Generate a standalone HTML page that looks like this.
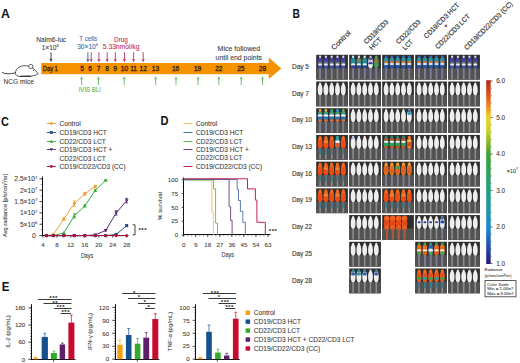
<!DOCTYPE html>
<html><head><meta charset="utf-8"><style>
html,body{margin:0;padding:0;background:#fff;}
body{width:520px;height:363px;overflow:hidden;}
svg{display:block;font-family:"Liberation Sans", sans-serif;}
</style></head><body>
<svg width="520" height="363" viewBox="0 0 520 363">
<text x="1.00" y="17.80" font-size="12.2" fill="#111" text-anchor="start" font-weight="bold" textLength="8.9" lengthAdjust="spacingAndGlyphs" >A</text>
<path d="M2,72.4 C5,74.4 10,74.0 15.4,72.9" fill="none" stroke="#222" stroke-width="0.85" />
<path d="M15.4,73.4 C15.4,68.6 20,65.6 25,65.7 C28.5,65.8 31,67 33.2,68.6 C35.2,70.2 36.8,71.8 38.2,73.7 C36.2,75.2 33.5,75.9 30.5,76.1 L19.5,76.4 C17.2,76.2 15.5,75.2 15.4,73.4 Z" fill="#fff" stroke="#222" stroke-width="0.75" />
<circle cx="30.8" cy="66.5" r="2.1" fill="#fff" stroke="#222" stroke-width="0.7"/>
<circle cx="31.1" cy="66.7" r="0.9" fill="#f4e4e8"/>
<circle cx="33.5" cy="70.3" r="0.55" fill="#222"/>
<line x1="20.00" y1="76.30" x2="31.00" y2="76.30" stroke="#222" stroke-width="1.0" />
<text x="3.60" y="84.40" font-size="6.6" fill="#3b3b3b" stroke="#3b3b3b" stroke-width="0.08" text-anchor="start" font-weight="normal" textLength="30.2" lengthAdjust="spacingAndGlyphs" >NCG mice</text>
<rect x="41.30" y="63.00" width="227.70" height="11.20" fill="#f59200" />
<path d="M268.8,57.6 L281.3,68.6 L268.8,79 Z" fill="#f59200" stroke="none" stroke-width="0.8" />
<text x="42.80" y="71.20" font-size="6.6" fill="#3a2408" stroke="#3a2408" stroke-width="0.3" text-anchor="start" font-weight="normal" textLength="15" lengthAdjust="spacingAndGlyphs" >Day 1</text>
<text x="82.10" y="71.20" font-size="6.6" fill="#3a2408" stroke="#3a2408" stroke-width="0.3" text-anchor="middle" font-weight="normal" >5</text>
<text x="90.20" y="71.20" font-size="6.6" fill="#3a2408" stroke="#3a2408" stroke-width="0.3" text-anchor="middle" font-weight="normal" >6</text>
<text x="98.50" y="71.20" font-size="6.6" fill="#3a2408" stroke="#3a2408" stroke-width="0.3" text-anchor="middle" font-weight="normal" >7</text>
<text x="107.20" y="71.20" font-size="6.6" fill="#3a2408" stroke="#3a2408" stroke-width="0.3" text-anchor="middle" font-weight="normal" >8</text>
<text x="115.20" y="71.20" font-size="6.6" fill="#3a2408" stroke="#3a2408" stroke-width="0.3" text-anchor="middle" font-weight="normal" >9</text>
<text x="124.40" y="71.20" font-size="6.6" fill="#3a2408" stroke="#3a2408" stroke-width="0.3" text-anchor="middle" font-weight="normal" >10</text>
<text x="133.60" y="71.20" font-size="6.6" fill="#3a2408" stroke="#3a2408" stroke-width="0.3" text-anchor="middle" font-weight="normal" >11</text>
<text x="143.20" y="71.20" font-size="6.6" fill="#3a2408" stroke="#3a2408" stroke-width="0.3" text-anchor="middle" font-weight="normal" >12</text>
<text x="155.40" y="71.20" font-size="6.6" fill="#3a2408" stroke="#3a2408" stroke-width="0.3" text-anchor="middle" font-weight="normal" >13</text>
<text x="175.60" y="71.20" font-size="6.6" fill="#3a2408" stroke="#3a2408" stroke-width="0.3" text-anchor="middle" font-weight="normal" >16</text>
<text x="197.60" y="71.20" font-size="6.6" fill="#3a2408" stroke="#3a2408" stroke-width="0.3" text-anchor="middle" font-weight="normal" >19</text>
<text x="218.80" y="71.20" font-size="6.6" fill="#3a2408" stroke="#3a2408" stroke-width="0.3" text-anchor="middle" font-weight="normal" >22</text>
<text x="240.80" y="71.20" font-size="6.6" fill="#3a2408" stroke="#3a2408" stroke-width="0.3" text-anchor="middle" font-weight="normal" >25</text>
<text x="262.50" y="71.20" font-size="6.6" fill="#3a2408" stroke="#3a2408" stroke-width="0.3" text-anchor="middle" font-weight="normal" >28</text>
<text x="51.20" y="42.00" font-size="6.6" fill="#3b3b3b" stroke="#3b3b3b" stroke-width="0.08" text-anchor="middle" font-weight="normal" textLength="30" lengthAdjust="spacingAndGlyphs" >Nalm6-luc</text>
<text x="50.20" y="49.60" font-size="6.6" fill="#3b3b3b" stroke="#3b3b3b" stroke-width="0.08" text-anchor="middle" font-weight="normal" >1×10<tspan font-size="4" dy="-2.6">6</tspan></text>
<line x1="51.00" y1="52.40" x2="51.00" y2="59.50" stroke="#222" stroke-width="0.85" />
<path d="M49.30,58.60 L51.00,62.00 L52.70,58.60 L51.00,59.60 Z" fill="#222" stroke="none" stroke-width="0.8" />
<text x="88.20" y="41.40" font-size="6.6" fill="#3a6aa8" stroke="#3a6aa8" stroke-width="0.08" text-anchor="middle" font-weight="normal" textLength="17.8" lengthAdjust="spacingAndGlyphs" >T cells</text>
<text x="87.60" y="48.60" font-size="6.6" fill="#3a6aa8" stroke="#3a6aa8" stroke-width="0.08" text-anchor="middle" font-weight="normal" >30×10<tspan font-size="4" dy="-2.6">6</tspan></text>
<text x="121.00" y="41.90" font-size="6.6" fill="#c02a5a" stroke="#c02a5a" stroke-width="0.08" text-anchor="middle" font-weight="normal" textLength="13.8" lengthAdjust="spacingAndGlyphs" >Drug</text>
<text x="121.10" y="49.00" font-size="6.6" fill="#c02a5a" stroke="#c02a5a" stroke-width="0.08" text-anchor="middle" font-weight="normal" textLength="36.6" lengthAdjust="spacingAndGlyphs" >5.33nmol/kg</text>
<line x1="87.90" y1="52.20" x2="87.90" y2="59.70" stroke="#2c4f8a" stroke-width="0.85" />
<path d="M86.20,58.80 L87.90,62.20 L89.60,58.80 L87.90,59.80 Z" fill="#2c4f8a" stroke="none" stroke-width="0.8" />
<line x1="91.20" y1="52.20" x2="91.20" y2="59.70" stroke="#b8245a" stroke-width="0.85" />
<path d="M89.50,58.80 L91.20,62.20 L92.90,58.80 L91.20,59.80 Z" fill="#b8245a" stroke="none" stroke-width="0.8" />
<line x1="98.90" y1="52.20" x2="98.90" y2="59.70" stroke="#b8245a" stroke-width="0.85" />
<path d="M97.20,58.80 L98.90,62.20 L100.60,58.80 L98.90,59.80 Z" fill="#b8245a" stroke="none" stroke-width="0.8" />
<line x1="107.20" y1="52.20" x2="107.20" y2="59.70" stroke="#b8245a" stroke-width="0.85" />
<path d="M105.50,58.80 L107.20,62.20 L108.90,58.80 L107.20,59.80 Z" fill="#b8245a" stroke="none" stroke-width="0.8" />
<line x1="115.30" y1="52.20" x2="115.30" y2="59.70" stroke="#b8245a" stroke-width="0.85" />
<path d="M113.60,58.80 L115.30,62.20 L117.00,58.80 L115.30,59.80 Z" fill="#b8245a" stroke="none" stroke-width="0.8" />
<line x1="124.50" y1="52.20" x2="124.50" y2="59.70" stroke="#b8245a" stroke-width="0.85" />
<path d="M122.80,58.80 L124.50,62.20 L126.20,58.80 L124.50,59.80 Z" fill="#b8245a" stroke="none" stroke-width="0.8" />
<line x1="133.60" y1="52.20" x2="133.60" y2="59.70" stroke="#b8245a" stroke-width="0.85" />
<path d="M131.90,58.80 L133.60,62.20 L135.30,58.80 L133.60,59.80 Z" fill="#b8245a" stroke="none" stroke-width="0.8" />
<line x1="143.20" y1="52.20" x2="143.20" y2="59.70" stroke="#b8245a" stroke-width="0.85" />
<path d="M141.50,58.80 L143.20,62.20 L144.90,58.80 L143.20,59.80 Z" fill="#b8245a" stroke="none" stroke-width="0.8" />
<line x1="81.60" y1="85.00" x2="81.60" y2="78.90" stroke="#4caf50" stroke-width="0.8" />
<path d="M80.10,79.60 L81.60,76.60 L83.10,79.60 L81.60,78.70 Z" fill="#4caf50" stroke="none" stroke-width="0.8" />
<line x1="98.50" y1="85.00" x2="98.50" y2="78.90" stroke="#4caf50" stroke-width="0.8" />
<path d="M97.00,79.60 L98.50,76.60 L100.00,79.60 L98.50,78.70 Z" fill="#4caf50" stroke="none" stroke-width="0.8" />
<line x1="124.20" y1="85.00" x2="124.20" y2="78.90" stroke="#4caf50" stroke-width="0.8" />
<path d="M122.70,79.60 L124.20,76.60 L125.70,79.60 L124.20,78.70 Z" fill="#4caf50" stroke="none" stroke-width="0.8" />
<line x1="155.70" y1="85.00" x2="155.70" y2="78.90" stroke="#4caf50" stroke-width="0.8" />
<path d="M154.20,79.60 L155.70,76.60 L157.20,79.60 L155.70,78.70 Z" fill="#4caf50" stroke="none" stroke-width="0.8" />
<line x1="176.00" y1="85.00" x2="176.00" y2="78.90" stroke="#4caf50" stroke-width="0.8" />
<path d="M174.50,79.60 L176.00,76.60 L177.50,79.60 L176.00,78.70 Z" fill="#4caf50" stroke="none" stroke-width="0.8" />
<line x1="198.00" y1="85.00" x2="198.00" y2="78.90" stroke="#4caf50" stroke-width="0.8" />
<path d="M196.50,79.60 L198.00,76.60 L199.50,79.60 L198.00,78.70 Z" fill="#4caf50" stroke="none" stroke-width="0.8" />
<line x1="218.80" y1="85.00" x2="218.80" y2="78.90" stroke="#4caf50" stroke-width="0.8" />
<path d="M217.30,79.60 L218.80,76.60 L220.30,79.60 L218.80,78.70 Z" fill="#4caf50" stroke="none" stroke-width="0.8" />
<line x1="241.20" y1="85.00" x2="241.20" y2="78.90" stroke="#4caf50" stroke-width="0.8" />
<path d="M239.70,79.60 L241.20,76.60 L242.70,79.60 L241.20,78.70 Z" fill="#4caf50" stroke="none" stroke-width="0.8" />
<line x1="262.50" y1="85.00" x2="262.50" y2="78.90" stroke="#4caf50" stroke-width="0.8" />
<path d="M261.00,79.60 L262.50,76.60 L264.00,79.60 L262.50,78.70 Z" fill="#4caf50" stroke="none" stroke-width="0.8" />
<text x="78.70" y="91.60" font-size="6.6" fill="#4caf50" stroke="#4caf50" stroke-width="0.08" text-anchor="start" font-weight="normal" textLength="22.1" lengthAdjust="spacingAndGlyphs" >IVIS BLI</text>
<text x="238.80" y="51.00" font-size="7" fill="#3b3b3b" stroke="#3b3b3b" stroke-width="0.08" text-anchor="middle" font-weight="normal" textLength="42.5" lengthAdjust="spacingAndGlyphs" >Mice followed</text>
<text x="238.80" y="59.60" font-size="7" fill="#3b3b3b" stroke="#3b3b3b" stroke-width="0.08" text-anchor="middle" font-weight="normal" textLength="46.5" lengthAdjust="spacingAndGlyphs" >until end points</text>
<text x="292.60" y="17.90" font-size="12.2" fill="#111" text-anchor="start" font-weight="bold" textLength="7.4" lengthAdjust="spacingAndGlyphs" >B</text>
<text x="292.00" y="68.90" font-size="7.0" fill="#3b3b3b" stroke="#3b3b3b" stroke-width="0.15" text-anchor="start" font-weight="normal" textLength="17.0" lengthAdjust="spacingAndGlyphs" >Day 5</text>
<text x="292.00" y="95.61" font-size="7.0" fill="#3b3b3b" stroke="#3b3b3b" stroke-width="0.15" text-anchor="start" font-weight="normal" textLength="17.0" lengthAdjust="spacingAndGlyphs" >Day 7</text>
<text x="292.00" y="122.32" font-size="7.0" fill="#3b3b3b" stroke="#3b3b3b" stroke-width="0.15" text-anchor="start" font-weight="normal" textLength="20.0" lengthAdjust="spacingAndGlyphs" >Day 10</text>
<text x="292.00" y="149.03" font-size="7.0" fill="#3b3b3b" stroke="#3b3b3b" stroke-width="0.15" text-anchor="start" font-weight="normal" textLength="20.0" lengthAdjust="spacingAndGlyphs" >Day 13</text>
<text x="292.00" y="175.74" font-size="7.0" fill="#3b3b3b" stroke="#3b3b3b" stroke-width="0.15" text-anchor="start" font-weight="normal" textLength="20.0" lengthAdjust="spacingAndGlyphs" >Day 16</text>
<text x="292.00" y="202.45" font-size="7.0" fill="#3b3b3b" stroke="#3b3b3b" stroke-width="0.15" text-anchor="start" font-weight="normal" textLength="20.0" lengthAdjust="spacingAndGlyphs" >Day 19</text>
<text x="292.00" y="229.16" font-size="7.0" fill="#3b3b3b" stroke="#3b3b3b" stroke-width="0.15" text-anchor="start" font-weight="normal" textLength="20.0" lengthAdjust="spacingAndGlyphs" >Day 22</text>
<text x="292.00" y="255.87" font-size="7.0" fill="#3b3b3b" stroke="#3b3b3b" stroke-width="0.15" text-anchor="start" font-weight="normal" textLength="20.0" lengthAdjust="spacingAndGlyphs" >Day 25</text>
<text x="292.00" y="282.58" font-size="7.0" fill="#3b3b3b" stroke="#3b3b3b" stroke-width="0.15" text-anchor="start" font-weight="normal" textLength="20.0" lengthAdjust="spacingAndGlyphs" >Day 28</text>
<text x="0" y="0" font-size="7.1" fill="#3b3b3b" stroke="#3b3b3b" stroke-width="0.2" text-anchor="start" textLength="24.5" lengthAdjust="spacingAndGlyphs" transform="translate(334.00,50.50) rotate(-45)">Control</text>
<text x="0" y="0" font-size="7.1" fill="#3b3b3b" stroke="#3b3b3b" stroke-width="0.2" text-anchor="start" textLength="31.5" lengthAdjust="spacingAndGlyphs" transform="translate(366.60,44.60) rotate(-45)">CD19/CD3</text>
<text x="0" y="0" font-size="7.1" fill="#3b3b3b" stroke="#3b3b3b" stroke-width="0.2" text-anchor="start" textLength="14.5" lengthAdjust="spacingAndGlyphs" transform="translate(372.00,50.40) rotate(-45)">HCT</text>
<text x="0" y="0" font-size="7.1" fill="#3b3b3b" stroke="#3b3b3b" stroke-width="0.2" text-anchor="start" textLength="31.5" lengthAdjust="spacingAndGlyphs" transform="translate(398.80,44.60) rotate(-45)">CD22/CD3</text>
<text x="0" y="0" font-size="7.1" fill="#3b3b3b" stroke="#3b3b3b" stroke-width="0.2" text-anchor="start" textLength="11.5" lengthAdjust="spacingAndGlyphs" transform="translate(405.30,50.40) rotate(-45)">LCT</text>
<text x="0" y="0" font-size="7.1" fill="#3b3b3b" stroke="#3b3b3b" stroke-width="0.2" text-anchor="start" textLength="47" lengthAdjust="spacingAndGlyphs" transform="translate(426.60,38.90) rotate(-45)">CD19/CD3 HCT</text>
<text x="0" y="0" font-size="6" fill="#3b3b3b" stroke="#3b3b3b" stroke-width="0.2" text-anchor="start" transform="translate(446.00,28.50) rotate(-45)">+</text>
<text x="0" y="0" font-size="7.1" fill="#3b3b3b" stroke="#3b3b3b" stroke-width="0.2" text-anchor="start" textLength="46" lengthAdjust="spacingAndGlyphs" transform="translate(438.00,49.40) rotate(-45)">CD22/CD3 LCT</text>
<text x="0" y="0" font-size="7.1" fill="#3b3b3b" stroke="#3b3b3b" stroke-width="0.2" text-anchor="start" textLength="65" lengthAdjust="spacingAndGlyphs" transform="translate(467.00,50.40) rotate(-45)">CD19/CD22/CD3 (CC)</text>
<rect x="316.20" y="54.80" width="31.70" height="24.80" fill="#2e2e2e" />
<rect x="316.20" y="68.20" width="31.70" height="11.40" fill="#525252" />
<line x1="320.10" y1="67.70" x2="320.10" y2="79.20" stroke="#8c8c8c" stroke-width="1.6" />
<path d="M320.10,55.70 C321.00,55.70 321.30,56.80 321.40,58.00 C321.90,58.60 322.50,59.80 322.50,63.00 C322.60,66.40 321.90,68.60 320.10,68.60 C318.30,68.60 317.60,66.40 317.70,63.00 C317.70,59.80 318.30,58.60 318.80,58.00 C318.90,56.80 319.20,55.70 320.10,55.70 Z" fill="#4a4a9a" stroke="none" stroke-width="0.8" />
<ellipse cx="320.10" cy="56.80" rx="1.10" ry="1.30" fill="#d8d8ec"/>
<ellipse cx="320.10" cy="59.70" rx="2.10" ry="1.80" fill="#40409a"/>
<ellipse cx="320.10" cy="63.10" rx="2.10" ry="0.50" fill="#90b040"/>
<ellipse cx="320.10" cy="64.60" rx="2.00" ry="1.20" fill="#e8e8f0"/>
<ellipse cx="320.10" cy="67.20" rx="1.70" ry="1.40" fill="#4050a0"/>
<line x1="320.10" y1="68.40" x2="320.10" y2="77.60" stroke="#7a7a9c" stroke-width="1.3" />
<line x1="325.90" y1="67.70" x2="325.90" y2="79.20" stroke="#8c8c8c" stroke-width="1.6" />
<path d="M325.90,55.70 C326.80,55.70 327.10,56.80 327.20,58.00 C327.70,58.60 328.30,59.80 328.30,63.00 C328.40,66.40 327.70,68.60 325.90,68.60 C324.10,68.60 323.40,66.40 323.50,63.00 C323.50,59.80 324.10,58.60 324.60,58.00 C324.70,56.80 325.00,55.70 325.90,55.70 Z" fill="#4a4a9a" stroke="none" stroke-width="0.8" />
<ellipse cx="325.90" cy="56.80" rx="1.10" ry="1.30" fill="#d8d8ec"/>
<ellipse cx="325.90" cy="59.70" rx="2.10" ry="1.80" fill="#40409a"/>
<ellipse cx="325.90" cy="63.10" rx="2.10" ry="0.50" fill="#90b040"/>
<ellipse cx="325.90" cy="64.60" rx="2.00" ry="1.20" fill="#e8e8f0"/>
<ellipse cx="325.90" cy="67.20" rx="1.70" ry="1.40" fill="#4050a0"/>
<line x1="325.90" y1="68.40" x2="325.90" y2="77.60" stroke="#7a7a9c" stroke-width="1.3" />
<line x1="331.70" y1="67.70" x2="331.70" y2="79.20" stroke="#8c8c8c" stroke-width="1.6" />
<path d="M331.70,55.70 C332.60,55.70 332.90,56.80 333.00,58.00 C333.50,58.60 334.10,59.80 334.10,63.00 C334.20,66.40 333.50,68.60 331.70,68.60 C329.90,68.60 329.20,66.40 329.30,63.00 C329.30,59.80 329.90,58.60 330.40,58.00 C330.50,56.80 330.80,55.70 331.70,55.70 Z" fill="#4a4a9a" stroke="none" stroke-width="0.8" />
<ellipse cx="331.70" cy="56.80" rx="1.10" ry="1.30" fill="#d8d8ec"/>
<ellipse cx="331.70" cy="59.70" rx="2.10" ry="1.80" fill="#40409a"/>
<ellipse cx="331.70" cy="63.10" rx="2.10" ry="0.50" fill="#90b040"/>
<ellipse cx="331.70" cy="64.60" rx="2.00" ry="1.20" fill="#e8e8f0"/>
<ellipse cx="331.70" cy="67.20" rx="1.70" ry="1.40" fill="#4050a0"/>
<line x1="331.70" y1="68.40" x2="331.70" y2="77.60" stroke="#7a7a9c" stroke-width="1.3" />
<line x1="337.50" y1="67.70" x2="337.50" y2="79.20" stroke="#8c8c8c" stroke-width="1.6" />
<path d="M337.50,55.70 C338.40,55.70 338.70,56.80 338.80,58.00 C339.30,58.60 339.90,59.80 339.90,63.00 C340.00,66.40 339.30,68.60 337.50,68.60 C335.70,68.60 335.00,66.40 335.10,63.00 C335.10,59.80 335.70,58.60 336.20,58.00 C336.30,56.80 336.60,55.70 337.50,55.70 Z" fill="#4a4a9a" stroke="none" stroke-width="0.8" />
<ellipse cx="337.50" cy="56.80" rx="1.10" ry="1.30" fill="#d8d8ec"/>
<ellipse cx="337.50" cy="59.70" rx="2.10" ry="1.80" fill="#40409a"/>
<ellipse cx="337.50" cy="63.10" rx="2.10" ry="0.50" fill="#90b040"/>
<ellipse cx="337.50" cy="64.60" rx="2.00" ry="1.20" fill="#e8e8f0"/>
<ellipse cx="337.50" cy="67.20" rx="1.70" ry="1.40" fill="#4050a0"/>
<line x1="337.50" y1="68.40" x2="337.50" y2="77.60" stroke="#7a7a9c" stroke-width="1.3" />
<line x1="343.30" y1="67.70" x2="343.30" y2="79.20" stroke="#8c8c8c" stroke-width="1.6" />
<path d="M343.30,55.70 C344.20,55.70 344.50,56.80 344.60,58.00 C345.10,58.60 345.70,59.80 345.70,63.00 C345.80,66.40 345.10,68.60 343.30,68.60 C341.50,68.60 340.80,66.40 340.90,63.00 C340.90,59.80 341.50,58.60 342.00,58.00 C342.10,56.80 342.40,55.70 343.30,55.70 Z" fill="#4a4a9a" stroke="none" stroke-width="0.8" />
<ellipse cx="343.30" cy="56.80" rx="1.10" ry="1.30" fill="#d8d8ec"/>
<ellipse cx="343.30" cy="59.70" rx="2.10" ry="1.80" fill="#40409a"/>
<ellipse cx="343.30" cy="63.10" rx="2.10" ry="0.50" fill="#90b040"/>
<ellipse cx="343.30" cy="64.60" rx="2.00" ry="1.20" fill="#e8e8f0"/>
<ellipse cx="343.30" cy="67.20" rx="1.70" ry="1.40" fill="#4050a0"/>
<line x1="343.30" y1="68.40" x2="343.30" y2="77.60" stroke="#7a7a9c" stroke-width="1.3" />
<rect x="349.20" y="54.80" width="31.70" height="24.80" fill="#2e2e2e" />
<rect x="349.20" y="68.20" width="31.70" height="11.40" fill="#525252" />
<line x1="353.10" y1="67.70" x2="353.10" y2="79.20" stroke="#8c8c8c" stroke-width="1.6" />
<path d="M353.10,55.70 C354.00,55.70 354.30,56.80 354.40,58.00 C354.90,58.60 355.50,59.80 355.50,63.00 C355.60,66.40 354.90,68.60 353.10,68.60 C351.30,68.60 350.60,66.40 350.70,63.00 C350.70,59.80 351.30,58.60 351.80,58.00 C351.90,56.80 352.20,55.70 353.10,55.70 Z" fill="#2a8a9a" stroke="none" stroke-width="0.8" />
<ellipse cx="353.10" cy="56.80" rx="1.10" ry="1.30" fill="#e0e8f0"/>
<ellipse cx="353.10" cy="60.20" rx="2.20" ry="1.80" fill="#2a8a98"/>
<ellipse cx="353.10" cy="64.40" rx="2.10" ry="1.10" fill="#eeeeee"/>
<ellipse cx="353.10" cy="67.00" rx="1.80" ry="1.40" fill="#3a3aa0"/>
<line x1="353.10" y1="68.40" x2="353.10" y2="77.60" stroke="#7a7a9c" stroke-width="1.3" />
<line x1="358.90" y1="67.70" x2="358.90" y2="79.20" stroke="#8c8c8c" stroke-width="1.6" />
<path d="M358.90,55.70 C359.80,55.70 360.10,56.80 360.20,58.00 C360.70,58.60 361.30,59.80 361.30,63.00 C361.40,66.40 360.70,68.60 358.90,68.60 C357.10,68.60 356.40,66.40 356.50,63.00 C356.50,59.80 357.10,58.60 357.60,58.00 C357.70,56.80 358.00,55.70 358.90,55.70 Z" fill="#2a8a9a" stroke="none" stroke-width="0.8" />
<ellipse cx="358.90" cy="56.80" rx="1.10" ry="1.30" fill="#e0e8f0"/>
<ellipse cx="358.90" cy="60.20" rx="2.20" ry="1.80" fill="#8a8040"/>
<ellipse cx="358.90" cy="64.40" rx="2.10" ry="1.10" fill="#eeeeee"/>
<ellipse cx="358.90" cy="67.00" rx="1.80" ry="1.40" fill="#3a3aa0"/>
<line x1="358.90" y1="68.40" x2="358.90" y2="77.60" stroke="#7a7a9c" stroke-width="1.3" />
<line x1="364.70" y1="67.70" x2="364.70" y2="79.20" stroke="#8c8c8c" stroke-width="1.6" />
<path d="M364.70,55.70 C365.60,55.70 365.90,56.80 366.00,58.00 C366.50,58.60 367.10,59.80 367.10,63.00 C367.20,66.40 366.50,68.60 364.70,68.60 C362.90,68.60 362.20,66.40 362.30,63.00 C362.30,59.80 362.90,58.60 363.40,58.00 C363.50,56.80 363.80,55.70 364.70,55.70 Z" fill="#2a8a9a" stroke="none" stroke-width="0.8" />
<ellipse cx="364.70" cy="56.80" rx="1.10" ry="1.30" fill="#e0e8f0"/>
<ellipse cx="364.70" cy="60.20" rx="2.20" ry="1.80" fill="#2a8a98"/>
<ellipse cx="364.70" cy="64.40" rx="2.10" ry="1.10" fill="#eeeeee"/>
<ellipse cx="364.70" cy="67.00" rx="1.80" ry="1.40" fill="#3a3aa0"/>
<line x1="364.70" y1="68.40" x2="364.70" y2="77.60" stroke="#7a7a9c" stroke-width="1.3" />
<line x1="370.50" y1="67.70" x2="370.50" y2="79.20" stroke="#8c8c8c" stroke-width="1.6" />
<path d="M370.50,55.70 C371.40,55.70 371.70,56.80 371.80,58.00 C372.30,58.60 372.90,59.80 372.90,63.00 C373.00,66.40 372.30,68.60 370.50,68.60 C368.70,68.60 368.00,66.40 368.10,63.00 C368.10,59.80 368.70,58.60 369.20,58.00 C369.30,56.80 369.60,55.70 370.50,55.70 Z" fill="#d8d8ec" stroke="none" stroke-width="0.8" />
<ellipse cx="370.50" cy="58.70" rx="1.80" ry="1.50" fill="#5060b0"/>
<ellipse cx="370.50" cy="63.20" rx="2.00" ry="1.20" fill="#3a3aa0"/>
<ellipse cx="370.50" cy="65.70" rx="2.00" ry="1.50" fill="#f0f0f0"/>
<line x1="370.50" y1="68.40" x2="370.50" y2="77.60" stroke="#7a7a9c" stroke-width="1.3" />
<line x1="376.30" y1="67.70" x2="376.30" y2="79.20" stroke="#8c8c8c" stroke-width="1.6" />
<path d="M376.30,55.70 C377.20,55.70 377.50,56.80 377.60,58.00 C378.10,58.60 378.70,59.80 378.70,63.00 C378.80,66.40 378.10,68.60 376.30,68.60 C374.50,68.60 373.80,66.40 373.90,63.00 C373.90,59.80 374.50,58.60 375.00,58.00 C375.10,56.80 375.40,55.70 376.30,55.70 Z" fill="#4a8a50" stroke="none" stroke-width="0.8" />
<ellipse cx="376.30" cy="57.20" rx="1.20" ry="1.60" fill="#50a070"/>
<ellipse cx="376.30" cy="61.20" rx="2.40" ry="2.00" fill="#8a7a40"/>
<ellipse cx="376.30" cy="65.20" rx="2.20" ry="2.00" fill="#40a060"/>
<line x1="376.30" y1="68.40" x2="376.30" y2="77.60" stroke="#7a7a9c" stroke-width="1.3" />
<rect x="382.20" y="54.80" width="31.70" height="24.80" fill="#2e2e2e" />
<rect x="382.20" y="68.20" width="31.70" height="11.40" fill="#525252" />
<line x1="386.10" y1="67.70" x2="386.10" y2="79.20" stroke="#8c8c8c" stroke-width="1.6" />
<path d="M386.10,55.70 C387.00,55.70 387.30,56.80 387.40,58.00 C387.90,58.60 388.50,59.80 388.50,63.00 C388.60,66.40 387.90,68.60 386.10,68.60 C384.30,68.60 383.60,66.40 383.70,63.00 C383.70,59.80 384.30,58.60 384.80,58.00 C384.90,56.80 385.20,55.70 386.10,55.70 Z" fill="#2a6ab0" stroke="none" stroke-width="0.8" />
<ellipse cx="386.10" cy="57.00" rx="1.20" ry="1.50" fill="#3a70c0"/>
<ellipse cx="386.10" cy="59.40" rx="2.10" ry="1.60" fill="#2a9a9a"/>
<ellipse cx="386.10" cy="62.00" rx="2.20" ry="0.90" fill="#e07a28"/>
<ellipse cx="386.10" cy="64.00" rx="2.10" ry="1.10" fill="#f0f0f0"/>
<ellipse cx="386.10" cy="66.80" rx="1.90" ry="1.50" fill="#2a50a8"/>
<line x1="386.10" y1="68.40" x2="386.10" y2="77.60" stroke="#7a7a9c" stroke-width="1.3" />
<line x1="391.90" y1="67.70" x2="391.90" y2="79.20" stroke="#8c8c8c" stroke-width="1.6" />
<path d="M391.90,55.70 C392.80,55.70 393.10,56.80 393.20,58.00 C393.70,58.60 394.30,59.80 394.30,63.00 C394.40,66.40 393.70,68.60 391.90,68.60 C390.10,68.60 389.40,66.40 389.50,63.00 C389.50,59.80 390.10,58.60 390.60,58.00 C390.70,56.80 391.00,55.70 391.90,55.70 Z" fill="#2a6ab0" stroke="none" stroke-width="0.8" />
<ellipse cx="391.90" cy="57.00" rx="1.20" ry="1.50" fill="#3a70c0"/>
<ellipse cx="391.90" cy="59.40" rx="2.10" ry="1.60" fill="#2a9a9a"/>
<ellipse cx="391.90" cy="62.00" rx="2.20" ry="0.90" fill="#e07a28"/>
<ellipse cx="391.90" cy="64.00" rx="2.10" ry="1.10" fill="#f0f0f0"/>
<ellipse cx="391.90" cy="66.80" rx="1.90" ry="1.50" fill="#2a50a8"/>
<line x1="391.90" y1="68.40" x2="391.90" y2="77.60" stroke="#7a7a9c" stroke-width="1.3" />
<line x1="397.70" y1="67.70" x2="397.70" y2="79.20" stroke="#8c8c8c" stroke-width="1.6" />
<path d="M397.70,55.70 C398.60,55.70 398.90,56.80 399.00,58.00 C399.50,58.60 400.10,59.80 400.10,63.00 C400.20,66.40 399.50,68.60 397.70,68.60 C395.90,68.60 395.20,66.40 395.30,63.00 C395.30,59.80 395.90,58.60 396.40,58.00 C396.50,56.80 396.80,55.70 397.70,55.70 Z" fill="#2a6ab0" stroke="none" stroke-width="0.8" />
<ellipse cx="397.70" cy="57.00" rx="1.20" ry="1.50" fill="#3a70c0"/>
<ellipse cx="397.70" cy="59.40" rx="2.10" ry="1.60" fill="#2a9a9a"/>
<ellipse cx="397.70" cy="62.00" rx="2.20" ry="0.90" fill="#e07a28"/>
<ellipse cx="397.70" cy="64.00" rx="2.10" ry="1.10" fill="#f0f0f0"/>
<ellipse cx="397.70" cy="66.80" rx="1.90" ry="1.50" fill="#2a50a8"/>
<line x1="397.70" y1="68.40" x2="397.70" y2="77.60" stroke="#7a7a9c" stroke-width="1.3" />
<line x1="403.50" y1="67.70" x2="403.50" y2="79.20" stroke="#8c8c8c" stroke-width="1.6" />
<path d="M403.50,55.70 C404.40,55.70 404.70,56.80 404.80,58.00 C405.30,58.60 405.90,59.80 405.90,63.00 C406.00,66.40 405.30,68.60 403.50,68.60 C401.70,68.60 401.00,66.40 401.10,63.00 C401.10,59.80 401.70,58.60 402.20,58.00 C402.30,56.80 402.60,55.70 403.50,55.70 Z" fill="#2a6ab0" stroke="none" stroke-width="0.8" />
<ellipse cx="403.50" cy="57.00" rx="1.20" ry="1.50" fill="#3a70c0"/>
<ellipse cx="403.50" cy="59.40" rx="2.10" ry="1.60" fill="#2a9a9a"/>
<ellipse cx="403.50" cy="62.00" rx="2.20" ry="0.90" fill="#e07a28"/>
<ellipse cx="403.50" cy="64.00" rx="2.10" ry="1.10" fill="#f0f0f0"/>
<ellipse cx="403.50" cy="66.80" rx="1.90" ry="1.50" fill="#2a50a8"/>
<line x1="403.50" y1="68.40" x2="403.50" y2="77.60" stroke="#7a7a9c" stroke-width="1.3" />
<line x1="409.30" y1="67.70" x2="409.30" y2="79.20" stroke="#8c8c8c" stroke-width="1.6" />
<path d="M409.30,55.70 C410.20,55.70 410.50,56.80 410.60,58.00 C411.10,58.60 411.70,59.80 411.70,63.00 C411.80,66.40 411.10,68.60 409.30,68.60 C407.50,68.60 406.80,66.40 406.90,63.00 C406.90,59.80 407.50,58.60 408.00,58.00 C408.10,56.80 408.40,55.70 409.30,55.70 Z" fill="#2a6ab0" stroke="none" stroke-width="0.8" />
<ellipse cx="409.30" cy="57.00" rx="1.20" ry="1.50" fill="#3a70c0"/>
<ellipse cx="409.30" cy="59.40" rx="2.10" ry="1.60" fill="#2a9a9a"/>
<ellipse cx="409.30" cy="62.00" rx="2.20" ry="0.90" fill="#e07a28"/>
<ellipse cx="409.30" cy="64.00" rx="2.10" ry="1.10" fill="#f0f0f0"/>
<ellipse cx="409.30" cy="66.80" rx="1.90" ry="1.50" fill="#2a50a8"/>
<line x1="409.30" y1="68.40" x2="409.30" y2="77.60" stroke="#7a7a9c" stroke-width="1.3" />
<rect x="415.20" y="54.80" width="31.70" height="24.80" fill="#2e2e2e" />
<rect x="415.20" y="68.20" width="31.70" height="11.40" fill="#525252" />
<line x1="419.10" y1="67.70" x2="419.10" y2="79.20" stroke="#8c8c8c" stroke-width="1.6" />
<path d="M419.10,55.70 C420.00,55.70 420.30,56.80 420.40,58.00 C420.90,58.60 421.50,59.80 421.50,63.00 C421.60,66.40 420.90,68.60 419.10,68.60 C417.30,68.60 416.60,66.40 416.70,63.00 C416.70,59.80 417.30,58.60 417.80,58.00 C417.90,56.80 418.20,55.70 419.10,55.70 Z" fill="#2a6ab0" stroke="none" stroke-width="0.8" />
<ellipse cx="419.10" cy="57.00" rx="1.20" ry="1.50" fill="#3a70c0"/>
<ellipse cx="419.10" cy="59.40" rx="2.10" ry="1.60" fill="#2a9a9a"/>
<ellipse cx="419.10" cy="62.00" rx="2.20" ry="0.90" fill="#e07a28"/>
<ellipse cx="419.10" cy="64.00" rx="2.10" ry="1.10" fill="#f0f0f0"/>
<ellipse cx="419.10" cy="66.80" rx="1.90" ry="1.50" fill="#2a50a8"/>
<line x1="419.10" y1="68.40" x2="419.10" y2="77.60" stroke="#7a7a9c" stroke-width="1.3" />
<line x1="424.90" y1="67.70" x2="424.90" y2="79.20" stroke="#8c8c8c" stroke-width="1.6" />
<path d="M424.90,55.70 C425.80,55.70 426.10,56.80 426.20,58.00 C426.70,58.60 427.30,59.80 427.30,63.00 C427.40,66.40 426.70,68.60 424.90,68.60 C423.10,68.60 422.40,66.40 422.50,63.00 C422.50,59.80 423.10,58.60 423.60,58.00 C423.70,56.80 424.00,55.70 424.90,55.70 Z" fill="#2a6ab0" stroke="none" stroke-width="0.8" />
<ellipse cx="424.90" cy="57.00" rx="1.20" ry="1.50" fill="#3a70c0"/>
<ellipse cx="424.90" cy="59.40" rx="2.10" ry="1.60" fill="#2a9a9a"/>
<ellipse cx="424.90" cy="62.00" rx="2.20" ry="0.90" fill="#e07a28"/>
<ellipse cx="424.90" cy="64.00" rx="2.10" ry="1.10" fill="#f0f0f0"/>
<ellipse cx="424.90" cy="66.80" rx="1.90" ry="1.50" fill="#2a50a8"/>
<line x1="424.90" y1="68.40" x2="424.90" y2="77.60" stroke="#7a7a9c" stroke-width="1.3" />
<line x1="430.70" y1="67.70" x2="430.70" y2="79.20" stroke="#8c8c8c" stroke-width="1.6" />
<path d="M430.70,55.70 C431.60,55.70 431.90,56.80 432.00,58.00 C432.50,58.60 433.10,59.80 433.10,63.00 C433.20,66.40 432.50,68.60 430.70,68.60 C428.90,68.60 428.20,66.40 428.30,63.00 C428.30,59.80 428.90,58.60 429.40,58.00 C429.50,56.80 429.80,55.70 430.70,55.70 Z" fill="#2a6ab0" stroke="none" stroke-width="0.8" />
<ellipse cx="430.70" cy="57.00" rx="1.20" ry="1.50" fill="#3a70c0"/>
<ellipse cx="430.70" cy="59.40" rx="2.10" ry="1.60" fill="#2a9a9a"/>
<ellipse cx="430.70" cy="62.00" rx="2.20" ry="0.90" fill="#e07a28"/>
<ellipse cx="430.70" cy="64.00" rx="2.10" ry="1.10" fill="#f0f0f0"/>
<ellipse cx="430.70" cy="66.80" rx="1.90" ry="1.50" fill="#2a50a8"/>
<line x1="430.70" y1="68.40" x2="430.70" y2="77.60" stroke="#7a7a9c" stroke-width="1.3" />
<line x1="436.50" y1="67.70" x2="436.50" y2="79.20" stroke="#8c8c8c" stroke-width="1.6" />
<path d="M436.50,55.70 C437.40,55.70 437.70,56.80 437.80,58.00 C438.30,58.60 438.90,59.80 438.90,63.00 C439.00,66.40 438.30,68.60 436.50,68.60 C434.70,68.60 434.00,66.40 434.10,63.00 C434.10,59.80 434.70,58.60 435.20,58.00 C435.30,56.80 435.60,55.70 436.50,55.70 Z" fill="#2a6ab0" stroke="none" stroke-width="0.8" />
<ellipse cx="436.50" cy="57.00" rx="1.20" ry="1.50" fill="#3a70c0"/>
<ellipse cx="436.50" cy="59.40" rx="2.10" ry="1.60" fill="#2a9a9a"/>
<ellipse cx="436.50" cy="62.00" rx="2.20" ry="0.90" fill="#e07a28"/>
<ellipse cx="436.50" cy="64.00" rx="2.10" ry="1.10" fill="#f0f0f0"/>
<ellipse cx="436.50" cy="66.80" rx="1.90" ry="1.50" fill="#2a50a8"/>
<line x1="436.50" y1="68.40" x2="436.50" y2="77.60" stroke="#7a7a9c" stroke-width="1.3" />
<line x1="442.30" y1="67.70" x2="442.30" y2="79.20" stroke="#8c8c8c" stroke-width="1.6" />
<path d="M442.30,55.70 C443.20,55.70 443.50,56.80 443.60,58.00 C444.10,58.60 444.70,59.80 444.70,63.00 C444.80,66.40 444.10,68.60 442.30,68.60 C440.50,68.60 439.80,66.40 439.90,63.00 C439.90,59.80 440.50,58.60 441.00,58.00 C441.10,56.80 441.40,55.70 442.30,55.70 Z" fill="#2a6ab0" stroke="none" stroke-width="0.8" />
<ellipse cx="442.30" cy="57.00" rx="1.20" ry="1.50" fill="#3a70c0"/>
<ellipse cx="442.30" cy="59.40" rx="2.10" ry="1.60" fill="#2a9a9a"/>
<ellipse cx="442.30" cy="62.00" rx="2.20" ry="0.90" fill="#e07a28"/>
<ellipse cx="442.30" cy="64.00" rx="2.10" ry="1.10" fill="#f0f0f0"/>
<ellipse cx="442.30" cy="66.80" rx="1.90" ry="1.50" fill="#2a50a8"/>
<line x1="442.30" y1="68.40" x2="442.30" y2="77.60" stroke="#7a7a9c" stroke-width="1.3" />
<rect x="448.20" y="54.80" width="31.70" height="24.80" fill="#2e2e2e" />
<rect x="448.20" y="68.20" width="31.70" height="11.40" fill="#525252" />
<line x1="452.10" y1="67.70" x2="452.10" y2="79.20" stroke="#8c8c8c" stroke-width="1.6" />
<path d="M452.10,55.70 C453.00,55.70 453.30,56.80 453.40,58.00 C453.90,58.60 454.50,59.80 454.50,63.00 C454.60,66.40 453.90,68.60 452.10,68.60 C450.30,68.60 449.60,66.40 449.70,63.00 C449.70,59.80 450.30,58.60 450.80,58.00 C450.90,56.80 451.20,55.70 452.10,55.70 Z" fill="#4a4a9a" stroke="none" stroke-width="0.8" />
<ellipse cx="452.10" cy="56.80" rx="1.10" ry="1.30" fill="#d8d8ec"/>
<ellipse cx="452.10" cy="59.70" rx="2.10" ry="1.80" fill="#40409a"/>
<ellipse cx="452.10" cy="63.10" rx="2.10" ry="0.50" fill="#90b040"/>
<ellipse cx="452.10" cy="64.60" rx="2.00" ry="1.20" fill="#e8e8f0"/>
<ellipse cx="452.10" cy="67.20" rx="1.70" ry="1.40" fill="#4050a0"/>
<line x1="452.10" y1="68.40" x2="452.10" y2="77.60" stroke="#7a7a9c" stroke-width="1.3" />
<line x1="457.90" y1="67.70" x2="457.90" y2="79.20" stroke="#8c8c8c" stroke-width="1.6" />
<path d="M457.90,55.70 C458.80,55.70 459.10,56.80 459.20,58.00 C459.70,58.60 460.30,59.80 460.30,63.00 C460.40,66.40 459.70,68.60 457.90,68.60 C456.10,68.60 455.40,66.40 455.50,63.00 C455.50,59.80 456.10,58.60 456.60,58.00 C456.70,56.80 457.00,55.70 457.90,55.70 Z" fill="#4a4a9a" stroke="none" stroke-width="0.8" />
<ellipse cx="457.90" cy="56.80" rx="1.10" ry="1.30" fill="#d8d8ec"/>
<ellipse cx="457.90" cy="59.70" rx="2.10" ry="1.80" fill="#40409a"/>
<ellipse cx="457.90" cy="63.10" rx="2.10" ry="0.50" fill="#90b040"/>
<ellipse cx="457.90" cy="64.60" rx="2.00" ry="1.20" fill="#e8e8f0"/>
<ellipse cx="457.90" cy="67.20" rx="1.70" ry="1.40" fill="#4050a0"/>
<line x1="457.90" y1="68.40" x2="457.90" y2="77.60" stroke="#7a7a9c" stroke-width="1.3" />
<line x1="463.70" y1="67.70" x2="463.70" y2="79.20" stroke="#8c8c8c" stroke-width="1.6" />
<path d="M463.70,55.70 C464.60,55.70 464.90,56.80 465.00,58.00 C465.50,58.60 466.10,59.80 466.10,63.00 C466.20,66.40 465.50,68.60 463.70,68.60 C461.90,68.60 461.20,66.40 461.30,63.00 C461.30,59.80 461.90,58.60 462.40,58.00 C462.50,56.80 462.80,55.70 463.70,55.70 Z" fill="#4a4a9a" stroke="none" stroke-width="0.8" />
<ellipse cx="463.70" cy="56.80" rx="1.10" ry="1.30" fill="#d8d8ec"/>
<ellipse cx="463.70" cy="59.70" rx="2.10" ry="1.80" fill="#40409a"/>
<ellipse cx="463.70" cy="63.10" rx="2.10" ry="0.50" fill="#90b040"/>
<ellipse cx="463.70" cy="64.60" rx="2.00" ry="1.20" fill="#e8e8f0"/>
<ellipse cx="463.70" cy="67.20" rx="1.70" ry="1.40" fill="#4050a0"/>
<line x1="463.70" y1="68.40" x2="463.70" y2="77.60" stroke="#7a7a9c" stroke-width="1.3" />
<line x1="469.50" y1="67.70" x2="469.50" y2="79.20" stroke="#8c8c8c" stroke-width="1.6" />
<path d="M469.50,55.70 C470.40,55.70 470.70,56.80 470.80,58.00 C471.30,58.60 471.90,59.80 471.90,63.00 C472.00,66.40 471.30,68.60 469.50,68.60 C467.70,68.60 467.00,66.40 467.10,63.00 C467.10,59.80 467.70,58.60 468.20,58.00 C468.30,56.80 468.60,55.70 469.50,55.70 Z" fill="#4a4a9a" stroke="none" stroke-width="0.8" />
<ellipse cx="469.50" cy="56.80" rx="1.10" ry="1.30" fill="#d8d8ec"/>
<ellipse cx="469.50" cy="59.70" rx="2.10" ry="1.80" fill="#40409a"/>
<ellipse cx="469.50" cy="63.10" rx="2.10" ry="0.50" fill="#90b040"/>
<ellipse cx="469.50" cy="64.60" rx="2.00" ry="1.20" fill="#e8e8f0"/>
<ellipse cx="469.50" cy="67.20" rx="1.70" ry="1.40" fill="#4050a0"/>
<line x1="469.50" y1="68.40" x2="469.50" y2="77.60" stroke="#7a7a9c" stroke-width="1.3" />
<line x1="475.30" y1="67.70" x2="475.30" y2="79.20" stroke="#8c8c8c" stroke-width="1.6" />
<path d="M475.30,55.70 C476.20,55.70 476.50,56.80 476.60,58.00 C477.10,58.60 477.70,59.80 477.70,63.00 C477.80,66.40 477.10,68.60 475.30,68.60 C473.50,68.60 472.80,66.40 472.90,63.00 C472.90,59.80 473.50,58.60 474.00,58.00 C474.10,56.80 474.40,55.70 475.30,55.70 Z" fill="#4a4a9a" stroke="none" stroke-width="0.8" />
<ellipse cx="475.30" cy="56.80" rx="1.10" ry="1.30" fill="#d8d8ec"/>
<ellipse cx="475.30" cy="59.70" rx="2.10" ry="1.80" fill="#40409a"/>
<ellipse cx="475.30" cy="63.10" rx="2.10" ry="0.50" fill="#90b040"/>
<ellipse cx="475.30" cy="64.60" rx="2.00" ry="1.20" fill="#e8e8f0"/>
<ellipse cx="475.30" cy="67.20" rx="1.70" ry="1.40" fill="#4050a0"/>
<line x1="475.30" y1="68.40" x2="475.30" y2="77.60" stroke="#7a7a9c" stroke-width="1.3" />
<rect x="316.20" y="81.51" width="31.70" height="24.80" fill="#2e2e2e" />
<rect x="316.20" y="94.91" width="31.70" height="11.40" fill="#525252" />
<line x1="320.10" y1="94.41" x2="320.10" y2="105.91" stroke="#8c8c8c" stroke-width="1.6" />
<path d="M320.10,82.41 C321.00,82.41 321.30,83.51 321.40,84.71 C321.90,85.31 322.50,86.51 322.50,89.71 C322.60,93.11 321.90,95.31 320.10,95.31 C318.30,95.31 317.60,93.11 317.70,89.71 C317.70,86.51 318.30,85.31 318.80,84.71 C318.90,83.51 319.20,82.41 320.10,82.41 Z" fill="#eeeeee" stroke="none" stroke-width="0.8" />
<line x1="325.90" y1="94.41" x2="325.90" y2="105.91" stroke="#8c8c8c" stroke-width="1.6" />
<path d="M325.90,82.41 C326.80,82.41 327.10,83.51 327.20,84.71 C327.70,85.31 328.30,86.51 328.30,89.71 C328.40,93.11 327.70,95.31 325.90,95.31 C324.10,95.31 323.40,93.11 323.50,89.71 C323.50,86.51 324.10,85.31 324.60,84.71 C324.70,83.51 325.00,82.41 325.90,82.41 Z" fill="#eeeeee" stroke="none" stroke-width="0.8" />
<line x1="331.70" y1="94.41" x2="331.70" y2="105.91" stroke="#8c8c8c" stroke-width="1.6" />
<path d="M331.70,82.41 C332.60,82.41 332.90,83.51 333.00,84.71 C333.50,85.31 334.10,86.51 334.10,89.71 C334.20,93.11 333.50,95.31 331.70,95.31 C329.90,95.31 329.20,93.11 329.30,89.71 C329.30,86.51 329.90,85.31 330.40,84.71 C330.50,83.51 330.80,82.41 331.70,82.41 Z" fill="#eeeeee" stroke="none" stroke-width="0.8" />
<line x1="337.50" y1="94.41" x2="337.50" y2="105.91" stroke="#8c8c8c" stroke-width="1.6" />
<path d="M337.50,82.41 C338.40,82.41 338.70,83.51 338.80,84.71 C339.30,85.31 339.90,86.51 339.90,89.71 C340.00,93.11 339.30,95.31 337.50,95.31 C335.70,95.31 335.00,93.11 335.10,89.71 C335.10,86.51 335.70,85.31 336.20,84.71 C336.30,83.51 336.60,82.41 337.50,82.41 Z" fill="#eeeeee" stroke="none" stroke-width="0.8" />
<line x1="343.30" y1="94.41" x2="343.30" y2="105.91" stroke="#8c8c8c" stroke-width="1.6" />
<path d="M343.30,82.41 C344.20,82.41 344.50,83.51 344.60,84.71 C345.10,85.31 345.70,86.51 345.70,89.71 C345.80,93.11 345.10,95.31 343.30,95.31 C341.50,95.31 340.80,93.11 340.90,89.71 C340.90,86.51 341.50,85.31 342.00,84.71 C342.10,83.51 342.40,82.41 343.30,82.41 Z" fill="#eeeeee" stroke="none" stroke-width="0.8" />
<rect x="349.20" y="81.51" width="31.70" height="24.80" fill="#2e2e2e" />
<rect x="349.20" y="94.91" width="31.70" height="11.40" fill="#525252" />
<line x1="353.10" y1="94.41" x2="353.10" y2="105.91" stroke="#8c8c8c" stroke-width="1.6" />
<path d="M353.10,82.41 C354.00,82.41 354.30,83.51 354.40,84.71 C354.90,85.31 355.50,86.51 355.50,89.71 C355.60,93.11 354.90,95.31 353.10,95.31 C351.30,95.31 350.60,93.11 350.70,89.71 C350.70,86.51 351.30,85.31 351.80,84.71 C351.90,83.51 352.20,82.41 353.10,82.41 Z" fill="#eeeeee" stroke="none" stroke-width="0.8" />
<line x1="358.90" y1="94.41" x2="358.90" y2="105.91" stroke="#8c8c8c" stroke-width="1.6" />
<path d="M358.90,82.41 C359.80,82.41 360.10,83.51 360.20,84.71 C360.70,85.31 361.30,86.51 361.30,89.71 C361.40,93.11 360.70,95.31 358.90,95.31 C357.10,95.31 356.40,93.11 356.50,89.71 C356.50,86.51 357.10,85.31 357.60,84.71 C357.70,83.51 358.00,82.41 358.90,82.41 Z" fill="#eeeeee" stroke="none" stroke-width="0.8" />
<line x1="364.70" y1="94.41" x2="364.70" y2="105.91" stroke="#8c8c8c" stroke-width="1.6" />
<path d="M364.70,82.41 C365.60,82.41 365.90,83.51 366.00,84.71 C366.50,85.31 367.10,86.51 367.10,89.71 C367.20,93.11 366.50,95.31 364.70,95.31 C362.90,95.31 362.20,93.11 362.30,89.71 C362.30,86.51 362.90,85.31 363.40,84.71 C363.50,83.51 363.80,82.41 364.70,82.41 Z" fill="#eeeeee" stroke="none" stroke-width="0.8" />
<line x1="370.50" y1="94.41" x2="370.50" y2="105.91" stroke="#8c8c8c" stroke-width="1.6" />
<path d="M370.50,82.41 C371.40,82.41 371.70,83.51 371.80,84.71 C372.30,85.31 372.90,86.51 372.90,89.71 C373.00,93.11 372.30,95.31 370.50,95.31 C368.70,95.31 368.00,93.11 368.10,89.71 C368.10,86.51 368.70,85.31 369.20,84.71 C369.30,83.51 369.60,82.41 370.50,82.41 Z" fill="#eeeeee" stroke="none" stroke-width="0.8" />
<line x1="376.30" y1="94.41" x2="376.30" y2="105.91" stroke="#8c8c8c" stroke-width="1.6" />
<path d="M376.30,82.41 C377.20,82.41 377.50,83.51 377.60,84.71 C378.10,85.31 378.70,86.51 378.70,89.71 C378.80,93.11 378.10,95.31 376.30,95.31 C374.50,95.31 373.80,93.11 373.90,89.71 C373.90,86.51 374.50,85.31 375.00,84.71 C375.10,83.51 375.40,82.41 376.30,82.41 Z" fill="#eeeeee" stroke="none" stroke-width="0.8" />
<rect x="382.20" y="81.51" width="31.70" height="24.80" fill="#2e2e2e" />
<rect x="382.20" y="94.91" width="31.70" height="11.40" fill="#525252" />
<line x1="386.10" y1="94.41" x2="386.10" y2="105.91" stroke="#8c8c8c" stroke-width="1.6" />
<path d="M386.10,82.41 C387.00,82.41 387.30,83.51 387.40,84.71 C387.90,85.31 388.50,86.51 388.50,89.71 C388.60,93.11 387.90,95.31 386.10,95.31 C384.30,95.31 383.60,93.11 383.70,89.71 C383.70,86.51 384.30,85.31 384.80,84.71 C384.90,83.51 385.20,82.41 386.10,82.41 Z" fill="#eeeeee" stroke="none" stroke-width="0.8" />
<line x1="391.90" y1="94.41" x2="391.90" y2="105.91" stroke="#8c8c8c" stroke-width="1.6" />
<path d="M391.90,82.41 C392.80,82.41 393.10,83.51 393.20,84.71 C393.70,85.31 394.30,86.51 394.30,89.71 C394.40,93.11 393.70,95.31 391.90,95.31 C390.10,95.31 389.40,93.11 389.50,89.71 C389.50,86.51 390.10,85.31 390.60,84.71 C390.70,83.51 391.00,82.41 391.90,82.41 Z" fill="#eeeeee" stroke="none" stroke-width="0.8" />
<line x1="397.70" y1="94.41" x2="397.70" y2="105.91" stroke="#8c8c8c" stroke-width="1.6" />
<path d="M397.70,82.41 C398.60,82.41 398.90,83.51 399.00,84.71 C399.50,85.31 400.10,86.51 400.10,89.71 C400.20,93.11 399.50,95.31 397.70,95.31 C395.90,95.31 395.20,93.11 395.30,89.71 C395.30,86.51 395.90,85.31 396.40,84.71 C396.50,83.51 396.80,82.41 397.70,82.41 Z" fill="#eeeeee" stroke="none" stroke-width="0.8" />
<line x1="403.50" y1="94.41" x2="403.50" y2="105.91" stroke="#8c8c8c" stroke-width="1.6" />
<path d="M403.50,82.41 C404.40,82.41 404.70,83.51 404.80,84.71 C405.30,85.31 405.90,86.51 405.90,89.71 C406.00,93.11 405.30,95.31 403.50,95.31 C401.70,95.31 401.00,93.11 401.10,89.71 C401.10,86.51 401.70,85.31 402.20,84.71 C402.30,83.51 402.60,82.41 403.50,82.41 Z" fill="#eeeeee" stroke="none" stroke-width="0.8" />
<line x1="409.30" y1="94.41" x2="409.30" y2="105.91" stroke="#8c8c8c" stroke-width="1.6" />
<path d="M409.30,82.41 C410.20,82.41 410.50,83.51 410.60,84.71 C411.10,85.31 411.70,86.51 411.70,89.71 C411.80,93.11 411.10,95.31 409.30,95.31 C407.50,95.31 406.80,93.11 406.90,89.71 C406.90,86.51 407.50,85.31 408.00,84.71 C408.10,83.51 408.40,82.41 409.30,82.41 Z" fill="#eeeeee" stroke="none" stroke-width="0.8" />
<rect x="415.20" y="81.51" width="31.70" height="24.80" fill="#2e2e2e" />
<rect x="415.20" y="94.91" width="31.70" height="11.40" fill="#525252" />
<line x1="419.10" y1="94.41" x2="419.10" y2="105.91" stroke="#8c8c8c" stroke-width="1.6" />
<path d="M419.10,82.41 C420.00,82.41 420.30,83.51 420.40,84.71 C420.90,85.31 421.50,86.51 421.50,89.71 C421.60,93.11 420.90,95.31 419.10,95.31 C417.30,95.31 416.60,93.11 416.70,89.71 C416.70,86.51 417.30,85.31 417.80,84.71 C417.90,83.51 418.20,82.41 419.10,82.41 Z" fill="#eeeeee" stroke="none" stroke-width="0.8" />
<line x1="424.90" y1="94.41" x2="424.90" y2="105.91" stroke="#8c8c8c" stroke-width="1.6" />
<path d="M424.90,82.41 C425.80,82.41 426.10,83.51 426.20,84.71 C426.70,85.31 427.30,86.51 427.30,89.71 C427.40,93.11 426.70,95.31 424.90,95.31 C423.10,95.31 422.40,93.11 422.50,89.71 C422.50,86.51 423.10,85.31 423.60,84.71 C423.70,83.51 424.00,82.41 424.90,82.41 Z" fill="#eeeeee" stroke="none" stroke-width="0.8" />
<line x1="430.70" y1="94.41" x2="430.70" y2="105.91" stroke="#8c8c8c" stroke-width="1.6" />
<path d="M430.70,82.41 C431.60,82.41 431.90,83.51 432.00,84.71 C432.50,85.31 433.10,86.51 433.10,89.71 C433.20,93.11 432.50,95.31 430.70,95.31 C428.90,95.31 428.20,93.11 428.30,89.71 C428.30,86.51 428.90,85.31 429.40,84.71 C429.50,83.51 429.80,82.41 430.70,82.41 Z" fill="#eeeeee" stroke="none" stroke-width="0.8" />
<line x1="436.50" y1="94.41" x2="436.50" y2="105.91" stroke="#8c8c8c" stroke-width="1.6" />
<path d="M436.50,82.41 C437.40,82.41 437.70,83.51 437.80,84.71 C438.30,85.31 438.90,86.51 438.90,89.71 C439.00,93.11 438.30,95.31 436.50,95.31 C434.70,95.31 434.00,93.11 434.10,89.71 C434.10,86.51 434.70,85.31 435.20,84.71 C435.30,83.51 435.60,82.41 436.50,82.41 Z" fill="#eeeeee" stroke="none" stroke-width="0.8" />
<line x1="442.30" y1="94.41" x2="442.30" y2="105.91" stroke="#8c8c8c" stroke-width="1.6" />
<path d="M442.30,82.41 C443.20,82.41 443.50,83.51 443.60,84.71 C444.10,85.31 444.70,86.51 444.70,89.71 C444.80,93.11 444.10,95.31 442.30,95.31 C440.50,95.31 439.80,93.11 439.90,89.71 C439.90,86.51 440.50,85.31 441.00,84.71 C441.10,83.51 441.40,82.41 442.30,82.41 Z" fill="#eeeeee" stroke="none" stroke-width="0.8" />
<rect x="448.20" y="81.51" width="31.70" height="24.80" fill="#2e2e2e" />
<rect x="448.20" y="94.91" width="31.70" height="11.40" fill="#525252" />
<line x1="452.10" y1="94.41" x2="452.10" y2="105.91" stroke="#8c8c8c" stroke-width="1.6" />
<path d="M452.10,82.41 C453.00,82.41 453.30,83.51 453.40,84.71 C453.90,85.31 454.50,86.51 454.50,89.71 C454.60,93.11 453.90,95.31 452.10,95.31 C450.30,95.31 449.60,93.11 449.70,89.71 C449.70,86.51 450.30,85.31 450.80,84.71 C450.90,83.51 451.20,82.41 452.10,82.41 Z" fill="#eeeeee" stroke="none" stroke-width="0.8" />
<line x1="457.90" y1="94.41" x2="457.90" y2="105.91" stroke="#8c8c8c" stroke-width="1.6" />
<path d="M457.90,82.41 C458.80,82.41 459.10,83.51 459.20,84.71 C459.70,85.31 460.30,86.51 460.30,89.71 C460.40,93.11 459.70,95.31 457.90,95.31 C456.10,95.31 455.40,93.11 455.50,89.71 C455.50,86.51 456.10,85.31 456.60,84.71 C456.70,83.51 457.00,82.41 457.90,82.41 Z" fill="#eeeeee" stroke="none" stroke-width="0.8" />
<line x1="463.70" y1="94.41" x2="463.70" y2="105.91" stroke="#8c8c8c" stroke-width="1.6" />
<path d="M463.70,82.41 C464.60,82.41 464.90,83.51 465.00,84.71 C465.50,85.31 466.10,86.51 466.10,89.71 C466.20,93.11 465.50,95.31 463.70,95.31 C461.90,95.31 461.20,93.11 461.30,89.71 C461.30,86.51 461.90,85.31 462.40,84.71 C462.50,83.51 462.80,82.41 463.70,82.41 Z" fill="#eeeeee" stroke="none" stroke-width="0.8" />
<line x1="469.50" y1="94.41" x2="469.50" y2="105.91" stroke="#8c8c8c" stroke-width="1.6" />
<path d="M469.50,82.41 C470.40,82.41 470.70,83.51 470.80,84.71 C471.30,85.31 471.90,86.51 471.90,89.71 C472.00,93.11 471.30,95.31 469.50,95.31 C467.70,95.31 467.00,93.11 467.10,89.71 C467.10,86.51 467.70,85.31 468.20,84.71 C468.30,83.51 468.60,82.41 469.50,82.41 Z" fill="#eeeeee" stroke="none" stroke-width="0.8" />
<line x1="475.30" y1="94.41" x2="475.30" y2="105.91" stroke="#8c8c8c" stroke-width="1.6" />
<path d="M475.30,82.41 C476.20,82.41 476.50,83.51 476.60,84.71 C477.10,85.31 477.70,86.51 477.70,89.71 C477.80,93.11 477.10,95.31 475.30,95.31 C473.50,95.31 472.80,93.11 472.90,89.71 C472.90,86.51 473.50,85.31 474.00,84.71 C474.10,83.51 474.40,82.41 475.30,82.41 Z" fill="#eeeeee" stroke="none" stroke-width="0.8" />
<rect x="316.20" y="108.22" width="31.70" height="24.80" fill="#2e2e2e" />
<rect x="316.20" y="121.62" width="31.70" height="11.40" fill="#525252" />
<line x1="320.10" y1="121.12" x2="320.10" y2="132.62" stroke="#8c8c8c" stroke-width="1.6" />
<path d="M320.10,109.12 C321.00,109.12 321.30,110.22 321.40,111.42 C321.90,112.02 322.50,113.22 322.50,116.42 C322.60,119.82 321.90,122.02 320.10,122.02 C318.30,122.02 317.60,119.82 317.70,116.42 C317.70,113.22 318.30,112.02 318.80,111.42 C318.90,110.22 319.20,109.12 320.10,109.12 Z" fill="#2a6ab0" stroke="none" stroke-width="0.8" />
<ellipse cx="320.10" cy="110.42" rx="1.30" ry="1.60" fill="#e0a030"/>
<ellipse cx="320.10" cy="113.12" rx="2.20" ry="1.40" fill="#40a070"/>
<ellipse cx="320.10" cy="115.62" rx="2.50" ry="1.40" fill="#f0f0f0"/>
<ellipse cx="320.10" cy="118.12" rx="2.30" ry="1.50" fill="#2a70b0"/>
<ellipse cx="320.10" cy="120.62" rx="1.90" ry="1.30" fill="#e07030"/>
<line x1="320.10" y1="121.82" x2="320.10" y2="131.02" stroke="#7a7a9c" stroke-width="1.3" />
<line x1="325.90" y1="121.12" x2="325.90" y2="132.62" stroke="#8c8c8c" stroke-width="1.6" />
<path d="M325.90,109.12 C326.80,109.12 327.10,110.22 327.20,111.42 C327.70,112.02 328.30,113.22 328.30,116.42 C328.40,119.82 327.70,122.02 325.90,122.02 C324.10,122.02 323.40,119.82 323.50,116.42 C323.50,113.22 324.10,112.02 324.60,111.42 C324.70,110.22 325.00,109.12 325.90,109.12 Z" fill="#2a6ab0" stroke="none" stroke-width="0.8" />
<ellipse cx="325.90" cy="110.42" rx="1.30" ry="1.60" fill="#e0b040"/>
<ellipse cx="325.90" cy="113.12" rx="2.20" ry="1.40" fill="#40a070"/>
<ellipse cx="325.90" cy="115.62" rx="2.50" ry="1.40" fill="#f0f0f0"/>
<ellipse cx="325.90" cy="118.12" rx="2.30" ry="1.50" fill="#2a70b0"/>
<ellipse cx="325.90" cy="120.62" rx="1.90" ry="1.30" fill="#e07030"/>
<line x1="325.90" y1="121.82" x2="325.90" y2="131.02" stroke="#7a7a9c" stroke-width="1.3" />
<line x1="331.70" y1="121.12" x2="331.70" y2="132.62" stroke="#8c8c8c" stroke-width="1.6" />
<path d="M331.70,109.12 C332.60,109.12 332.90,110.22 333.00,111.42 C333.50,112.02 334.10,113.22 334.10,116.42 C334.20,119.82 333.50,122.02 331.70,122.02 C329.90,122.02 329.20,119.82 329.30,116.42 C329.30,113.22 329.90,112.02 330.40,111.42 C330.50,110.22 330.80,109.12 331.70,109.12 Z" fill="#2a6ab0" stroke="none" stroke-width="0.8" />
<ellipse cx="331.70" cy="110.42" rx="1.30" ry="1.60" fill="#40a060"/>
<ellipse cx="331.70" cy="113.12" rx="2.20" ry="1.40" fill="#40a070"/>
<ellipse cx="331.70" cy="115.62" rx="2.50" ry="1.40" fill="#f0f0f0"/>
<ellipse cx="331.70" cy="118.12" rx="2.30" ry="1.50" fill="#2a70b0"/>
<ellipse cx="331.70" cy="120.62" rx="1.90" ry="1.30" fill="#e07030"/>
<line x1="331.70" y1="121.82" x2="331.70" y2="131.02" stroke="#7a7a9c" stroke-width="1.3" />
<line x1="337.50" y1="121.12" x2="337.50" y2="132.62" stroke="#8c8c8c" stroke-width="1.6" />
<path d="M337.50,109.12 C338.40,109.12 338.70,110.22 338.80,111.42 C339.30,112.02 339.90,113.22 339.90,116.42 C340.00,119.82 339.30,122.02 337.50,122.02 C335.70,122.02 335.00,119.82 335.10,116.42 C335.10,113.22 335.70,112.02 336.20,111.42 C336.30,110.22 336.60,109.12 337.50,109.12 Z" fill="#2a6ab0" stroke="none" stroke-width="0.8" />
<ellipse cx="337.50" cy="110.42" rx="1.30" ry="1.60" fill="#3090d0"/>
<ellipse cx="337.50" cy="113.12" rx="2.20" ry="1.40" fill="#40a070"/>
<ellipse cx="337.50" cy="115.62" rx="2.50" ry="1.40" fill="#f0f0f0"/>
<ellipse cx="337.50" cy="118.12" rx="2.30" ry="1.50" fill="#2a70b0"/>
<ellipse cx="337.50" cy="120.62" rx="1.90" ry="1.30" fill="#e07030"/>
<line x1="337.50" y1="121.82" x2="337.50" y2="131.02" stroke="#7a7a9c" stroke-width="1.3" />
<line x1="343.30" y1="121.12" x2="343.30" y2="132.62" stroke="#8c8c8c" stroke-width="1.6" />
<path d="M343.30,109.12 C344.20,109.12 344.50,110.22 344.60,111.42 C345.10,112.02 345.70,113.22 345.70,116.42 C345.80,119.82 345.10,122.02 343.30,122.02 C341.50,122.02 340.80,119.82 340.90,116.42 C340.90,113.22 341.50,112.02 342.00,111.42 C342.10,110.22 342.40,109.12 343.30,109.12 Z" fill="#2a6ab0" stroke="none" stroke-width="0.8" />
<ellipse cx="343.30" cy="110.42" rx="1.30" ry="1.60" fill="#70b040"/>
<ellipse cx="343.30" cy="113.12" rx="2.20" ry="1.40" fill="#40a070"/>
<ellipse cx="343.30" cy="115.62" rx="2.50" ry="1.40" fill="#f0f0f0"/>
<ellipse cx="343.30" cy="118.12" rx="2.30" ry="1.50" fill="#2a70b0"/>
<ellipse cx="343.30" cy="120.62" rx="1.90" ry="1.30" fill="#e07030"/>
<line x1="343.30" y1="121.82" x2="343.30" y2="131.02" stroke="#7a7a9c" stroke-width="1.3" />
<rect x="349.20" y="108.22" width="31.70" height="24.80" fill="#2e2e2e" />
<rect x="349.20" y="121.62" width="31.70" height="11.40" fill="#525252" />
<line x1="353.10" y1="121.12" x2="353.10" y2="132.62" stroke="#8c8c8c" stroke-width="1.6" />
<path d="M353.10,109.12 C354.00,109.12 354.30,110.22 354.40,111.42 C354.90,112.02 355.50,113.22 355.50,116.42 C355.60,119.82 354.90,122.02 353.10,122.02 C351.30,122.02 350.60,119.82 350.70,116.42 C350.70,113.22 351.30,112.02 351.80,111.42 C351.90,110.22 352.20,109.12 353.10,109.12 Z" fill="#eeeeee" stroke="none" stroke-width="0.8" />
<line x1="358.90" y1="121.12" x2="358.90" y2="132.62" stroke="#8c8c8c" stroke-width="1.6" />
<path d="M358.90,109.12 C359.80,109.12 360.10,110.22 360.20,111.42 C360.70,112.02 361.30,113.22 361.30,116.42 C361.40,119.82 360.70,122.02 358.90,122.02 C357.10,122.02 356.40,119.82 356.50,116.42 C356.50,113.22 357.10,112.02 357.60,111.42 C357.70,110.22 358.00,109.12 358.90,109.12 Z" fill="#eeeeee" stroke="none" stroke-width="0.8" />
<line x1="364.70" y1="121.12" x2="364.70" y2="132.62" stroke="#8c8c8c" stroke-width="1.6" />
<path d="M364.70,109.12 C365.60,109.12 365.90,110.22 366.00,111.42 C366.50,112.02 367.10,113.22 367.10,116.42 C367.20,119.82 366.50,122.02 364.70,122.02 C362.90,122.02 362.20,119.82 362.30,116.42 C362.30,113.22 362.90,112.02 363.40,111.42 C363.50,110.22 363.80,109.12 364.70,109.12 Z" fill="#eeeeee" stroke="none" stroke-width="0.8" />
<line x1="370.50" y1="121.12" x2="370.50" y2="132.62" stroke="#8c8c8c" stroke-width="1.6" />
<path d="M370.50,109.12 C371.40,109.12 371.70,110.22 371.80,111.42 C372.30,112.02 372.90,113.22 372.90,116.42 C373.00,119.82 372.30,122.02 370.50,122.02 C368.70,122.02 368.00,119.82 368.10,116.42 C368.10,113.22 368.70,112.02 369.20,111.42 C369.30,110.22 369.60,109.12 370.50,109.12 Z" fill="#eeeeee" stroke="none" stroke-width="0.8" />
<line x1="376.30" y1="121.12" x2="376.30" y2="132.62" stroke="#8c8c8c" stroke-width="1.6" />
<path d="M376.30,109.12 C377.20,109.12 377.50,110.22 377.60,111.42 C378.10,112.02 378.70,113.22 378.70,116.42 C378.80,119.82 378.10,122.02 376.30,122.02 C374.50,122.02 373.80,119.82 373.90,116.42 C373.90,113.22 374.50,112.02 375.00,111.42 C375.10,110.22 375.40,109.12 376.30,109.12 Z" fill="#eeeeee" stroke="none" stroke-width="0.8" />
<rect x="382.20" y="108.22" width="31.70" height="24.80" fill="#2e2e2e" />
<rect x="382.20" y="121.62" width="31.70" height="11.40" fill="#525252" />
<line x1="386.10" y1="121.12" x2="386.10" y2="132.62" stroke="#8c8c8c" stroke-width="1.6" />
<path d="M386.10,109.12 C387.00,109.12 387.30,110.22 387.40,111.42 C387.90,112.02 388.50,113.22 388.50,116.42 C388.60,119.82 387.90,122.02 386.10,122.02 C384.30,122.02 383.60,119.82 383.70,116.42 C383.70,113.22 384.30,112.02 384.80,111.42 C384.90,110.22 385.20,109.12 386.10,109.12 Z" fill="#eeeeee" stroke="none" stroke-width="0.8" />
<line x1="391.90" y1="121.12" x2="391.90" y2="132.62" stroke="#8c8c8c" stroke-width="1.6" />
<path d="M391.90,109.12 C392.80,109.12 393.10,110.22 393.20,111.42 C393.70,112.02 394.30,113.22 394.30,116.42 C394.40,119.82 393.70,122.02 391.90,122.02 C390.10,122.02 389.40,119.82 389.50,116.42 C389.50,113.22 390.10,112.02 390.60,111.42 C390.70,110.22 391.00,109.12 391.90,109.12 Z" fill="#eeeeee" stroke="none" stroke-width="0.8" />
<line x1="397.70" y1="121.12" x2="397.70" y2="132.62" stroke="#8c8c8c" stroke-width="1.6" />
<path d="M397.70,109.12 C398.60,109.12 398.90,110.22 399.00,111.42 C399.50,112.02 400.10,113.22 400.10,116.42 C400.20,119.82 399.50,122.02 397.70,122.02 C395.90,122.02 395.20,119.82 395.30,116.42 C395.30,113.22 395.90,112.02 396.40,111.42 C396.50,110.22 396.80,109.12 397.70,109.12 Z" fill="#eeeeee" stroke="none" stroke-width="0.8" />
<line x1="403.50" y1="121.12" x2="403.50" y2="132.62" stroke="#8c8c8c" stroke-width="1.6" />
<path d="M403.50,109.12 C404.40,109.12 404.70,110.22 404.80,111.42 C405.30,112.02 405.90,113.22 405.90,116.42 C406.00,119.82 405.30,122.02 403.50,122.02 C401.70,122.02 401.00,119.82 401.10,116.42 C401.10,113.22 401.70,112.02 402.20,111.42 C402.30,110.22 402.60,109.12 403.50,109.12 Z" fill="#eeeeee" stroke="none" stroke-width="0.8" />
<line x1="409.30" y1="121.12" x2="409.30" y2="132.62" stroke="#8c8c8c" stroke-width="1.6" />
<path d="M409.30,109.12 C410.20,109.12 410.50,110.22 410.60,111.42 C411.10,112.02 411.70,113.22 411.70,116.42 C411.80,119.82 411.10,122.02 409.30,122.02 C407.50,122.02 406.80,119.82 406.90,116.42 C406.90,113.22 407.50,112.02 408.00,111.42 C408.10,110.22 408.40,109.12 409.30,109.12 Z" fill="#eeeeee" stroke="none" stroke-width="0.8" />
<ellipse cx="409.30" cy="111.12" rx="1.40" ry="1.60" fill="#2a6cb0"/>
<ellipse cx="409.30" cy="113.62" rx="2.00" ry="1.50" fill="#30a0c0"/>
<rect x="415.20" y="108.22" width="31.70" height="24.80" fill="#2e2e2e" />
<rect x="415.20" y="121.62" width="31.70" height="11.40" fill="#525252" />
<line x1="419.10" y1="121.12" x2="419.10" y2="132.62" stroke="#8c8c8c" stroke-width="1.6" />
<path d="M419.10,109.12 C420.00,109.12 420.30,110.22 420.40,111.42 C420.90,112.02 421.50,113.22 421.50,116.42 C421.60,119.82 420.90,122.02 419.10,122.02 C417.30,122.02 416.60,119.82 416.70,116.42 C416.70,113.22 417.30,112.02 417.80,111.42 C417.90,110.22 418.20,109.12 419.10,109.12 Z" fill="#eeeeee" stroke="none" stroke-width="0.8" />
<line x1="424.90" y1="121.12" x2="424.90" y2="132.62" stroke="#8c8c8c" stroke-width="1.6" />
<path d="M424.90,109.12 C425.80,109.12 426.10,110.22 426.20,111.42 C426.70,112.02 427.30,113.22 427.30,116.42 C427.40,119.82 426.70,122.02 424.90,122.02 C423.10,122.02 422.40,119.82 422.50,116.42 C422.50,113.22 423.10,112.02 423.60,111.42 C423.70,110.22 424.00,109.12 424.90,109.12 Z" fill="#eeeeee" stroke="none" stroke-width="0.8" />
<line x1="430.70" y1="121.12" x2="430.70" y2="132.62" stroke="#8c8c8c" stroke-width="1.6" />
<path d="M430.70,109.12 C431.60,109.12 431.90,110.22 432.00,111.42 C432.50,112.02 433.10,113.22 433.10,116.42 C433.20,119.82 432.50,122.02 430.70,122.02 C428.90,122.02 428.20,119.82 428.30,116.42 C428.30,113.22 428.90,112.02 429.40,111.42 C429.50,110.22 429.80,109.12 430.70,109.12 Z" fill="#eeeeee" stroke="none" stroke-width="0.8" />
<line x1="436.50" y1="121.12" x2="436.50" y2="132.62" stroke="#8c8c8c" stroke-width="1.6" />
<path d="M436.50,109.12 C437.40,109.12 437.70,110.22 437.80,111.42 C438.30,112.02 438.90,113.22 438.90,116.42 C439.00,119.82 438.30,122.02 436.50,122.02 C434.70,122.02 434.00,119.82 434.10,116.42 C434.10,113.22 434.70,112.02 435.20,111.42 C435.30,110.22 435.60,109.12 436.50,109.12 Z" fill="#eeeeee" stroke="none" stroke-width="0.8" />
<line x1="442.30" y1="121.12" x2="442.30" y2="132.62" stroke="#8c8c8c" stroke-width="1.6" />
<path d="M442.30,109.12 C443.20,109.12 443.50,110.22 443.60,111.42 C444.10,112.02 444.70,113.22 444.70,116.42 C444.80,119.82 444.10,122.02 442.30,122.02 C440.50,122.02 439.80,119.82 439.90,116.42 C439.90,113.22 440.50,112.02 441.00,111.42 C441.10,110.22 441.40,109.12 442.30,109.12 Z" fill="#eeeeee" stroke="none" stroke-width="0.8" />
<rect x="448.20" y="108.22" width="31.70" height="24.80" fill="#2e2e2e" />
<rect x="448.20" y="121.62" width="31.70" height="11.40" fill="#525252" />
<line x1="452.10" y1="121.12" x2="452.10" y2="132.62" stroke="#8c8c8c" stroke-width="1.6" />
<path d="M452.10,109.12 C453.00,109.12 453.30,110.22 453.40,111.42 C453.90,112.02 454.50,113.22 454.50,116.42 C454.60,119.82 453.90,122.02 452.10,122.02 C450.30,122.02 449.60,119.82 449.70,116.42 C449.70,113.22 450.30,112.02 450.80,111.42 C450.90,110.22 451.20,109.12 452.10,109.12 Z" fill="#eeeeee" stroke="none" stroke-width="0.8" />
<line x1="457.90" y1="121.12" x2="457.90" y2="132.62" stroke="#8c8c8c" stroke-width="1.6" />
<path d="M457.90,109.12 C458.80,109.12 459.10,110.22 459.20,111.42 C459.70,112.02 460.30,113.22 460.30,116.42 C460.40,119.82 459.70,122.02 457.90,122.02 C456.10,122.02 455.40,119.82 455.50,116.42 C455.50,113.22 456.10,112.02 456.60,111.42 C456.70,110.22 457.00,109.12 457.90,109.12 Z" fill="#eeeeee" stroke="none" stroke-width="0.8" />
<line x1="463.70" y1="121.12" x2="463.70" y2="132.62" stroke="#8c8c8c" stroke-width="1.6" />
<path d="M463.70,109.12 C464.60,109.12 464.90,110.22 465.00,111.42 C465.50,112.02 466.10,113.22 466.10,116.42 C466.20,119.82 465.50,122.02 463.70,122.02 C461.90,122.02 461.20,119.82 461.30,116.42 C461.30,113.22 461.90,112.02 462.40,111.42 C462.50,110.22 462.80,109.12 463.70,109.12 Z" fill="#eeeeee" stroke="none" stroke-width="0.8" />
<line x1="469.50" y1="121.12" x2="469.50" y2="132.62" stroke="#8c8c8c" stroke-width="1.6" />
<path d="M469.50,109.12 C470.40,109.12 470.70,110.22 470.80,111.42 C471.30,112.02 471.90,113.22 471.90,116.42 C472.00,119.82 471.30,122.02 469.50,122.02 C467.70,122.02 467.00,119.82 467.10,116.42 C467.10,113.22 467.70,112.02 468.20,111.42 C468.30,110.22 468.60,109.12 469.50,109.12 Z" fill="#eeeeee" stroke="none" stroke-width="0.8" />
<line x1="475.30" y1="121.12" x2="475.30" y2="132.62" stroke="#8c8c8c" stroke-width="1.6" />
<path d="M475.30,109.12 C476.20,109.12 476.50,110.22 476.60,111.42 C477.10,112.02 477.70,113.22 477.70,116.42 C477.80,119.82 477.10,122.02 475.30,122.02 C473.50,122.02 472.80,119.82 472.90,116.42 C472.90,113.22 473.50,112.02 474.00,111.42 C474.10,110.22 474.40,109.12 475.30,109.12 Z" fill="#eeeeee" stroke="none" stroke-width="0.8" />
<rect x="316.20" y="134.93" width="31.70" height="24.80" fill="#2e2e2e" />
<rect x="316.20" y="148.33" width="31.70" height="11.40" fill="#525252" />
<line x1="320.10" y1="147.83" x2="320.10" y2="159.33" stroke="#8c8c8c" stroke-width="1.6" />
<path d="M320.10,135.83 C321.00,135.83 321.30,136.93 321.40,138.13 C321.90,138.73 322.50,139.93 322.50,143.13 C322.60,146.53 321.90,148.73 320.10,148.73 C318.30,148.73 317.60,146.53 317.70,143.13 C317.70,139.93 318.30,138.73 318.80,138.13 C318.90,136.93 319.20,135.83 320.10,135.83 Z" fill="#e8561e" stroke="none" stroke-width="0.8" />
<ellipse cx="320.10" cy="138.33" rx="1.60" ry="2.20" fill="#ee6a20"/>
<ellipse cx="320.10" cy="141.83" rx="2.00" ry="1.40" fill="#f04a14"/>
<ellipse cx="320.10" cy="145.83" rx="2.40" ry="2.50" fill="#f04a14"/>
<line x1="320.10" y1="148.33" x2="320.10" y2="154.43" stroke="#3a7a8e" stroke-width="1.7" />
<line x1="325.90" y1="147.83" x2="325.90" y2="159.33" stroke="#8c8c8c" stroke-width="1.6" />
<path d="M325.90,135.83 C326.80,135.83 327.10,136.93 327.20,138.13 C327.70,138.73 328.30,139.93 328.30,143.13 C328.40,146.53 327.70,148.73 325.90,148.73 C324.10,148.73 323.40,146.53 323.50,143.13 C323.50,139.93 324.10,138.73 324.60,138.13 C324.70,136.93 325.00,135.83 325.90,135.83 Z" fill="#e8561e" stroke="none" stroke-width="0.8" />
<ellipse cx="325.90" cy="138.33" rx="1.60" ry="2.20" fill="#ee6a20"/>
<ellipse cx="325.90" cy="141.83" rx="2.00" ry="1.40" fill="#f08a28"/>
<ellipse cx="325.90" cy="145.83" rx="2.40" ry="2.50" fill="#f04a14"/>
<line x1="325.90" y1="148.33" x2="325.90" y2="154.43" stroke="#3a7a8e" stroke-width="1.7" />
<line x1="331.70" y1="147.83" x2="331.70" y2="159.33" stroke="#8c8c8c" stroke-width="1.6" />
<path d="M331.70,135.83 C332.60,135.83 332.90,136.93 333.00,138.13 C333.50,138.73 334.10,139.93 334.10,143.13 C334.20,146.53 333.50,148.73 331.70,148.73 C329.90,148.73 329.20,146.53 329.30,143.13 C329.30,139.93 329.90,138.73 330.40,138.13 C330.50,136.93 330.80,135.83 331.70,135.83 Z" fill="#e8561e" stroke="none" stroke-width="0.8" />
<ellipse cx="331.70" cy="138.33" rx="1.60" ry="2.20" fill="#ee6a20"/>
<ellipse cx="331.70" cy="141.83" rx="2.00" ry="1.40" fill="#f04a14"/>
<ellipse cx="331.70" cy="145.83" rx="2.40" ry="2.50" fill="#f04a14"/>
<line x1="331.70" y1="148.33" x2="331.70" y2="154.43" stroke="#3a7a8e" stroke-width="1.7" />
<line x1="337.50" y1="147.83" x2="337.50" y2="159.33" stroke="#8c8c8c" stroke-width="1.6" />
<path d="M337.50,135.83 C338.40,135.83 338.70,136.93 338.80,138.13 C339.30,138.73 339.90,139.93 339.90,143.13 C340.00,146.53 339.30,148.73 337.50,148.73 C335.70,148.73 335.00,146.53 335.10,143.13 C335.10,139.93 335.70,138.73 336.20,138.13 C336.30,136.93 336.60,135.83 337.50,135.83 Z" fill="#2a8a9a" stroke="none" stroke-width="0.8" />
<ellipse cx="337.50" cy="137.83" rx="1.60" ry="2.00" fill="#30a0a0"/>
<ellipse cx="337.50" cy="141.83" rx="2.30" ry="1.60" fill="#f4f4f4"/>
<ellipse cx="337.50" cy="145.33" rx="2.40" ry="2.50" fill="#e05a20"/>
<line x1="337.50" y1="148.53" x2="337.50" y2="157.73" stroke="#7a7a9c" stroke-width="1.3" />
<line x1="343.30" y1="147.83" x2="343.30" y2="159.33" stroke="#8c8c8c" stroke-width="1.6" />
<path d="M343.30,135.83 C344.20,135.83 344.50,136.93 344.60,138.13 C345.10,138.73 345.70,139.93 345.70,143.13 C345.80,146.53 345.10,148.73 343.30,148.73 C341.50,148.73 340.80,146.53 340.90,143.13 C340.90,139.93 341.50,138.73 342.00,138.13 C342.10,136.93 342.40,135.83 343.30,135.83 Z" fill="#e8561e" stroke="none" stroke-width="0.8" />
<ellipse cx="343.30" cy="138.33" rx="1.60" ry="2.20" fill="#ee6a20"/>
<ellipse cx="343.30" cy="141.83" rx="2.00" ry="1.40" fill="#f04a14"/>
<ellipse cx="343.30" cy="145.83" rx="2.40" ry="2.50" fill="#f04a14"/>
<line x1="343.30" y1="148.33" x2="343.30" y2="154.43" stroke="#3a7a8e" stroke-width="1.7" />
<rect x="349.20" y="134.93" width="31.70" height="24.80" fill="#2e2e2e" />
<rect x="349.20" y="148.33" width="31.70" height="11.40" fill="#525252" />
<line x1="353.10" y1="147.83" x2="353.10" y2="159.33" stroke="#8c8c8c" stroke-width="1.6" />
<path d="M353.10,135.83 C354.00,135.83 354.30,136.93 354.40,138.13 C354.90,138.73 355.50,139.93 355.50,143.13 C355.60,146.53 354.90,148.73 353.10,148.73 C351.30,148.73 350.60,146.53 350.70,143.13 C350.70,139.93 351.30,138.73 351.80,138.13 C351.90,136.93 352.20,135.83 353.10,135.83 Z" fill="#eeeeee" stroke="none" stroke-width="0.8" />
<ellipse cx="353.10" cy="137.83" rx="1.30" ry="1.50" fill="#a8c8e8"/>
<line x1="358.90" y1="147.83" x2="358.90" y2="159.33" stroke="#8c8c8c" stroke-width="1.6" />
<path d="M358.90,135.83 C359.80,135.83 360.10,136.93 360.20,138.13 C360.70,138.73 361.30,139.93 361.30,143.13 C361.40,146.53 360.70,148.73 358.90,148.73 C357.10,148.73 356.40,146.53 356.50,143.13 C356.50,139.93 357.10,138.73 357.60,138.13 C357.70,136.93 358.00,135.83 358.90,135.83 Z" fill="#eeeeee" stroke="none" stroke-width="0.8" />
<line x1="364.70" y1="147.83" x2="364.70" y2="159.33" stroke="#8c8c8c" stroke-width="1.6" />
<path d="M364.70,135.83 C365.60,135.83 365.90,136.93 366.00,138.13 C366.50,138.73 367.10,139.93 367.10,143.13 C367.20,146.53 366.50,148.73 364.70,148.73 C362.90,148.73 362.20,146.53 362.30,143.13 C362.30,139.93 362.90,138.73 363.40,138.13 C363.50,136.93 363.80,135.83 364.70,135.83 Z" fill="#eeeeee" stroke="none" stroke-width="0.8" />
<line x1="370.50" y1="147.83" x2="370.50" y2="159.33" stroke="#8c8c8c" stroke-width="1.6" />
<path d="M370.50,135.83 C371.40,135.83 371.70,136.93 371.80,138.13 C372.30,138.73 372.90,139.93 372.90,143.13 C373.00,146.53 372.30,148.73 370.50,148.73 C368.70,148.73 368.00,146.53 368.10,143.13 C368.10,139.93 368.70,138.73 369.20,138.13 C369.30,136.93 369.60,135.83 370.50,135.83 Z" fill="#eeeeee" stroke="none" stroke-width="0.8" />
<line x1="376.30" y1="147.83" x2="376.30" y2="159.33" stroke="#8c8c8c" stroke-width="1.6" />
<path d="M376.30,135.83 C377.20,135.83 377.50,136.93 377.60,138.13 C378.10,138.73 378.70,139.93 378.70,143.13 C378.80,146.53 378.10,148.73 376.30,148.73 C374.50,148.73 373.80,146.53 373.90,143.13 C373.90,139.93 374.50,138.73 375.00,138.13 C375.10,136.93 375.40,135.83 376.30,135.83 Z" fill="#eeeeee" stroke="none" stroke-width="0.8" />
<rect x="382.20" y="134.93" width="31.70" height="24.80" fill="#2e2e2e" />
<rect x="382.20" y="148.33" width="31.70" height="11.40" fill="#525252" />
<line x1="386.10" y1="147.83" x2="386.10" y2="159.33" stroke="#8c8c8c" stroke-width="1.6" />
<path d="M386.10,135.83 C387.00,135.83 387.30,136.93 387.40,138.13 C387.90,138.73 388.50,139.93 388.50,143.13 C388.60,146.53 387.90,148.73 386.10,148.73 C384.30,148.73 383.60,146.53 383.70,143.13 C383.70,139.93 384.30,138.73 384.80,138.13 C384.90,136.93 385.20,135.83 386.10,135.83 Z" fill="#2a9070" stroke="none" stroke-width="0.8" />
<ellipse cx="386.10" cy="137.13" rx="1.20" ry="1.60" fill="#2a8a70"/>
<ellipse cx="386.10" cy="139.53" rx="2.00" ry="1.20" fill="#d04a20"/>
<ellipse cx="386.10" cy="141.83" rx="2.20" ry="1.20" fill="#f0f0f0"/>
<ellipse cx="386.10" cy="144.33" rx="2.20" ry="1.60" fill="#30a050"/>
<ellipse cx="386.10" cy="147.33" rx="1.90" ry="1.30" fill="#d05020"/>
<line x1="386.10" y1="148.53" x2="386.10" y2="157.73" stroke="#7a7a9c" stroke-width="1.3" />
<line x1="391.90" y1="147.83" x2="391.90" y2="159.33" stroke="#8c8c8c" stroke-width="1.6" />
<path d="M391.90,135.83 C392.80,135.83 393.10,136.93 393.20,138.13 C393.70,138.73 394.30,139.93 394.30,143.13 C394.40,146.53 393.70,148.73 391.90,148.73 C390.10,148.73 389.40,146.53 389.50,143.13 C389.50,139.93 390.10,138.73 390.60,138.13 C390.70,136.93 391.00,135.83 391.90,135.83 Z" fill="#2a9070" stroke="none" stroke-width="0.8" />
<ellipse cx="391.90" cy="137.13" rx="1.20" ry="1.60" fill="#2a8a70"/>
<ellipse cx="391.90" cy="139.53" rx="2.00" ry="1.20" fill="#d04a20"/>
<ellipse cx="391.90" cy="141.83" rx="2.20" ry="1.20" fill="#f0f0f0"/>
<ellipse cx="391.90" cy="144.33" rx="2.20" ry="1.60" fill="#30a050"/>
<ellipse cx="391.90" cy="147.33" rx="1.90" ry="1.30" fill="#d05020"/>
<line x1="391.90" y1="148.53" x2="391.90" y2="157.73" stroke="#7a7a9c" stroke-width="1.3" />
<line x1="397.70" y1="147.83" x2="397.70" y2="159.33" stroke="#8c8c8c" stroke-width="1.6" />
<path d="M397.70,135.83 C398.60,135.83 398.90,136.93 399.00,138.13 C399.50,138.73 400.10,139.93 400.10,143.13 C400.20,146.53 399.50,148.73 397.70,148.73 C395.90,148.73 395.20,146.53 395.30,143.13 C395.30,139.93 395.90,138.73 396.40,138.13 C396.50,136.93 396.80,135.83 397.70,135.83 Z" fill="#2a9070" stroke="none" stroke-width="0.8" />
<ellipse cx="397.70" cy="137.13" rx="1.20" ry="1.60" fill="#2a8a70"/>
<ellipse cx="397.70" cy="139.53" rx="2.00" ry="1.20" fill="#d04a20"/>
<ellipse cx="397.70" cy="141.83" rx="2.20" ry="1.20" fill="#f0f0f0"/>
<ellipse cx="397.70" cy="144.33" rx="2.20" ry="1.60" fill="#30a050"/>
<ellipse cx="397.70" cy="147.33" rx="1.90" ry="1.30" fill="#d05020"/>
<line x1="397.70" y1="148.53" x2="397.70" y2="157.73" stroke="#7a7a9c" stroke-width="1.3" />
<line x1="403.50" y1="147.83" x2="403.50" y2="159.33" stroke="#8c8c8c" stroke-width="1.6" />
<path d="M403.50,135.83 C404.40,135.83 404.70,136.93 404.80,138.13 C405.30,138.73 405.90,139.93 405.90,143.13 C406.00,146.53 405.30,148.73 403.50,148.73 C401.70,148.73 401.00,146.53 401.10,143.13 C401.10,139.93 401.70,138.73 402.20,138.13 C402.30,136.93 402.60,135.83 403.50,135.83 Z" fill="#2a9070" stroke="none" stroke-width="0.8" />
<ellipse cx="403.50" cy="137.13" rx="1.20" ry="1.60" fill="#2a8a70"/>
<ellipse cx="403.50" cy="139.53" rx="2.00" ry="1.20" fill="#d04a20"/>
<ellipse cx="403.50" cy="141.83" rx="2.20" ry="1.20" fill="#f0f0f0"/>
<ellipse cx="403.50" cy="144.33" rx="2.20" ry="1.60" fill="#30a050"/>
<ellipse cx="403.50" cy="147.33" rx="1.90" ry="1.30" fill="#d05020"/>
<line x1="403.50" y1="148.53" x2="403.50" y2="157.73" stroke="#7a7a9c" stroke-width="1.3" />
<line x1="409.30" y1="147.83" x2="409.30" y2="159.33" stroke="#8c8c8c" stroke-width="1.6" />
<path d="M409.30,135.83 C410.20,135.83 410.50,136.93 410.60,138.13 C411.10,138.73 411.70,139.93 411.70,143.13 C411.80,146.53 411.10,148.73 409.30,148.73 C407.50,148.73 406.80,146.53 406.90,143.13 C406.90,139.93 407.50,138.73 408.00,138.13 C408.10,136.93 408.40,135.83 409.30,135.83 Z" fill="#e05a20" stroke="none" stroke-width="0.8" />
<ellipse cx="409.30" cy="137.53" rx="1.50" ry="1.80" fill="#e07a30"/>
<ellipse cx="409.30" cy="140.83" rx="2.20" ry="1.50" fill="#f0c040"/>
<ellipse cx="409.30" cy="144.33" rx="2.30" ry="2.00" fill="#d84a20"/>
<ellipse cx="409.30" cy="147.13" rx="1.90" ry="1.40" fill="#e08030"/>
<line x1="409.30" y1="148.53" x2="409.30" y2="157.73" stroke="#7a7a9c" stroke-width="1.3" />
<rect x="415.20" y="134.93" width="31.70" height="24.80" fill="#2e2e2e" />
<rect x="415.20" y="148.33" width="31.70" height="11.40" fill="#525252" />
<line x1="419.10" y1="147.83" x2="419.10" y2="159.33" stroke="#8c8c8c" stroke-width="1.6" />
<path d="M419.10,135.83 C420.00,135.83 420.30,136.93 420.40,138.13 C420.90,138.73 421.50,139.93 421.50,143.13 C421.60,146.53 420.90,148.73 419.10,148.73 C417.30,148.73 416.60,146.53 416.70,143.13 C416.70,139.93 417.30,138.73 417.80,138.13 C417.90,136.93 418.20,135.83 419.10,135.83 Z" fill="#eeeeee" stroke="none" stroke-width="0.8" />
<line x1="424.90" y1="147.83" x2="424.90" y2="159.33" stroke="#8c8c8c" stroke-width="1.6" />
<path d="M424.90,135.83 C425.80,135.83 426.10,136.93 426.20,138.13 C426.70,138.73 427.30,139.93 427.30,143.13 C427.40,146.53 426.70,148.73 424.90,148.73 C423.10,148.73 422.40,146.53 422.50,143.13 C422.50,139.93 423.10,138.73 423.60,138.13 C423.70,136.93 424.00,135.83 424.90,135.83 Z" fill="#eeeeee" stroke="none" stroke-width="0.8" />
<line x1="430.70" y1="147.83" x2="430.70" y2="159.33" stroke="#8c8c8c" stroke-width="1.6" />
<path d="M430.70,135.83 C431.60,135.83 431.90,136.93 432.00,138.13 C432.50,138.73 433.10,139.93 433.10,143.13 C433.20,146.53 432.50,148.73 430.70,148.73 C428.90,148.73 428.20,146.53 428.30,143.13 C428.30,139.93 428.90,138.73 429.40,138.13 C429.50,136.93 429.80,135.83 430.70,135.83 Z" fill="#eeeeee" stroke="none" stroke-width="0.8" />
<line x1="436.50" y1="147.83" x2="436.50" y2="159.33" stroke="#8c8c8c" stroke-width="1.6" />
<path d="M436.50,135.83 C437.40,135.83 437.70,136.93 437.80,138.13 C438.30,138.73 438.90,139.93 438.90,143.13 C439.00,146.53 438.30,148.73 436.50,148.73 C434.70,148.73 434.00,146.53 434.10,143.13 C434.10,139.93 434.70,138.73 435.20,138.13 C435.30,136.93 435.60,135.83 436.50,135.83 Z" fill="#eeeeee" stroke="none" stroke-width="0.8" />
<line x1="442.30" y1="147.83" x2="442.30" y2="159.33" stroke="#8c8c8c" stroke-width="1.6" />
<path d="M442.30,135.83 C443.20,135.83 443.50,136.93 443.60,138.13 C444.10,138.73 444.70,139.93 444.70,143.13 C444.80,146.53 444.10,148.73 442.30,148.73 C440.50,148.73 439.80,146.53 439.90,143.13 C439.90,139.93 440.50,138.73 441.00,138.13 C441.10,136.93 441.40,135.83 442.30,135.83 Z" fill="#eeeeee" stroke="none" stroke-width="0.8" />
<rect x="448.20" y="134.93" width="31.70" height="24.80" fill="#2e2e2e" />
<rect x="448.20" y="148.33" width="31.70" height="11.40" fill="#525252" />
<line x1="452.10" y1="147.83" x2="452.10" y2="159.33" stroke="#8c8c8c" stroke-width="1.6" />
<path d="M452.10,135.83 C453.00,135.83 453.30,136.93 453.40,138.13 C453.90,138.73 454.50,139.93 454.50,143.13 C454.60,146.53 453.90,148.73 452.10,148.73 C450.30,148.73 449.60,146.53 449.70,143.13 C449.70,139.93 450.30,138.73 450.80,138.13 C450.90,136.93 451.20,135.83 452.10,135.83 Z" fill="#eeeeee" stroke="none" stroke-width="0.8" />
<line x1="457.90" y1="147.83" x2="457.90" y2="159.33" stroke="#8c8c8c" stroke-width="1.6" />
<path d="M457.90,135.83 C458.80,135.83 459.10,136.93 459.20,138.13 C459.70,138.73 460.30,139.93 460.30,143.13 C460.40,146.53 459.70,148.73 457.90,148.73 C456.10,148.73 455.40,146.53 455.50,143.13 C455.50,139.93 456.10,138.73 456.60,138.13 C456.70,136.93 457.00,135.83 457.90,135.83 Z" fill="#eeeeee" stroke="none" stroke-width="0.8" />
<line x1="463.70" y1="147.83" x2="463.70" y2="159.33" stroke="#8c8c8c" stroke-width="1.6" />
<path d="M463.70,135.83 C464.60,135.83 464.90,136.93 465.00,138.13 C465.50,138.73 466.10,139.93 466.10,143.13 C466.20,146.53 465.50,148.73 463.70,148.73 C461.90,148.73 461.20,146.53 461.30,143.13 C461.30,139.93 461.90,138.73 462.40,138.13 C462.50,136.93 462.80,135.83 463.70,135.83 Z" fill="#eeeeee" stroke="none" stroke-width="0.8" />
<line x1="469.50" y1="147.83" x2="469.50" y2="159.33" stroke="#8c8c8c" stroke-width="1.6" />
<path d="M469.50,135.83 C470.40,135.83 470.70,136.93 470.80,138.13 C471.30,138.73 471.90,139.93 471.90,143.13 C472.00,146.53 471.30,148.73 469.50,148.73 C467.70,148.73 467.00,146.53 467.10,143.13 C467.10,139.93 467.70,138.73 468.20,138.13 C468.30,136.93 468.60,135.83 469.50,135.83 Z" fill="#eeeeee" stroke="none" stroke-width="0.8" />
<line x1="475.30" y1="147.83" x2="475.30" y2="159.33" stroke="#8c8c8c" stroke-width="1.6" />
<path d="M475.30,135.83 C476.20,135.83 476.50,136.93 476.60,138.13 C477.10,138.73 477.70,139.93 477.70,143.13 C477.80,146.53 477.10,148.73 475.30,148.73 C473.50,148.73 472.80,146.53 472.90,143.13 C472.90,139.93 473.50,138.73 474.00,138.13 C474.10,136.93 474.40,135.83 475.30,135.83 Z" fill="#eeeeee" stroke="none" stroke-width="0.8" />
<rect x="316.20" y="161.64" width="31.70" height="24.80" fill="#2e2e2e" />
<rect x="316.20" y="175.04" width="31.70" height="11.40" fill="#525252" />
<line x1="320.10" y1="174.54" x2="320.10" y2="186.04" stroke="#8c8c8c" stroke-width="1.6" />
<path d="M320.10,162.54 C321.00,162.54 321.30,163.64 321.40,164.84 C321.90,165.44 322.50,166.64 322.50,169.84 C322.60,173.24 321.90,175.44 320.10,175.44 C318.30,175.44 317.60,173.24 317.70,169.84 C317.70,166.64 318.30,165.44 318.80,164.84 C318.90,163.64 319.20,162.54 320.10,162.54 Z" fill="#e8561e" stroke="none" stroke-width="0.8" />
<ellipse cx="320.10" cy="165.04" rx="1.60" ry="2.20" fill="#ee6a20"/>
<ellipse cx="320.10" cy="168.54" rx="2.00" ry="1.40" fill="#f04a14"/>
<ellipse cx="320.10" cy="172.54" rx="2.40" ry="2.50" fill="#f04a14"/>
<line x1="320.10" y1="175.04" x2="320.10" y2="181.14" stroke="#3a7a8e" stroke-width="1.7" />
<line x1="325.90" y1="174.54" x2="325.90" y2="186.04" stroke="#8c8c8c" stroke-width="1.6" />
<path d="M325.90,162.54 C326.80,162.54 327.10,163.64 327.20,164.84 C327.70,165.44 328.30,166.64 328.30,169.84 C328.40,173.24 327.70,175.44 325.90,175.44 C324.10,175.44 323.40,173.24 323.50,169.84 C323.50,166.64 324.10,165.44 324.60,164.84 C324.70,163.64 325.00,162.54 325.90,162.54 Z" fill="#e8561e" stroke="none" stroke-width="0.8" />
<ellipse cx="325.90" cy="165.04" rx="1.60" ry="2.20" fill="#ee6a20"/>
<ellipse cx="325.90" cy="168.54" rx="2.00" ry="1.40" fill="#f08a28"/>
<ellipse cx="325.90" cy="172.54" rx="2.40" ry="2.50" fill="#f04a14"/>
<line x1="325.90" y1="175.04" x2="325.90" y2="181.14" stroke="#3a7a8e" stroke-width="1.7" />
<line x1="331.70" y1="174.54" x2="331.70" y2="186.04" stroke="#8c8c8c" stroke-width="1.6" />
<path d="M331.70,162.54 C332.60,162.54 332.90,163.64 333.00,164.84 C333.50,165.44 334.10,166.64 334.10,169.84 C334.20,173.24 333.50,175.44 331.70,175.44 C329.90,175.44 329.20,173.24 329.30,169.84 C329.30,166.64 329.90,165.44 330.40,164.84 C330.50,163.64 330.80,162.54 331.70,162.54 Z" fill="#e8561e" stroke="none" stroke-width="0.8" />
<ellipse cx="331.70" cy="165.04" rx="1.60" ry="2.20" fill="#ee6a20"/>
<ellipse cx="331.70" cy="168.54" rx="2.00" ry="1.40" fill="#f04a14"/>
<ellipse cx="331.70" cy="172.54" rx="2.40" ry="2.50" fill="#f04a14"/>
<line x1="331.70" y1="175.04" x2="331.70" y2="181.14" stroke="#3a7a8e" stroke-width="1.7" />
<line x1="337.50" y1="174.54" x2="337.50" y2="186.04" stroke="#8c8c8c" stroke-width="1.6" />
<path d="M337.50,162.54 C338.40,162.54 338.70,163.64 338.80,164.84 C339.30,165.44 339.90,166.64 339.90,169.84 C340.00,173.24 339.30,175.44 337.50,175.44 C335.70,175.44 335.00,173.24 335.10,169.84 C335.10,166.64 335.70,165.44 336.20,164.84 C336.30,163.64 336.60,162.54 337.50,162.54 Z" fill="#e8561e" stroke="none" stroke-width="0.8" />
<ellipse cx="337.50" cy="165.04" rx="1.60" ry="2.20" fill="#ee6a20"/>
<ellipse cx="337.50" cy="168.54" rx="2.00" ry="1.40" fill="#f08a28"/>
<ellipse cx="337.50" cy="172.54" rx="2.40" ry="2.50" fill="#f04a14"/>
<line x1="337.50" y1="175.04" x2="337.50" y2="181.14" stroke="#3a7a8e" stroke-width="1.7" />
<line x1="343.30" y1="174.54" x2="343.30" y2="186.04" stroke="#8c8c8c" stroke-width="1.6" />
<path d="M343.30,162.54 C344.20,162.54 344.50,163.64 344.60,164.84 C345.10,165.44 345.70,166.64 345.70,169.84 C345.80,173.24 345.10,175.44 343.30,175.44 C341.50,175.44 340.80,173.24 340.90,169.84 C340.90,166.64 341.50,165.44 342.00,164.84 C342.10,163.64 342.40,162.54 343.30,162.54 Z" fill="#e8561e" stroke="none" stroke-width="0.8" />
<ellipse cx="343.30" cy="165.04" rx="1.60" ry="2.20" fill="#ee6a20"/>
<ellipse cx="343.30" cy="168.54" rx="2.00" ry="1.40" fill="#f04a14"/>
<ellipse cx="343.30" cy="172.54" rx="2.40" ry="2.50" fill="#f04a14"/>
<line x1="343.30" y1="175.04" x2="343.30" y2="181.14" stroke="#3a7a8e" stroke-width="1.7" />
<rect x="349.20" y="161.64" width="31.70" height="24.80" fill="#2e2e2e" />
<rect x="349.20" y="175.04" width="31.70" height="11.40" fill="#525252" />
<line x1="353.10" y1="174.54" x2="353.10" y2="186.04" stroke="#8c8c8c" stroke-width="1.6" />
<path d="M353.10,162.54 C354.00,162.54 354.30,163.64 354.40,164.84 C354.90,165.44 355.50,166.64 355.50,169.84 C355.60,173.24 354.90,175.44 353.10,175.44 C351.30,175.44 350.60,173.24 350.70,169.84 C350.70,166.64 351.30,165.44 351.80,164.84 C351.90,163.64 352.20,162.54 353.10,162.54 Z" fill="#eeeeee" stroke="none" stroke-width="0.8" />
<line x1="358.90" y1="174.54" x2="358.90" y2="186.04" stroke="#8c8c8c" stroke-width="1.6" />
<path d="M358.90,162.54 C359.80,162.54 360.10,163.64 360.20,164.84 C360.70,165.44 361.30,166.64 361.30,169.84 C361.40,173.24 360.70,175.44 358.90,175.44 C357.10,175.44 356.40,173.24 356.50,169.84 C356.50,166.64 357.10,165.44 357.60,164.84 C357.70,163.64 358.00,162.54 358.90,162.54 Z" fill="#eeeeee" stroke="none" stroke-width="0.8" />
<line x1="364.70" y1="174.54" x2="364.70" y2="186.04" stroke="#8c8c8c" stroke-width="1.6" />
<path d="M364.70,162.54 C365.60,162.54 365.90,163.64 366.00,164.84 C366.50,165.44 367.10,166.64 367.10,169.84 C367.20,173.24 366.50,175.44 364.70,175.44 C362.90,175.44 362.20,173.24 362.30,169.84 C362.30,166.64 362.90,165.44 363.40,164.84 C363.50,163.64 363.80,162.54 364.70,162.54 Z" fill="#eeeeee" stroke="none" stroke-width="0.8" />
<line x1="370.50" y1="174.54" x2="370.50" y2="186.04" stroke="#8c8c8c" stroke-width="1.6" />
<path d="M370.50,162.54 C371.40,162.54 371.70,163.64 371.80,164.84 C372.30,165.44 372.90,166.64 372.90,169.84 C373.00,173.24 372.30,175.44 370.50,175.44 C368.70,175.44 368.00,173.24 368.10,169.84 C368.10,166.64 368.70,165.44 369.20,164.84 C369.30,163.64 369.60,162.54 370.50,162.54 Z" fill="#eeeeee" stroke="none" stroke-width="0.8" />
<line x1="376.30" y1="174.54" x2="376.30" y2="186.04" stroke="#8c8c8c" stroke-width="1.6" />
<path d="M376.30,162.54 C377.20,162.54 377.50,163.64 377.60,164.84 C378.10,165.44 378.70,166.64 378.70,169.84 C378.80,173.24 378.10,175.44 376.30,175.44 C374.50,175.44 373.80,173.24 373.90,169.84 C373.90,166.64 374.50,165.44 375.00,164.84 C375.10,163.64 375.40,162.54 376.30,162.54 Z" fill="#eeeeee" stroke="none" stroke-width="0.8" />
<rect x="382.20" y="161.64" width="31.70" height="24.80" fill="#2e2e2e" />
<rect x="382.20" y="175.04" width="31.70" height="11.40" fill="#525252" />
<line x1="386.10" y1="174.54" x2="386.10" y2="186.04" stroke="#8c8c8c" stroke-width="1.6" />
<path d="M386.10,162.54 C387.00,162.54 387.30,163.64 387.40,164.84 C387.90,165.44 388.50,166.64 388.50,169.84 C388.60,173.24 387.90,175.44 386.10,175.44 C384.30,175.44 383.60,173.24 383.70,169.84 C383.70,166.64 384.30,165.44 384.80,164.84 C384.90,163.64 385.20,162.54 386.10,162.54 Z" fill="#e07a20" stroke="none" stroke-width="0.8" />
<ellipse cx="386.10" cy="164.24" rx="1.50" ry="1.80" fill="#f09a30"/>
<ellipse cx="386.10" cy="167.54" rx="2.30" ry="1.60" fill="#e06020"/>
<ellipse cx="386.10" cy="171.04" rx="2.50" ry="2.40" fill="#e06020"/>
<line x1="386.10" y1="175.24" x2="386.10" y2="184.44" stroke="#7a7a9c" stroke-width="1.3" />
<line x1="391.90" y1="174.54" x2="391.90" y2="186.04" stroke="#8c8c8c" stroke-width="1.6" />
<path d="M391.90,162.54 C392.80,162.54 393.10,163.64 393.20,164.84 C393.70,165.44 394.30,166.64 394.30,169.84 C394.40,173.24 393.70,175.44 391.90,175.44 C390.10,175.44 389.40,173.24 389.50,169.84 C389.50,166.64 390.10,165.44 390.60,164.84 C390.70,163.64 391.00,162.54 391.90,162.54 Z" fill="#e07a20" stroke="none" stroke-width="0.8" />
<ellipse cx="391.90" cy="164.24" rx="1.50" ry="1.80" fill="#f09a30"/>
<ellipse cx="391.90" cy="167.54" rx="2.30" ry="1.60" fill="#e07030"/>
<ellipse cx="391.90" cy="171.04" rx="2.50" ry="2.40" fill="#e06020"/>
<line x1="391.90" y1="175.24" x2="391.90" y2="184.44" stroke="#7a7a9c" stroke-width="1.3" />
<line x1="397.70" y1="174.54" x2="397.70" y2="186.04" stroke="#8c8c8c" stroke-width="1.6" />
<path d="M397.70,162.54 C398.60,162.54 398.90,163.64 399.00,164.84 C399.50,165.44 400.10,166.64 400.10,169.84 C400.20,173.24 399.50,175.44 397.70,175.44 C395.90,175.44 395.20,173.24 395.30,169.84 C395.30,166.64 395.90,165.44 396.40,164.84 C396.50,163.64 396.80,162.54 397.70,162.54 Z" fill="#e07a20" stroke="none" stroke-width="0.8" />
<ellipse cx="397.70" cy="164.24" rx="1.50" ry="1.80" fill="#f09a30"/>
<ellipse cx="397.70" cy="167.54" rx="2.30" ry="1.60" fill="#40a050"/>
<ellipse cx="397.70" cy="171.04" rx="2.50" ry="2.40" fill="#e06020"/>
<line x1="397.70" y1="175.24" x2="397.70" y2="184.44" stroke="#7a7a9c" stroke-width="1.3" />
<line x1="403.50" y1="174.54" x2="403.50" y2="186.04" stroke="#8c8c8c" stroke-width="1.6" />
<path d="M403.50,162.54 C404.40,162.54 404.70,163.64 404.80,164.84 C405.30,165.44 405.90,166.64 405.90,169.84 C406.00,173.24 405.30,175.44 403.50,175.44 C401.70,175.44 401.00,173.24 401.10,169.84 C401.10,166.64 401.70,165.44 402.20,164.84 C402.30,163.64 402.60,162.54 403.50,162.54 Z" fill="#e07a20" stroke="none" stroke-width="0.8" />
<ellipse cx="403.50" cy="164.24" rx="1.50" ry="1.80" fill="#f09a30"/>
<ellipse cx="403.50" cy="167.54" rx="2.30" ry="1.60" fill="#e06020"/>
<ellipse cx="403.50" cy="171.04" rx="2.50" ry="2.40" fill="#e06020"/>
<line x1="403.50" y1="175.24" x2="403.50" y2="184.44" stroke="#7a7a9c" stroke-width="1.3" />
<line x1="409.30" y1="174.54" x2="409.30" y2="186.04" stroke="#8c8c8c" stroke-width="1.6" />
<path d="M409.30,162.54 C410.20,162.54 410.50,163.64 410.60,164.84 C411.10,165.44 411.70,166.64 411.70,169.84 C411.80,173.24 411.10,175.44 409.30,175.44 C407.50,175.44 406.80,173.24 406.90,169.84 C406.90,166.64 407.50,165.44 408.00,164.84 C408.10,163.64 408.40,162.54 409.30,162.54 Z" fill="#e07a20" stroke="none" stroke-width="0.8" />
<ellipse cx="409.30" cy="164.24" rx="1.50" ry="1.80" fill="#f09a30"/>
<ellipse cx="409.30" cy="167.54" rx="2.30" ry="1.60" fill="#e07030"/>
<ellipse cx="409.30" cy="171.04" rx="2.50" ry="2.40" fill="#e06020"/>
<line x1="409.30" y1="175.24" x2="409.30" y2="184.44" stroke="#7a7a9c" stroke-width="1.3" />
<rect x="415.20" y="161.64" width="31.70" height="24.80" fill="#2e2e2e" />
<rect x="415.20" y="175.04" width="31.70" height="11.40" fill="#525252" />
<line x1="419.10" y1="174.54" x2="419.10" y2="186.04" stroke="#8c8c8c" stroke-width="1.6" />
<path d="M419.10,162.54 C420.00,162.54 420.30,163.64 420.40,164.84 C420.90,165.44 421.50,166.64 421.50,169.84 C421.60,173.24 420.90,175.44 419.10,175.44 C417.30,175.44 416.60,173.24 416.70,169.84 C416.70,166.64 417.30,165.44 417.80,164.84 C417.90,163.64 418.20,162.54 419.10,162.54 Z" fill="#eeeeee" stroke="none" stroke-width="0.8" />
<line x1="424.90" y1="174.54" x2="424.90" y2="186.04" stroke="#8c8c8c" stroke-width="1.6" />
<path d="M424.90,162.54 C425.80,162.54 426.10,163.64 426.20,164.84 C426.70,165.44 427.30,166.64 427.30,169.84 C427.40,173.24 426.70,175.44 424.90,175.44 C423.10,175.44 422.40,173.24 422.50,169.84 C422.50,166.64 423.10,165.44 423.60,164.84 C423.70,163.64 424.00,162.54 424.90,162.54 Z" fill="#eeeeee" stroke="none" stroke-width="0.8" />
<line x1="430.70" y1="174.54" x2="430.70" y2="186.04" stroke="#8c8c8c" stroke-width="1.6" />
<path d="M430.70,162.54 C431.60,162.54 431.90,163.64 432.00,164.84 C432.50,165.44 433.10,166.64 433.10,169.84 C433.20,173.24 432.50,175.44 430.70,175.44 C428.90,175.44 428.20,173.24 428.30,169.84 C428.30,166.64 428.90,165.44 429.40,164.84 C429.50,163.64 429.80,162.54 430.70,162.54 Z" fill="#eeeeee" stroke="none" stroke-width="0.8" />
<line x1="436.50" y1="174.54" x2="436.50" y2="186.04" stroke="#8c8c8c" stroke-width="1.6" />
<path d="M436.50,162.54 C437.40,162.54 437.70,163.64 437.80,164.84 C438.30,165.44 438.90,166.64 438.90,169.84 C439.00,173.24 438.30,175.44 436.50,175.44 C434.70,175.44 434.00,173.24 434.10,169.84 C434.10,166.64 434.70,165.44 435.20,164.84 C435.30,163.64 435.60,162.54 436.50,162.54 Z" fill="#eeeeee" stroke="none" stroke-width="0.8" />
<line x1="442.30" y1="174.54" x2="442.30" y2="186.04" stroke="#8c8c8c" stroke-width="1.6" />
<path d="M442.30,162.54 C443.20,162.54 443.50,163.64 443.60,164.84 C444.10,165.44 444.70,166.64 444.70,169.84 C444.80,173.24 444.10,175.44 442.30,175.44 C440.50,175.44 439.80,173.24 439.90,169.84 C439.90,166.64 440.50,165.44 441.00,164.84 C441.10,163.64 441.40,162.54 442.30,162.54 Z" fill="#eeeeee" stroke="none" stroke-width="0.8" />
<rect x="448.20" y="161.64" width="31.70" height="24.80" fill="#2e2e2e" />
<rect x="448.20" y="175.04" width="31.70" height="11.40" fill="#525252" />
<line x1="452.10" y1="174.54" x2="452.10" y2="186.04" stroke="#8c8c8c" stroke-width="1.6" />
<path d="M452.10,162.54 C453.00,162.54 453.30,163.64 453.40,164.84 C453.90,165.44 454.50,166.64 454.50,169.84 C454.60,173.24 453.90,175.44 452.10,175.44 C450.30,175.44 449.60,173.24 449.70,169.84 C449.70,166.64 450.30,165.44 450.80,164.84 C450.90,163.64 451.20,162.54 452.10,162.54 Z" fill="#eeeeee" stroke="none" stroke-width="0.8" />
<line x1="457.90" y1="174.54" x2="457.90" y2="186.04" stroke="#8c8c8c" stroke-width="1.6" />
<path d="M457.90,162.54 C458.80,162.54 459.10,163.64 459.20,164.84 C459.70,165.44 460.30,166.64 460.30,169.84 C460.40,173.24 459.70,175.44 457.90,175.44 C456.10,175.44 455.40,173.24 455.50,169.84 C455.50,166.64 456.10,165.44 456.60,164.84 C456.70,163.64 457.00,162.54 457.90,162.54 Z" fill="#eeeeee" stroke="none" stroke-width="0.8" />
<line x1="463.70" y1="174.54" x2="463.70" y2="186.04" stroke="#8c8c8c" stroke-width="1.6" />
<path d="M463.70,162.54 C464.60,162.54 464.90,163.64 465.00,164.84 C465.50,165.44 466.10,166.64 466.10,169.84 C466.20,173.24 465.50,175.44 463.70,175.44 C461.90,175.44 461.20,173.24 461.30,169.84 C461.30,166.64 461.90,165.44 462.40,164.84 C462.50,163.64 462.80,162.54 463.70,162.54 Z" fill="#eeeeee" stroke="none" stroke-width="0.8" />
<line x1="469.50" y1="174.54" x2="469.50" y2="186.04" stroke="#8c8c8c" stroke-width="1.6" />
<path d="M469.50,162.54 C470.40,162.54 470.70,163.64 470.80,164.84 C471.30,165.44 471.90,166.64 471.90,169.84 C472.00,173.24 471.30,175.44 469.50,175.44 C467.70,175.44 467.00,173.24 467.10,169.84 C467.10,166.64 467.70,165.44 468.20,164.84 C468.30,163.64 468.60,162.54 469.50,162.54 Z" fill="#eeeeee" stroke="none" stroke-width="0.8" />
<line x1="475.30" y1="174.54" x2="475.30" y2="186.04" stroke="#8c8c8c" stroke-width="1.6" />
<path d="M475.30,162.54 C476.20,162.54 476.50,163.64 476.60,164.84 C477.10,165.44 477.70,166.64 477.70,169.84 C477.80,173.24 477.10,175.44 475.30,175.44 C473.50,175.44 472.80,173.24 472.90,169.84 C472.90,166.64 473.50,165.44 474.00,164.84 C474.10,163.64 474.40,162.54 475.30,162.54 Z" fill="#eeeeee" stroke="none" stroke-width="0.8" />
<rect x="316.20" y="188.35" width="31.70" height="24.80" fill="#2e2e2e" />
<rect x="316.20" y="201.75" width="31.70" height="11.40" fill="#525252" />
<line x1="320.10" y1="201.25" x2="320.10" y2="212.75" stroke="#8c8c8c" stroke-width="1.6" />
<path d="M320.10,189.25 C321.00,189.25 321.30,190.35 321.40,191.55 C321.90,192.15 322.50,193.35 322.50,196.55 C322.60,199.95 321.90,202.15 320.10,202.15 C318.30,202.15 317.60,199.95 317.70,196.55 C317.70,193.35 318.30,192.15 318.80,191.55 C318.90,190.35 319.20,189.25 320.10,189.25 Z" fill="#e8561e" stroke="none" stroke-width="0.8" />
<ellipse cx="320.10" cy="191.75" rx="1.60" ry="2.20" fill="#ee6a20"/>
<ellipse cx="320.10" cy="195.25" rx="2.00" ry="1.40" fill="#f04a14"/>
<ellipse cx="320.10" cy="199.25" rx="2.40" ry="2.50" fill="#f04a14"/>
<line x1="320.10" y1="201.75" x2="320.10" y2="207.85" stroke="#3a7a8e" stroke-width="1.7" />
<line x1="325.90" y1="201.25" x2="325.90" y2="212.75" stroke="#8c8c8c" stroke-width="1.6" />
<path d="M325.90,189.25 C326.80,189.25 327.10,190.35 327.20,191.55 C327.70,192.15 328.30,193.35 328.30,196.55 C328.40,199.95 327.70,202.15 325.90,202.15 C324.10,202.15 323.40,199.95 323.50,196.55 C323.50,193.35 324.10,192.15 324.60,191.55 C324.70,190.35 325.00,189.25 325.90,189.25 Z" fill="#e8561e" stroke="none" stroke-width="0.8" />
<ellipse cx="325.90" cy="191.75" rx="1.60" ry="2.20" fill="#ee6a20"/>
<ellipse cx="325.90" cy="195.25" rx="2.00" ry="1.40" fill="#f08a28"/>
<ellipse cx="325.90" cy="199.25" rx="2.40" ry="2.50" fill="#f04a14"/>
<line x1="325.90" y1="201.75" x2="325.90" y2="207.85" stroke="#3a7a8e" stroke-width="1.7" />
<line x1="331.70" y1="201.25" x2="331.70" y2="212.75" stroke="#8c8c8c" stroke-width="1.6" />
<path d="M331.70,189.25 C332.60,189.25 332.90,190.35 333.00,191.55 C333.50,192.15 334.10,193.35 334.10,196.55 C334.20,199.95 333.50,202.15 331.70,202.15 C329.90,202.15 329.20,199.95 329.30,196.55 C329.30,193.35 329.90,192.15 330.40,191.55 C330.50,190.35 330.80,189.25 331.70,189.25 Z" fill="#e8561e" stroke="none" stroke-width="0.8" />
<ellipse cx="331.70" cy="191.75" rx="1.60" ry="2.20" fill="#ee6a20"/>
<ellipse cx="331.70" cy="195.25" rx="2.00" ry="1.40" fill="#f04a14"/>
<ellipse cx="331.70" cy="199.25" rx="2.40" ry="2.50" fill="#f04a14"/>
<line x1="331.70" y1="201.75" x2="331.70" y2="207.85" stroke="#3a7a8e" stroke-width="1.7" />
<line x1="337.50" y1="201.25" x2="337.50" y2="212.75" stroke="#8c8c8c" stroke-width="1.6" />
<path d="M337.50,189.25 C338.40,189.25 338.70,190.35 338.80,191.55 C339.30,192.15 339.90,193.35 339.90,196.55 C340.00,199.95 339.30,202.15 337.50,202.15 C335.70,202.15 335.00,199.95 335.10,196.55 C335.10,193.35 335.70,192.15 336.20,191.55 C336.30,190.35 336.60,189.25 337.50,189.25 Z" fill="#e8561e" stroke="none" stroke-width="0.8" />
<ellipse cx="337.50" cy="191.75" rx="1.60" ry="2.20" fill="#ee6a20"/>
<ellipse cx="337.50" cy="195.25" rx="2.00" ry="1.40" fill="#f08a28"/>
<ellipse cx="337.50" cy="199.25" rx="2.40" ry="2.50" fill="#f04a14"/>
<line x1="337.50" y1="201.75" x2="337.50" y2="207.85" stroke="#3a7a8e" stroke-width="1.7" />
<line x1="343.30" y1="201.25" x2="343.30" y2="212.75" stroke="#8c8c8c" stroke-width="1.6" />
<path d="M343.30,189.25 C344.20,189.25 344.50,190.35 344.60,191.55 C345.10,192.15 345.70,193.35 345.70,196.55 C345.80,199.95 345.10,202.15 343.30,202.15 C341.50,202.15 340.80,199.95 340.90,196.55 C340.90,193.35 341.50,192.15 342.00,191.55 C342.10,190.35 342.40,189.25 343.30,189.25 Z" fill="#e8561e" stroke="none" stroke-width="0.8" />
<ellipse cx="343.30" cy="191.75" rx="1.60" ry="2.20" fill="#ee6a20"/>
<ellipse cx="343.30" cy="195.25" rx="2.00" ry="1.40" fill="#f04a14"/>
<ellipse cx="343.30" cy="199.25" rx="2.40" ry="2.50" fill="#f04a14"/>
<line x1="343.30" y1="201.75" x2="343.30" y2="207.85" stroke="#3a7a8e" stroke-width="1.7" />
<rect x="349.20" y="188.35" width="31.70" height="24.80" fill="#2e2e2e" />
<rect x="349.20" y="201.75" width="31.70" height="11.40" fill="#525252" />
<line x1="353.10" y1="201.25" x2="353.10" y2="212.75" stroke="#8c8c8c" stroke-width="1.6" />
<path d="M353.10,189.25 C354.00,189.25 354.30,190.35 354.40,191.55 C354.90,192.15 355.50,193.35 355.50,196.55 C355.60,199.95 354.90,202.15 353.10,202.15 C351.30,202.15 350.60,199.95 350.70,196.55 C350.70,193.35 351.30,192.15 351.80,191.55 C351.90,190.35 352.20,189.25 353.10,189.25 Z" fill="#eeeeee" stroke="none" stroke-width="0.8" />
<line x1="358.90" y1="201.25" x2="358.90" y2="212.75" stroke="#8c8c8c" stroke-width="1.6" />
<path d="M358.90,189.25 C359.80,189.25 360.10,190.35 360.20,191.55 C360.70,192.15 361.30,193.35 361.30,196.55 C361.40,199.95 360.70,202.15 358.90,202.15 C357.10,202.15 356.40,199.95 356.50,196.55 C356.50,193.35 357.10,192.15 357.60,191.55 C357.70,190.35 358.00,189.25 358.90,189.25 Z" fill="#eeeeee" stroke="none" stroke-width="0.8" />
<line x1="364.70" y1="201.25" x2="364.70" y2="212.75" stroke="#8c8c8c" stroke-width="1.6" />
<path d="M364.70,189.25 C365.60,189.25 365.90,190.35 366.00,191.55 C366.50,192.15 367.10,193.35 367.10,196.55 C367.20,199.95 366.50,202.15 364.70,202.15 C362.90,202.15 362.20,199.95 362.30,196.55 C362.30,193.35 362.90,192.15 363.40,191.55 C363.50,190.35 363.80,189.25 364.70,189.25 Z" fill="#eeeeee" stroke="none" stroke-width="0.8" />
<line x1="370.50" y1="201.25" x2="370.50" y2="212.75" stroke="#8c8c8c" stroke-width="1.6" />
<path d="M370.50,189.25 C371.40,189.25 371.70,190.35 371.80,191.55 C372.30,192.15 372.90,193.35 372.90,196.55 C373.00,199.95 372.30,202.15 370.50,202.15 C368.70,202.15 368.00,199.95 368.10,196.55 C368.10,193.35 368.70,192.15 369.20,191.55 C369.30,190.35 369.60,189.25 370.50,189.25 Z" fill="#eeeeee" stroke="none" stroke-width="0.8" />
<line x1="376.30" y1="201.25" x2="376.30" y2="212.75" stroke="#8c8c8c" stroke-width="1.6" />
<path d="M376.30,189.25 C377.20,189.25 377.50,190.35 377.60,191.55 C378.10,192.15 378.70,193.35 378.70,196.55 C378.80,199.95 378.10,202.15 376.30,202.15 C374.50,202.15 373.80,199.95 373.90,196.55 C373.90,193.35 374.50,192.15 375.00,191.55 C375.10,190.35 375.40,189.25 376.30,189.25 Z" fill="#eeeeee" stroke="none" stroke-width="0.8" />
<rect x="382.20" y="188.35" width="31.70" height="24.80" fill="#2e2e2e" />
<rect x="382.20" y="201.75" width="31.70" height="11.40" fill="#525252" />
<line x1="386.10" y1="201.25" x2="386.10" y2="212.75" stroke="#8c8c8c" stroke-width="1.6" />
<path d="M386.10,189.25 C387.00,189.25 387.30,190.35 387.40,191.55 C387.90,192.15 388.50,193.35 388.50,196.55 C388.60,199.95 387.90,202.15 386.10,202.15 C384.30,202.15 383.60,199.95 383.70,196.55 C383.70,193.35 384.30,192.15 384.80,191.55 C384.90,190.35 385.20,189.25 386.10,189.25 Z" fill="#e8561e" stroke="none" stroke-width="0.8" />
<ellipse cx="386.10" cy="191.75" rx="1.60" ry="2.20" fill="#ee6a20"/>
<ellipse cx="386.10" cy="195.25" rx="2.00" ry="1.40" fill="#f04a14"/>
<ellipse cx="386.10" cy="199.25" rx="2.40" ry="2.50" fill="#f04a14"/>
<line x1="386.10" y1="201.75" x2="386.10" y2="207.85" stroke="#3a7a8e" stroke-width="1.7" />
<line x1="391.90" y1="201.25" x2="391.90" y2="212.75" stroke="#8c8c8c" stroke-width="1.6" />
<path d="M391.90,189.25 C392.80,189.25 393.10,190.35 393.20,191.55 C393.70,192.15 394.30,193.35 394.30,196.55 C394.40,199.95 393.70,202.15 391.90,202.15 C390.10,202.15 389.40,199.95 389.50,196.55 C389.50,193.35 390.10,192.15 390.60,191.55 C390.70,190.35 391.00,189.25 391.90,189.25 Z" fill="#e8561e" stroke="none" stroke-width="0.8" />
<ellipse cx="391.90" cy="191.75" rx="1.60" ry="2.20" fill="#ee6a20"/>
<ellipse cx="391.90" cy="195.25" rx="2.00" ry="1.40" fill="#f08a28"/>
<ellipse cx="391.90" cy="199.25" rx="2.40" ry="2.50" fill="#f04a14"/>
<line x1="391.90" y1="201.75" x2="391.90" y2="207.85" stroke="#3a7a8e" stroke-width="1.7" />
<line x1="397.70" y1="201.25" x2="397.70" y2="212.75" stroke="#8c8c8c" stroke-width="1.6" />
<path d="M397.70,189.25 C398.60,189.25 398.90,190.35 399.00,191.55 C399.50,192.15 400.10,193.35 400.10,196.55 C400.20,199.95 399.50,202.15 397.70,202.15 C395.90,202.15 395.20,199.95 395.30,196.55 C395.30,193.35 395.90,192.15 396.40,191.55 C396.50,190.35 396.80,189.25 397.70,189.25 Z" fill="#e8561e" stroke="none" stroke-width="0.8" />
<ellipse cx="397.70" cy="191.75" rx="1.60" ry="2.20" fill="#ee6a20"/>
<ellipse cx="397.70" cy="195.25" rx="2.00" ry="1.40" fill="#f04a14"/>
<ellipse cx="397.70" cy="199.25" rx="2.40" ry="2.50" fill="#f04a14"/>
<line x1="397.70" y1="201.75" x2="397.70" y2="207.85" stroke="#3a7a8e" stroke-width="1.7" />
<line x1="403.50" y1="201.25" x2="403.50" y2="212.75" stroke="#8c8c8c" stroke-width="1.6" />
<path d="M403.50,189.25 C404.40,189.25 404.70,190.35 404.80,191.55 C405.30,192.15 405.90,193.35 405.90,196.55 C406.00,199.95 405.30,202.15 403.50,202.15 C401.70,202.15 401.00,199.95 401.10,196.55 C401.10,193.35 401.70,192.15 402.20,191.55 C402.30,190.35 402.60,189.25 403.50,189.25 Z" fill="#e8561e" stroke="none" stroke-width="0.8" />
<ellipse cx="403.50" cy="191.75" rx="1.60" ry="2.20" fill="#ee6a20"/>
<ellipse cx="403.50" cy="195.25" rx="2.00" ry="1.40" fill="#f08a28"/>
<ellipse cx="403.50" cy="199.25" rx="2.40" ry="2.50" fill="#f04a14"/>
<line x1="403.50" y1="201.75" x2="403.50" y2="207.85" stroke="#3a7a8e" stroke-width="1.7" />
<line x1="409.30" y1="201.25" x2="409.30" y2="212.75" stroke="#8c8c8c" stroke-width="1.6" />
<path d="M409.30,189.25 C410.20,189.25 410.50,190.35 410.60,191.55 C411.10,192.15 411.70,193.35 411.70,196.55 C411.80,199.95 411.10,202.15 409.30,202.15 C407.50,202.15 406.80,199.95 406.90,196.55 C406.90,193.35 407.50,192.15 408.00,191.55 C408.10,190.35 408.40,189.25 409.30,189.25 Z" fill="#e8561e" stroke="none" stroke-width="0.8" />
<ellipse cx="409.30" cy="191.75" rx="1.60" ry="2.20" fill="#ee6a20"/>
<ellipse cx="409.30" cy="195.25" rx="2.00" ry="1.40" fill="#f04a14"/>
<ellipse cx="409.30" cy="199.25" rx="2.40" ry="2.50" fill="#f04a14"/>
<line x1="409.30" y1="201.75" x2="409.30" y2="207.85" stroke="#3a7a8e" stroke-width="1.7" />
<rect x="415.20" y="188.35" width="31.70" height="24.80" fill="#2e2e2e" />
<rect x="415.20" y="201.75" width="31.70" height="11.40" fill="#525252" />
<line x1="419.10" y1="201.25" x2="419.10" y2="212.75" stroke="#8c8c8c" stroke-width="1.6" />
<path d="M419.10,189.25 C420.00,189.25 420.30,190.35 420.40,191.55 C420.90,192.15 421.50,193.35 421.50,196.55 C421.60,199.95 420.90,202.15 419.10,202.15 C417.30,202.15 416.60,199.95 416.70,196.55 C416.70,193.35 417.30,192.15 417.80,191.55 C417.90,190.35 418.20,189.25 419.10,189.25 Z" fill="#eeeeee" stroke="none" stroke-width="0.8" />
<line x1="424.90" y1="201.25" x2="424.90" y2="212.75" stroke="#8c8c8c" stroke-width="1.6" />
<path d="M424.90,189.25 C425.80,189.25 426.10,190.35 426.20,191.55 C426.70,192.15 427.30,193.35 427.30,196.55 C427.40,199.95 426.70,202.15 424.90,202.15 C423.10,202.15 422.40,199.95 422.50,196.55 C422.50,193.35 423.10,192.15 423.60,191.55 C423.70,190.35 424.00,189.25 424.90,189.25 Z" fill="#eeeeee" stroke="none" stroke-width="0.8" />
<line x1="430.70" y1="201.25" x2="430.70" y2="212.75" stroke="#8c8c8c" stroke-width="1.6" />
<path d="M430.70,189.25 C431.60,189.25 431.90,190.35 432.00,191.55 C432.50,192.15 433.10,193.35 433.10,196.55 C433.20,199.95 432.50,202.15 430.70,202.15 C428.90,202.15 428.20,199.95 428.30,196.55 C428.30,193.35 428.90,192.15 429.40,191.55 C429.50,190.35 429.80,189.25 430.70,189.25 Z" fill="#eeeeee" stroke="none" stroke-width="0.8" />
<line x1="436.50" y1="201.25" x2="436.50" y2="212.75" stroke="#8c8c8c" stroke-width="1.6" />
<path d="M436.50,189.25 C437.40,189.25 437.70,190.35 437.80,191.55 C438.30,192.15 438.90,193.35 438.90,196.55 C439.00,199.95 438.30,202.15 436.50,202.15 C434.70,202.15 434.00,199.95 434.10,196.55 C434.10,193.35 434.70,192.15 435.20,191.55 C435.30,190.35 435.60,189.25 436.50,189.25 Z" fill="#eeeeee" stroke="none" stroke-width="0.8" />
<line x1="442.30" y1="201.25" x2="442.30" y2="212.75" stroke="#8c8c8c" stroke-width="1.6" />
<path d="M442.30,189.25 C443.20,189.25 443.50,190.35 443.60,191.55 C444.10,192.15 444.70,193.35 444.70,196.55 C444.80,199.95 444.10,202.15 442.30,202.15 C440.50,202.15 439.80,199.95 439.90,196.55 C439.90,193.35 440.50,192.15 441.00,191.55 C441.10,190.35 441.40,189.25 442.30,189.25 Z" fill="#eeeeee" stroke="none" stroke-width="0.8" />
<rect x="448.20" y="188.35" width="31.70" height="24.80" fill="#2e2e2e" />
<rect x="448.20" y="201.75" width="31.70" height="11.40" fill="#525252" />
<line x1="452.10" y1="201.25" x2="452.10" y2="212.75" stroke="#8c8c8c" stroke-width="1.6" />
<path d="M452.10,189.25 C453.00,189.25 453.30,190.35 453.40,191.55 C453.90,192.15 454.50,193.35 454.50,196.55 C454.60,199.95 453.90,202.15 452.10,202.15 C450.30,202.15 449.60,199.95 449.70,196.55 C449.70,193.35 450.30,192.15 450.80,191.55 C450.90,190.35 451.20,189.25 452.10,189.25 Z" fill="#eeeeee" stroke="none" stroke-width="0.8" />
<line x1="457.90" y1="201.25" x2="457.90" y2="212.75" stroke="#8c8c8c" stroke-width="1.6" />
<path d="M457.90,189.25 C458.80,189.25 459.10,190.35 459.20,191.55 C459.70,192.15 460.30,193.35 460.30,196.55 C460.40,199.95 459.70,202.15 457.90,202.15 C456.10,202.15 455.40,199.95 455.50,196.55 C455.50,193.35 456.10,192.15 456.60,191.55 C456.70,190.35 457.00,189.25 457.90,189.25 Z" fill="#eeeeee" stroke="none" stroke-width="0.8" />
<line x1="463.70" y1="201.25" x2="463.70" y2="212.75" stroke="#8c8c8c" stroke-width="1.6" />
<path d="M463.70,189.25 C464.60,189.25 464.90,190.35 465.00,191.55 C465.50,192.15 466.10,193.35 466.10,196.55 C466.20,199.95 465.50,202.15 463.70,202.15 C461.90,202.15 461.20,199.95 461.30,196.55 C461.30,193.35 461.90,192.15 462.40,191.55 C462.50,190.35 462.80,189.25 463.70,189.25 Z" fill="#eeeeee" stroke="none" stroke-width="0.8" />
<line x1="469.50" y1="201.25" x2="469.50" y2="212.75" stroke="#8c8c8c" stroke-width="1.6" />
<path d="M469.50,189.25 C470.40,189.25 470.70,190.35 470.80,191.55 C471.30,192.15 471.90,193.35 471.90,196.55 C472.00,199.95 471.30,202.15 469.50,202.15 C467.70,202.15 467.00,199.95 467.10,196.55 C467.10,193.35 467.70,192.15 468.20,191.55 C468.30,190.35 468.60,189.25 469.50,189.25 Z" fill="#eeeeee" stroke="none" stroke-width="0.8" />
<line x1="475.30" y1="201.25" x2="475.30" y2="212.75" stroke="#8c8c8c" stroke-width="1.6" />
<path d="M475.30,189.25 C476.20,189.25 476.50,190.35 476.60,191.55 C477.10,192.15 477.70,193.35 477.70,196.55 C477.80,199.95 477.10,202.15 475.30,202.15 C473.50,202.15 472.80,199.95 472.90,196.55 C472.90,193.35 473.50,192.15 474.00,191.55 C474.10,190.35 474.40,189.25 475.30,189.25 Z" fill="#eeeeee" stroke="none" stroke-width="0.8" />
<rect x="349.20" y="215.06" width="31.70" height="24.80" fill="#2e2e2e" />
<rect x="349.20" y="228.46" width="31.70" height="11.40" fill="#525252" />
<line x1="353.10" y1="227.96" x2="353.10" y2="239.46" stroke="#8c8c8c" stroke-width="1.6" />
<path d="M353.10,215.96 C354.00,215.96 354.30,217.06 354.40,218.26 C354.90,218.86 355.50,220.06 355.50,223.26 C355.60,226.66 354.90,228.86 353.10,228.86 C351.30,228.86 350.60,226.66 350.70,223.26 C350.70,220.06 351.30,218.86 351.80,218.26 C351.90,217.06 352.20,215.96 353.10,215.96 Z" fill="#eeeeee" stroke="none" stroke-width="0.8" />
<line x1="358.90" y1="227.96" x2="358.90" y2="239.46" stroke="#8c8c8c" stroke-width="1.6" />
<path d="M358.90,215.96 C359.80,215.96 360.10,217.06 360.20,218.26 C360.70,218.86 361.30,220.06 361.30,223.26 C361.40,226.66 360.70,228.86 358.90,228.86 C357.10,228.86 356.40,226.66 356.50,223.26 C356.50,220.06 357.10,218.86 357.60,218.26 C357.70,217.06 358.00,215.96 358.90,215.96 Z" fill="#eeeeee" stroke="none" stroke-width="0.8" />
<line x1="364.70" y1="227.96" x2="364.70" y2="239.46" stroke="#8c8c8c" stroke-width="1.6" />
<path d="M364.70,215.96 C365.60,215.96 365.90,217.06 366.00,218.26 C366.50,218.86 367.10,220.06 367.10,223.26 C367.20,226.66 366.50,228.86 364.70,228.86 C362.90,228.86 362.20,226.66 362.30,223.26 C362.30,220.06 362.90,218.86 363.40,218.26 C363.50,217.06 363.80,215.96 364.70,215.96 Z" fill="#eeeeee" stroke="none" stroke-width="0.8" />
<line x1="370.50" y1="227.96" x2="370.50" y2="239.46" stroke="#8c8c8c" stroke-width="1.6" />
<path d="M370.50,215.96 C371.40,215.96 371.70,217.06 371.80,218.26 C372.30,218.86 372.90,220.06 372.90,223.26 C373.00,226.66 372.30,228.86 370.50,228.86 C368.70,228.86 368.00,226.66 368.10,223.26 C368.10,220.06 368.70,218.86 369.20,218.26 C369.30,217.06 369.60,215.96 370.50,215.96 Z" fill="#eeeeee" stroke="none" stroke-width="0.8" />
<line x1="376.30" y1="227.96" x2="376.30" y2="239.46" stroke="#8c8c8c" stroke-width="1.6" />
<path d="M376.30,215.96 C377.20,215.96 377.50,217.06 377.60,218.26 C378.10,218.86 378.70,220.06 378.70,223.26 C378.80,226.66 378.10,228.86 376.30,228.86 C374.50,228.86 373.80,226.66 373.90,223.26 C373.90,220.06 374.50,218.86 375.00,218.26 C375.10,217.06 375.40,215.96 376.30,215.96 Z" fill="#eeeeee" stroke="none" stroke-width="0.8" />
<rect x="382.20" y="215.06" width="31.70" height="24.80" fill="#2e2e2e" />
<rect x="382.20" y="228.46" width="31.70" height="11.40" fill="#525252" />
<line x1="386.80" y1="227.96" x2="386.80" y2="239.46" stroke="#8c8c8c" stroke-width="1.6" />
<path d="M386.80,215.96 C387.70,215.96 388.00,217.06 388.10,218.26 C388.60,218.86 389.20,220.06 389.20,223.26 C389.30,226.66 388.60,228.86 386.80,228.86 C385.00,228.86 384.30,226.66 384.40,223.26 C384.40,220.06 385.00,218.86 385.50,218.26 C385.60,217.06 385.90,215.96 386.80,215.96 Z" fill="#ea5a1a" stroke="none" stroke-width="0.8" />
<ellipse cx="386.80" cy="218.46" rx="2.80" ry="3.00" fill="#f06020"/>
<ellipse cx="386.80" cy="223.46" rx="3.00" ry="3.00" fill="#e04818"/>
<ellipse cx="386.80" cy="227.46" rx="2.60" ry="2.50" fill="#e86020"/>
<line x1="386.80" y1="228.06" x2="386.80" y2="239.36" stroke="#b0583a" stroke-width="1.8" />
<line x1="392.70" y1="227.96" x2="392.70" y2="239.46" stroke="#8c8c8c" stroke-width="1.6" />
<path d="M392.70,215.96 C393.60,215.96 393.90,217.06 394.00,218.26 C394.50,218.86 395.10,220.06 395.10,223.26 C395.20,226.66 394.50,228.86 392.70,228.86 C390.90,228.86 390.20,226.66 390.30,223.26 C390.30,220.06 390.90,218.86 391.40,218.26 C391.50,217.06 391.80,215.96 392.70,215.96 Z" fill="#ea5a1a" stroke="none" stroke-width="0.8" />
<ellipse cx="392.70" cy="218.46" rx="2.80" ry="3.00" fill="#f06020"/>
<ellipse cx="392.70" cy="223.46" rx="3.00" ry="3.00" fill="#e04818"/>
<ellipse cx="392.70" cy="227.46" rx="2.60" ry="2.50" fill="#e86020"/>
<line x1="392.70" y1="228.06" x2="392.70" y2="239.36" stroke="#b0583a" stroke-width="1.8" />
<line x1="398.60" y1="227.96" x2="398.60" y2="239.46" stroke="#8c8c8c" stroke-width="1.6" />
<path d="M398.60,215.96 C399.50,215.96 399.80,217.06 399.90,218.26 C400.40,218.86 401.00,220.06 401.00,223.26 C401.10,226.66 400.40,228.86 398.60,228.86 C396.80,228.86 396.10,226.66 396.20,223.26 C396.20,220.06 396.80,218.86 397.30,218.26 C397.40,217.06 397.70,215.96 398.60,215.96 Z" fill="#ea5a1a" stroke="none" stroke-width="0.8" />
<ellipse cx="398.60" cy="218.46" rx="2.80" ry="3.00" fill="#f06020"/>
<ellipse cx="398.60" cy="223.46" rx="3.00" ry="3.00" fill="#e04818"/>
<ellipse cx="398.60" cy="227.46" rx="2.60" ry="2.50" fill="#e86020"/>
<line x1="398.60" y1="228.06" x2="398.60" y2="239.36" stroke="#b0583a" stroke-width="1.8" />
<line x1="404.50" y1="227.96" x2="404.50" y2="239.46" stroke="#8c8c8c" stroke-width="1.6" />
<path d="M404.50,215.96 C405.40,215.96 405.70,217.06 405.80,218.26 C406.30,218.86 406.90,220.06 406.90,223.26 C407.00,226.66 406.30,228.86 404.50,228.86 C402.70,228.86 402.00,226.66 402.10,223.26 C402.10,220.06 402.70,218.86 403.20,218.26 C403.30,217.06 403.60,215.96 404.50,215.96 Z" fill="#ea5a1a" stroke="none" stroke-width="0.8" />
<ellipse cx="404.50" cy="218.46" rx="2.80" ry="3.00" fill="#f06020"/>
<ellipse cx="404.50" cy="223.46" rx="3.00" ry="3.00" fill="#e04818"/>
<ellipse cx="404.50" cy="227.46" rx="2.60" ry="2.50" fill="#e86020"/>
<line x1="404.50" y1="228.06" x2="404.50" y2="239.36" stroke="#b0583a" stroke-width="1.8" />
<rect x="415.20" y="215.06" width="31.70" height="24.80" fill="#2e2e2e" />
<rect x="415.20" y="228.46" width="31.70" height="11.40" fill="#525252" />
<line x1="419.10" y1="227.96" x2="419.10" y2="239.46" stroke="#8c8c8c" stroke-width="1.6" />
<path d="M419.10,215.96 C420.00,215.96 420.30,217.06 420.40,218.26 C420.90,218.86 421.50,220.06 421.50,223.26 C421.60,226.66 420.90,228.86 419.10,228.86 C417.30,228.86 416.60,226.66 416.70,223.26 C416.70,220.06 417.30,218.86 417.80,218.26 C417.90,217.06 418.20,215.96 419.10,215.96 Z" fill="#eeeeee" stroke="none" stroke-width="0.8" />
<ellipse cx="419.10" cy="222.26" rx="1.50" ry="1.00" fill="#2a3a98"/>
<line x1="424.90" y1="227.96" x2="424.90" y2="239.46" stroke="#8c8c8c" stroke-width="1.6" />
<path d="M424.90,215.96 C425.80,215.96 426.10,217.06 426.20,218.26 C426.70,218.86 427.30,220.06 427.30,223.26 C427.40,226.66 426.70,228.86 424.90,228.86 C423.10,228.86 422.40,226.66 422.50,223.26 C422.50,220.06 423.10,218.86 423.60,218.26 C423.70,217.06 424.00,215.96 424.90,215.96 Z" fill="#eeeeee" stroke="none" stroke-width="0.8" />
<ellipse cx="424.90" cy="222.26" rx="1.50" ry="1.00" fill="#2a3a98"/>
<line x1="430.70" y1="227.96" x2="430.70" y2="239.46" stroke="#8c8c8c" stroke-width="1.6" />
<path d="M430.70,215.96 C431.60,215.96 431.90,217.06 432.00,218.26 C432.50,218.86 433.10,220.06 433.10,223.26 C433.20,226.66 432.50,228.86 430.70,228.86 C428.90,228.86 428.20,226.66 428.30,223.26 C428.30,220.06 428.90,218.86 429.40,218.26 C429.50,217.06 429.80,215.96 430.70,215.96 Z" fill="#eeeeee" stroke="none" stroke-width="0.8" />
<ellipse cx="430.70" cy="222.26" rx="1.50" ry="1.00" fill="#2a3a98"/>
<line x1="436.50" y1="227.96" x2="436.50" y2="239.46" stroke="#8c8c8c" stroke-width="1.6" />
<path d="M436.50,215.96 C437.40,215.96 437.70,217.06 437.80,218.26 C438.30,218.86 438.90,220.06 438.90,223.26 C439.00,226.66 438.30,228.86 436.50,228.86 C434.70,228.86 434.00,226.66 434.10,223.26 C434.10,220.06 434.70,218.86 435.20,218.26 C435.30,217.06 435.60,215.96 436.50,215.96 Z" fill="#eeeeee" stroke="none" stroke-width="0.8" />
<ellipse cx="436.50" cy="222.26" rx="1.50" ry="1.00" fill="#2a3a98"/>
<line x1="442.30" y1="227.96" x2="442.30" y2="239.46" stroke="#8c8c8c" stroke-width="1.6" />
<path d="M442.30,215.96 C443.20,215.96 443.50,217.06 443.60,218.26 C444.10,218.86 444.70,220.06 444.70,223.26 C444.80,226.66 444.10,228.86 442.30,228.86 C440.50,228.86 439.80,226.66 439.90,223.26 C439.90,220.06 440.50,218.86 441.00,218.26 C441.10,217.06 441.40,215.96 442.30,215.96 Z" fill="#c8d4e8" stroke="none" stroke-width="0.8" />
<ellipse cx="442.30" cy="217.96" rx="1.40" ry="1.50" fill="#3a60a8"/>
<ellipse cx="442.30" cy="221.96" rx="2.00" ry="1.40" fill="#2a4a98"/>
<ellipse cx="442.30" cy="225.46" rx="1.80" ry="1.30" fill="#e8eef4"/>
<line x1="442.30" y1="228.66" x2="442.30" y2="237.86" stroke="#7a7a9c" stroke-width="1.3" />
<rect x="448.20" y="215.06" width="31.70" height="24.80" fill="#2e2e2e" />
<rect x="448.20" y="228.46" width="31.70" height="11.40" fill="#525252" />
<line x1="452.10" y1="227.96" x2="452.10" y2="239.46" stroke="#8c8c8c" stroke-width="1.6" />
<path d="M452.10,215.96 C453.00,215.96 453.30,217.06 453.40,218.26 C453.90,218.86 454.50,220.06 454.50,223.26 C454.60,226.66 453.90,228.86 452.10,228.86 C450.30,228.86 449.60,226.66 449.70,223.26 C449.70,220.06 450.30,218.86 450.80,218.26 C450.90,217.06 451.20,215.96 452.10,215.96 Z" fill="#eeeeee" stroke="none" stroke-width="0.8" />
<line x1="457.90" y1="227.96" x2="457.90" y2="239.46" stroke="#8c8c8c" stroke-width="1.6" />
<path d="M457.90,215.96 C458.80,215.96 459.10,217.06 459.20,218.26 C459.70,218.86 460.30,220.06 460.30,223.26 C460.40,226.66 459.70,228.86 457.90,228.86 C456.10,228.86 455.40,226.66 455.50,223.26 C455.50,220.06 456.10,218.86 456.60,218.26 C456.70,217.06 457.00,215.96 457.90,215.96 Z" fill="#eeeeee" stroke="none" stroke-width="0.8" />
<line x1="463.70" y1="227.96" x2="463.70" y2="239.46" stroke="#8c8c8c" stroke-width="1.6" />
<path d="M463.70,215.96 C464.60,215.96 464.90,217.06 465.00,218.26 C465.50,218.86 466.10,220.06 466.10,223.26 C466.20,226.66 465.50,228.86 463.70,228.86 C461.90,228.86 461.20,226.66 461.30,223.26 C461.30,220.06 461.90,218.86 462.40,218.26 C462.50,217.06 462.80,215.96 463.70,215.96 Z" fill="#eeeeee" stroke="none" stroke-width="0.8" />
<line x1="469.50" y1="227.96" x2="469.50" y2="239.46" stroke="#8c8c8c" stroke-width="1.6" />
<path d="M469.50,215.96 C470.40,215.96 470.70,217.06 470.80,218.26 C471.30,218.86 471.90,220.06 471.90,223.26 C472.00,226.66 471.30,228.86 469.50,228.86 C467.70,228.86 467.00,226.66 467.10,223.26 C467.10,220.06 467.70,218.86 468.20,218.26 C468.30,217.06 468.60,215.96 469.50,215.96 Z" fill="#eeeeee" stroke="none" stroke-width="0.8" />
<line x1="475.30" y1="227.96" x2="475.30" y2="239.46" stroke="#8c8c8c" stroke-width="1.6" />
<path d="M475.30,215.96 C476.20,215.96 476.50,217.06 476.60,218.26 C477.10,218.86 477.70,220.06 477.70,223.26 C477.80,226.66 477.10,228.86 475.30,228.86 C473.50,228.86 472.80,226.66 472.90,223.26 C472.90,220.06 473.50,218.86 474.00,218.26 C474.10,217.06 474.40,215.96 475.30,215.96 Z" fill="#eeeeee" stroke="none" stroke-width="0.8" />
<rect x="349.20" y="241.77" width="31.70" height="24.80" fill="#2e2e2e" />
<rect x="349.20" y="255.17" width="31.70" height="11.40" fill="#525252" />
<line x1="353.10" y1="254.67" x2="353.10" y2="266.17" stroke="#8c8c8c" stroke-width="1.6" />
<path d="M353.10,242.67 C354.00,242.67 354.30,243.77 354.40,244.97 C354.90,245.57 355.50,246.77 355.50,249.97 C355.60,253.37 354.90,255.57 353.10,255.57 C351.30,255.57 350.60,253.37 350.70,249.97 C350.70,246.77 351.30,245.57 351.80,244.97 C351.90,243.77 352.20,242.67 353.10,242.67 Z" fill="#eeeeee" stroke="none" stroke-width="0.8" />
<line x1="358.90" y1="254.67" x2="358.90" y2="266.17" stroke="#8c8c8c" stroke-width="1.6" />
<path d="M358.90,242.67 C359.80,242.67 360.10,243.77 360.20,244.97 C360.70,245.57 361.30,246.77 361.30,249.97 C361.40,253.37 360.70,255.57 358.90,255.57 C357.10,255.57 356.40,253.37 356.50,249.97 C356.50,246.77 357.10,245.57 357.60,244.97 C357.70,243.77 358.00,242.67 358.90,242.67 Z" fill="#eeeeee" stroke="none" stroke-width="0.8" />
<line x1="364.70" y1="254.67" x2="364.70" y2="266.17" stroke="#8c8c8c" stroke-width="1.6" />
<path d="M364.70,242.67 C365.60,242.67 365.90,243.77 366.00,244.97 C366.50,245.57 367.10,246.77 367.10,249.97 C367.20,253.37 366.50,255.57 364.70,255.57 C362.90,255.57 362.20,253.37 362.30,249.97 C362.30,246.77 362.90,245.57 363.40,244.97 C363.50,243.77 363.80,242.67 364.70,242.67 Z" fill="#eeeeee" stroke="none" stroke-width="0.8" />
<line x1="370.50" y1="254.67" x2="370.50" y2="266.17" stroke="#8c8c8c" stroke-width="1.6" />
<path d="M370.50,242.67 C371.40,242.67 371.70,243.77 371.80,244.97 C372.30,245.57 372.90,246.77 372.90,249.97 C373.00,253.37 372.30,255.57 370.50,255.57 C368.70,255.57 368.00,253.37 368.10,249.97 C368.10,246.77 368.70,245.57 369.20,244.97 C369.30,243.77 369.60,242.67 370.50,242.67 Z" fill="#eeeeee" stroke="none" stroke-width="0.8" />
<line x1="376.30" y1="254.67" x2="376.30" y2="266.17" stroke="#8c8c8c" stroke-width="1.6" />
<path d="M376.30,242.67 C377.20,242.67 377.50,243.77 377.60,244.97 C378.10,245.57 378.70,246.77 378.70,249.97 C378.80,253.37 378.10,255.57 376.30,255.57 C374.50,255.57 373.80,253.37 373.90,249.97 C373.90,246.77 374.50,245.57 375.00,244.97 C375.10,243.77 375.40,242.67 376.30,242.67 Z" fill="#eeeeee" stroke="none" stroke-width="0.8" />
<rect x="415.20" y="241.77" width="31.70" height="24.80" fill="#2e2e2e" />
<rect x="415.20" y="255.17" width="31.70" height="11.40" fill="#525252" />
<line x1="419.10" y1="254.67" x2="419.10" y2="266.17" stroke="#8c8c8c" stroke-width="1.6" />
<path d="M419.10,242.67 C420.00,242.67 420.30,243.77 420.40,244.97 C420.90,245.57 421.50,246.77 421.50,249.97 C421.60,253.37 420.90,255.57 419.10,255.57 C417.30,255.57 416.60,253.37 416.70,249.97 C416.70,246.77 417.30,245.57 417.80,244.97 C417.90,243.77 418.20,242.67 419.10,242.67 Z" fill="#e06a24" stroke="none" stroke-width="0.8" />
<ellipse cx="419.10" cy="243.97" rx="1.20" ry="1.60" fill="#40a050"/>
<ellipse cx="419.10" cy="246.77" rx="2.20" ry="1.80" fill="#e8701e"/>
<ellipse cx="419.10" cy="250.37" rx="2.20" ry="1.20" fill="#f0f0f0"/>
<ellipse cx="419.10" cy="253.37" rx="2.20" ry="1.80" fill="#40a060"/>
<line x1="419.10" y1="255.37" x2="419.10" y2="264.57" stroke="#7a7a9c" stroke-width="1.3" />
<line x1="424.90" y1="254.67" x2="424.90" y2="266.17" stroke="#8c8c8c" stroke-width="1.6" />
<path d="M424.90,242.67 C425.80,242.67 426.10,243.77 426.20,244.97 C426.70,245.57 427.30,246.77 427.30,249.97 C427.40,253.37 426.70,255.57 424.90,255.57 C423.10,255.57 422.40,253.37 422.50,249.97 C422.50,246.77 423.10,245.57 423.60,244.97 C423.70,243.77 424.00,242.67 424.90,242.67 Z" fill="#e06a24" stroke="none" stroke-width="0.8" />
<ellipse cx="424.90" cy="243.97" rx="1.20" ry="1.60" fill="#40a050"/>
<ellipse cx="424.90" cy="246.77" rx="2.20" ry="1.80" fill="#e8701e"/>
<ellipse cx="424.90" cy="250.37" rx="2.20" ry="1.20" fill="#f0f0f0"/>
<ellipse cx="424.90" cy="253.37" rx="2.20" ry="1.80" fill="#d86020"/>
<line x1="424.90" y1="255.37" x2="424.90" y2="264.57" stroke="#7a7a9c" stroke-width="1.3" />
<line x1="430.70" y1="254.67" x2="430.70" y2="266.17" stroke="#8c8c8c" stroke-width="1.6" />
<path d="M430.70,242.67 C431.60,242.67 431.90,243.77 432.00,244.97 C432.50,245.57 433.10,246.77 433.10,249.97 C433.20,253.37 432.50,255.57 430.70,255.57 C428.90,255.57 428.20,253.37 428.30,249.97 C428.30,246.77 428.90,245.57 429.40,244.97 C429.50,243.77 429.80,242.67 430.70,242.67 Z" fill="#3a70b0" stroke="none" stroke-width="0.8" />
<ellipse cx="430.70" cy="243.97" rx="1.20" ry="1.50" fill="#40a070"/>
<ellipse cx="430.70" cy="246.67" rx="2.00" ry="1.50" fill="#2a60b0"/>
<ellipse cx="430.70" cy="250.17" rx="2.30" ry="1.60" fill="#f0f0f0"/>
<ellipse cx="430.70" cy="253.67" rx="2.00" ry="1.60" fill="#60a040"/>
<line x1="430.70" y1="255.37" x2="430.70" y2="264.57" stroke="#7a7a9c" stroke-width="1.3" />
<line x1="436.50" y1="254.67" x2="436.50" y2="266.17" stroke="#8c8c8c" stroke-width="1.6" />
<path d="M436.50,242.67 C437.40,242.67 437.70,243.77 437.80,244.97 C438.30,245.57 438.90,246.77 438.90,249.97 C439.00,253.37 438.30,255.57 436.50,255.57 C434.70,255.57 434.00,253.37 434.10,249.97 C434.10,246.77 434.70,245.57 435.20,244.97 C435.30,243.77 435.60,242.67 436.50,242.67 Z" fill="#e06a24" stroke="none" stroke-width="0.8" />
<ellipse cx="436.50" cy="243.97" rx="1.20" ry="1.60" fill="#40a050"/>
<ellipse cx="436.50" cy="246.77" rx="2.20" ry="1.80" fill="#e8701e"/>
<ellipse cx="436.50" cy="250.37" rx="2.20" ry="1.20" fill="#f0f0f0"/>
<ellipse cx="436.50" cy="253.37" rx="2.20" ry="1.80" fill="#d86020"/>
<line x1="436.50" y1="255.37" x2="436.50" y2="264.57" stroke="#7a7a9c" stroke-width="1.3" />
<line x1="442.30" y1="254.67" x2="442.30" y2="266.17" stroke="#8c8c8c" stroke-width="1.6" />
<path d="M442.30,242.67 C443.20,242.67 443.50,243.77 443.60,244.97 C444.10,245.57 444.70,246.77 444.70,249.97 C444.80,253.37 444.10,255.57 442.30,255.57 C440.50,255.57 439.80,253.37 439.90,249.97 C439.90,246.77 440.50,245.57 441.00,244.97 C441.10,243.77 441.40,242.67 442.30,242.67 Z" fill="#e06a24" stroke="none" stroke-width="0.8" />
<ellipse cx="442.30" cy="243.97" rx="1.20" ry="1.60" fill="#40a050"/>
<ellipse cx="442.30" cy="246.77" rx="2.20" ry="1.80" fill="#e8701e"/>
<ellipse cx="442.30" cy="250.37" rx="2.20" ry="1.20" fill="#f0f0f0"/>
<ellipse cx="442.30" cy="253.37" rx="2.20" ry="1.80" fill="#40a060"/>
<line x1="442.30" y1="255.37" x2="442.30" y2="264.57" stroke="#7a7a9c" stroke-width="1.3" />
<rect x="448.20" y="241.77" width="31.70" height="24.80" fill="#2e2e2e" />
<rect x="448.20" y="255.17" width="31.70" height="11.40" fill="#525252" />
<line x1="452.10" y1="254.67" x2="452.10" y2="266.17" stroke="#8c8c8c" stroke-width="1.6" />
<path d="M452.10,242.67 C453.00,242.67 453.30,243.77 453.40,244.97 C453.90,245.57 454.50,246.77 454.50,249.97 C454.60,253.37 453.90,255.57 452.10,255.57 C450.30,255.57 449.60,253.37 449.70,249.97 C449.70,246.77 450.30,245.57 450.80,244.97 C450.90,243.77 451.20,242.67 452.10,242.67 Z" fill="#eeeeee" stroke="none" stroke-width="0.8" />
<line x1="457.90" y1="254.67" x2="457.90" y2="266.17" stroke="#8c8c8c" stroke-width="1.6" />
<path d="M457.90,242.67 C458.80,242.67 459.10,243.77 459.20,244.97 C459.70,245.57 460.30,246.77 460.30,249.97 C460.40,253.37 459.70,255.57 457.90,255.57 C456.10,255.57 455.40,253.37 455.50,249.97 C455.50,246.77 456.10,245.57 456.60,244.97 C456.70,243.77 457.00,242.67 457.90,242.67 Z" fill="#eeeeee" stroke="none" stroke-width="0.8" />
<line x1="463.70" y1="254.67" x2="463.70" y2="266.17" stroke="#8c8c8c" stroke-width="1.6" />
<path d="M463.70,242.67 C464.60,242.67 464.90,243.77 465.00,244.97 C465.50,245.57 466.10,246.77 466.10,249.97 C466.20,253.37 465.50,255.57 463.70,255.57 C461.90,255.57 461.20,253.37 461.30,249.97 C461.30,246.77 461.90,245.57 462.40,244.97 C462.50,243.77 462.80,242.67 463.70,242.67 Z" fill="#eeeeee" stroke="none" stroke-width="0.8" />
<line x1="469.50" y1="254.67" x2="469.50" y2="266.17" stroke="#8c8c8c" stroke-width="1.6" />
<path d="M469.50,242.67 C470.40,242.67 470.70,243.77 470.80,244.97 C471.30,245.57 471.90,246.77 471.90,249.97 C472.00,253.37 471.30,255.57 469.50,255.57 C467.70,255.57 467.00,253.37 467.10,249.97 C467.10,246.77 467.70,245.57 468.20,244.97 C468.30,243.77 468.60,242.67 469.50,242.67 Z" fill="#eeeeee" stroke="none" stroke-width="0.8" />
<line x1="475.30" y1="254.67" x2="475.30" y2="266.17" stroke="#8c8c8c" stroke-width="1.6" />
<path d="M475.30,242.67 C476.20,242.67 476.50,243.77 476.60,244.97 C477.10,245.57 477.70,246.77 477.70,249.97 C477.80,253.37 477.10,255.57 475.30,255.57 C473.50,255.57 472.80,253.37 472.90,249.97 C472.90,246.77 473.50,245.57 474.00,244.97 C474.10,243.77 474.40,242.67 475.30,242.67 Z" fill="#eeeeee" stroke="none" stroke-width="0.8" />
<rect x="349.20" y="268.48" width="31.70" height="24.80" fill="#2e2e2e" />
<rect x="349.20" y="281.88" width="31.70" height="11.40" fill="#525252" />
<line x1="353.10" y1="281.38" x2="353.10" y2="292.88" stroke="#8c8c8c" stroke-width="1.6" />
<path d="M353.10,269.38 C354.00,269.38 354.30,270.48 354.40,271.68 C354.90,272.28 355.50,273.48 355.50,276.68 C355.60,280.08 354.90,282.28 353.10,282.28 C351.30,282.28 350.60,280.08 350.70,276.68 C350.70,273.48 351.30,272.28 351.80,271.68 C351.90,270.48 352.20,269.38 353.10,269.38 Z" fill="#eeeeee" stroke="none" stroke-width="0.8" />
<ellipse cx="353.10" cy="271.18" rx="1.40" ry="1.60" fill="#2a8a9a"/>
<ellipse cx="353.10" cy="273.88" rx="2.20" ry="1.50" fill="#3060b0"/>
<ellipse cx="353.10" cy="277.38" rx="2.00" ry="1.00" fill="#f4f4f4"/>
<line x1="358.90" y1="281.38" x2="358.90" y2="292.88" stroke="#8c8c8c" stroke-width="1.6" />
<path d="M358.90,269.38 C359.80,269.38 360.10,270.48 360.20,271.68 C360.70,272.28 361.30,273.48 361.30,276.68 C361.40,280.08 360.70,282.28 358.90,282.28 C357.10,282.28 356.40,280.08 356.50,276.68 C356.50,273.48 357.10,272.28 357.60,271.68 C357.70,270.48 358.00,269.38 358.90,269.38 Z" fill="#eeeeee" stroke="none" stroke-width="0.8" />
<ellipse cx="358.90" cy="271.18" rx="1.40" ry="1.60" fill="#2a8a9a"/>
<ellipse cx="358.90" cy="273.88" rx="2.20" ry="1.50" fill="#2a9aa0"/>
<ellipse cx="358.90" cy="277.38" rx="2.00" ry="1.00" fill="#f4f4f4"/>
<line x1="364.70" y1="281.38" x2="364.70" y2="292.88" stroke="#8c8c8c" stroke-width="1.6" />
<path d="M364.70,269.38 C365.60,269.38 365.90,270.48 366.00,271.68 C366.50,272.28 367.10,273.48 367.10,276.68 C367.20,280.08 366.50,282.28 364.70,282.28 C362.90,282.28 362.20,280.08 362.30,276.68 C362.30,273.48 362.90,272.28 363.40,271.68 C363.50,270.48 363.80,269.38 364.70,269.38 Z" fill="#eeeeee" stroke="none" stroke-width="0.8" />
<ellipse cx="364.70" cy="271.18" rx="1.40" ry="1.60" fill="#2a8a9a"/>
<ellipse cx="364.70" cy="273.88" rx="2.20" ry="1.50" fill="#3060b0"/>
<ellipse cx="364.70" cy="277.38" rx="2.00" ry="1.00" fill="#f4f4f4"/>
<line x1="370.50" y1="281.38" x2="370.50" y2="292.88" stroke="#8c8c8c" stroke-width="1.6" />
<path d="M370.50,269.38 C371.40,269.38 371.70,270.48 371.80,271.68 C372.30,272.28 372.90,273.48 372.90,276.68 C373.00,280.08 372.30,282.28 370.50,282.28 C368.70,282.28 368.00,280.08 368.10,276.68 C368.10,273.48 368.70,272.28 369.20,271.68 C369.30,270.48 369.60,269.38 370.50,269.38 Z" fill="#eeeeee" stroke="none" stroke-width="0.8" />
<line x1="376.30" y1="281.38" x2="376.30" y2="292.88" stroke="#8c8c8c" stroke-width="1.6" />
<path d="M376.30,269.38 C377.20,269.38 377.50,270.48 377.60,271.68 C378.10,272.28 378.70,273.48 378.70,276.68 C378.80,280.08 378.10,282.28 376.30,282.28 C374.50,282.28 373.80,280.08 373.90,276.68 C373.90,273.48 374.50,272.28 375.00,271.68 C375.10,270.48 375.40,269.38 376.30,269.38 Z" fill="#eeeeee" stroke="none" stroke-width="0.8" />
<ellipse cx="376.30" cy="271.18" rx="1.40" ry="1.60" fill="#2a8a9a"/>
<ellipse cx="376.30" cy="273.88" rx="2.20" ry="1.50" fill="#3060b0"/>
<ellipse cx="376.30" cy="277.38" rx="2.00" ry="1.00" fill="#f4f4f4"/>
<rect x="415.20" y="268.48" width="31.70" height="24.80" fill="#2e2e2e" />
<rect x="415.20" y="281.88" width="31.70" height="11.40" fill="#525252" />
<line x1="419.10" y1="281.38" x2="419.10" y2="292.88" stroke="#8c8c8c" stroke-width="1.6" />
<path d="M419.10,269.38 C420.00,269.38 420.30,270.48 420.40,271.68 C420.90,272.28 421.50,273.48 421.50,276.68 C421.60,280.08 420.90,282.28 419.10,282.28 C417.30,282.28 416.60,280.08 416.70,276.68 C416.70,273.48 417.30,272.28 417.80,271.68 C417.90,270.48 418.20,269.38 419.10,269.38 Z" fill="#e8561e" stroke="none" stroke-width="0.8" />
<ellipse cx="419.10" cy="271.38" rx="1.60" ry="2.00" fill="#f06a20"/>
<ellipse cx="419.10" cy="274.88" rx="2.30" ry="1.70" fill="#e05020"/>
<ellipse cx="419.10" cy="278.38" rx="2.20" ry="1.60" fill="#40a050"/>
<ellipse cx="419.10" cy="280.88" rx="1.80" ry="1.20" fill="#e05a20"/>
<line x1="419.10" y1="281.88" x2="419.10" y2="287.98" stroke="#3a7a8e" stroke-width="1.7" />
<line x1="424.90" y1="281.38" x2="424.90" y2="292.88" stroke="#8c8c8c" stroke-width="1.6" />
<path d="M424.90,269.38 C425.80,269.38 426.10,270.48 426.20,271.68 C426.70,272.28 427.30,273.48 427.30,276.68 C427.40,280.08 426.70,282.28 424.90,282.28 C423.10,282.28 422.40,280.08 422.50,276.68 C422.50,273.48 423.10,272.28 423.60,271.68 C423.70,270.48 424.00,269.38 424.90,269.38 Z" fill="#e8561e" stroke="none" stroke-width="0.8" />
<ellipse cx="424.90" cy="271.38" rx="1.60" ry="2.00" fill="#f06a20"/>
<ellipse cx="424.90" cy="274.88" rx="2.30" ry="1.70" fill="#e05020"/>
<ellipse cx="424.90" cy="278.38" rx="2.20" ry="1.60" fill="#2a9aa0"/>
<ellipse cx="424.90" cy="280.88" rx="1.80" ry="1.20" fill="#e05a20"/>
<line x1="424.90" y1="281.88" x2="424.90" y2="287.98" stroke="#3a7a8e" stroke-width="1.7" />
<line x1="430.70" y1="281.38" x2="430.70" y2="292.88" stroke="#8c8c8c" stroke-width="1.6" />
<path d="M430.70,269.38 C431.60,269.38 431.90,270.48 432.00,271.68 C432.50,272.28 433.10,273.48 433.10,276.68 C433.20,280.08 432.50,282.28 430.70,282.28 C428.90,282.28 428.20,280.08 428.30,276.68 C428.30,273.48 428.90,272.28 429.40,271.68 C429.50,270.48 429.80,269.38 430.70,269.38 Z" fill="#e8561e" stroke="none" stroke-width="0.8" />
<ellipse cx="430.70" cy="271.38" rx="1.60" ry="2.00" fill="#f06a20"/>
<ellipse cx="430.70" cy="274.88" rx="2.30" ry="1.70" fill="#e05020"/>
<ellipse cx="430.70" cy="278.38" rx="2.20" ry="1.60" fill="#40a050"/>
<ellipse cx="430.70" cy="280.88" rx="1.80" ry="1.20" fill="#e05a20"/>
<line x1="430.70" y1="281.88" x2="430.70" y2="287.98" stroke="#3a7a8e" stroke-width="1.7" />
<line x1="436.50" y1="281.38" x2="436.50" y2="292.88" stroke="#8c8c8c" stroke-width="1.6" />
<path d="M436.50,269.38 C437.40,269.38 437.70,270.48 437.80,271.68 C438.30,272.28 438.90,273.48 438.90,276.68 C439.00,280.08 438.30,282.28 436.50,282.28 C434.70,282.28 434.00,280.08 434.10,276.68 C434.10,273.48 434.70,272.28 435.20,271.68 C435.30,270.48 435.60,269.38 436.50,269.38 Z" fill="#e8561e" stroke="none" stroke-width="0.8" />
<ellipse cx="436.50" cy="271.38" rx="1.60" ry="2.00" fill="#f06a20"/>
<ellipse cx="436.50" cy="274.88" rx="2.30" ry="1.70" fill="#e05020"/>
<ellipse cx="436.50" cy="278.38" rx="2.20" ry="1.60" fill="#2a9aa0"/>
<ellipse cx="436.50" cy="280.88" rx="1.80" ry="1.20" fill="#e05a20"/>
<line x1="436.50" y1="281.88" x2="436.50" y2="287.98" stroke="#3a7a8e" stroke-width="1.7" />
<line x1="442.30" y1="281.38" x2="442.30" y2="292.88" stroke="#8c8c8c" stroke-width="1.6" />
<path d="M442.30,269.38 C443.20,269.38 443.50,270.48 443.60,271.68 C444.10,272.28 444.70,273.48 444.70,276.68 C444.80,280.08 444.10,282.28 442.30,282.28 C440.50,282.28 439.80,280.08 439.90,276.68 C439.90,273.48 440.50,272.28 441.00,271.68 C441.10,270.48 441.40,269.38 442.30,269.38 Z" fill="#e8561e" stroke="none" stroke-width="0.8" />
<ellipse cx="442.30" cy="271.38" rx="1.60" ry="2.00" fill="#f06a20"/>
<ellipse cx="442.30" cy="274.88" rx="2.30" ry="1.70" fill="#e05020"/>
<ellipse cx="442.30" cy="278.38" rx="2.20" ry="1.60" fill="#40a050"/>
<ellipse cx="442.30" cy="280.88" rx="1.80" ry="1.20" fill="#e05a20"/>
<line x1="442.30" y1="281.88" x2="442.30" y2="287.98" stroke="#3a7a8e" stroke-width="1.7" />
<rect x="448.20" y="268.48" width="31.70" height="24.80" fill="#2e2e2e" />
<rect x="448.20" y="281.88" width="31.70" height="11.40" fill="#525252" />
<line x1="452.10" y1="281.38" x2="452.10" y2="292.88" stroke="#8c8c8c" stroke-width="1.6" />
<path d="M452.10,269.38 C453.00,269.38 453.30,270.48 453.40,271.68 C453.90,272.28 454.50,273.48 454.50,276.68 C454.60,280.08 453.90,282.28 452.10,282.28 C450.30,282.28 449.60,280.08 449.70,276.68 C449.70,273.48 450.30,272.28 450.80,271.68 C450.90,270.48 451.20,269.38 452.10,269.38 Z" fill="#eeeeee" stroke="none" stroke-width="0.8" />
<line x1="457.90" y1="281.38" x2="457.90" y2="292.88" stroke="#8c8c8c" stroke-width="1.6" />
<path d="M457.90,269.38 C458.80,269.38 459.10,270.48 459.20,271.68 C459.70,272.28 460.30,273.48 460.30,276.68 C460.40,280.08 459.70,282.28 457.90,282.28 C456.10,282.28 455.40,280.08 455.50,276.68 C455.50,273.48 456.10,272.28 456.60,271.68 C456.70,270.48 457.00,269.38 457.90,269.38 Z" fill="#eeeeee" stroke="none" stroke-width="0.8" />
<line x1="463.70" y1="281.38" x2="463.70" y2="292.88" stroke="#8c8c8c" stroke-width="1.6" />
<path d="M463.70,269.38 C464.60,269.38 464.90,270.48 465.00,271.68 C465.50,272.28 466.10,273.48 466.10,276.68 C466.20,280.08 465.50,282.28 463.70,282.28 C461.90,282.28 461.20,280.08 461.30,276.68 C461.30,273.48 461.90,272.28 462.40,271.68 C462.50,270.48 462.80,269.38 463.70,269.38 Z" fill="#eeeeee" stroke="none" stroke-width="0.8" />
<line x1="469.50" y1="281.38" x2="469.50" y2="292.88" stroke="#8c8c8c" stroke-width="1.6" />
<path d="M469.50,269.38 C470.40,269.38 470.70,270.48 470.80,271.68 C471.30,272.28 471.90,273.48 471.90,276.68 C472.00,280.08 471.30,282.28 469.50,282.28 C467.70,282.28 467.00,280.08 467.10,276.68 C467.10,273.48 467.70,272.28 468.20,271.68 C468.30,270.48 468.60,269.38 469.50,269.38 Z" fill="#eeeeee" stroke="none" stroke-width="0.8" />
<line x1="475.30" y1="281.38" x2="475.30" y2="292.88" stroke="#8c8c8c" stroke-width="1.6" />
<path d="M475.30,269.38 C476.20,269.38 476.50,270.48 476.60,271.68 C477.10,272.28 477.70,273.48 477.70,276.68 C477.80,280.08 477.10,282.28 475.30,282.28 C473.50,282.28 472.80,280.08 472.90,276.68 C472.90,273.48 473.50,272.28 474.00,271.68 C474.10,270.48 474.40,269.38 475.30,269.38 Z" fill="#eeeeee" stroke="none" stroke-width="0.8" />
<defs><linearGradient id="cb" x1="0" y1="0" x2="0" y2="1"><stop offset="0" stop-color="#b02818"/><stop offset="0.08" stop-color="#e05018"/><stop offset="0.15" stop-color="#f09020"/><stop offset="0.2" stop-color="#f0d020"/><stop offset="0.28" stop-color="#c8d020"/><stop offset="0.4" stop-color="#40a030"/><stop offset="0.6" stop-color="#20a080"/><stop offset="0.8" stop-color="#1a8ad0"/><stop offset="0.9" stop-color="#2050b0"/><stop offset="1" stop-color="#2a1a70"/></linearGradient></defs>
<rect x="486.20" y="80.20" width="4.50" height="183.80" fill="url(#cb)" />
<line x1="490.70" y1="81.00" x2="491.90" y2="81.00" stroke="#333" stroke-width="0.45" />
<line x1="490.70" y1="88.30" x2="491.90" y2="88.30" stroke="#333" stroke-width="0.45" />
<line x1="490.70" y1="95.60" x2="491.90" y2="95.60" stroke="#333" stroke-width="0.45" />
<line x1="490.70" y1="102.90" x2="491.90" y2="102.90" stroke="#333" stroke-width="0.45" />
<line x1="490.70" y1="110.20" x2="491.90" y2="110.20" stroke="#333" stroke-width="0.45" />
<line x1="490.70" y1="117.50" x2="491.90" y2="117.50" stroke="#333" stroke-width="0.45" />
<line x1="490.70" y1="124.80" x2="491.90" y2="124.80" stroke="#333" stroke-width="0.45" />
<line x1="490.70" y1="132.10" x2="491.90" y2="132.10" stroke="#333" stroke-width="0.45" />
<line x1="490.70" y1="139.40" x2="491.90" y2="139.40" stroke="#333" stroke-width="0.45" />
<line x1="490.70" y1="146.70" x2="491.90" y2="146.70" stroke="#333" stroke-width="0.45" />
<line x1="490.70" y1="154.00" x2="491.90" y2="154.00" stroke="#333" stroke-width="0.45" />
<line x1="490.70" y1="161.30" x2="491.90" y2="161.30" stroke="#333" stroke-width="0.45" />
<line x1="490.70" y1="168.60" x2="491.90" y2="168.60" stroke="#333" stroke-width="0.45" />
<line x1="490.70" y1="175.90" x2="491.90" y2="175.90" stroke="#333" stroke-width="0.45" />
<line x1="490.70" y1="183.20" x2="491.90" y2="183.20" stroke="#333" stroke-width="0.45" />
<line x1="490.70" y1="190.50" x2="491.90" y2="190.50" stroke="#333" stroke-width="0.45" />
<line x1="490.70" y1="197.80" x2="491.90" y2="197.80" stroke="#333" stroke-width="0.45" />
<line x1="490.70" y1="205.10" x2="491.90" y2="205.10" stroke="#333" stroke-width="0.45" />
<line x1="490.70" y1="212.40" x2="491.90" y2="212.40" stroke="#333" stroke-width="0.45" />
<line x1="490.70" y1="219.70" x2="491.90" y2="219.70" stroke="#333" stroke-width="0.45" />
<line x1="490.70" y1="227.00" x2="491.90" y2="227.00" stroke="#333" stroke-width="0.45" />
<line x1="490.70" y1="234.30" x2="491.90" y2="234.30" stroke="#333" stroke-width="0.45" />
<line x1="490.70" y1="241.60" x2="491.90" y2="241.60" stroke="#333" stroke-width="0.45" />
<line x1="490.70" y1="248.90" x2="491.90" y2="248.90" stroke="#333" stroke-width="0.45" />
<line x1="490.70" y1="256.20" x2="491.90" y2="256.20" stroke="#333" stroke-width="0.45" />
<line x1="490.70" y1="263.50" x2="491.90" y2="263.50" stroke="#333" stroke-width="0.45" />
<line x1="490.70" y1="81.00" x2="492.60" y2="81.00" stroke="#333" stroke-width="0.6" />
<text x="496.30" y="83.20" font-size="6.3" fill="#3b3b3b" stroke="#3b3b3b" stroke-width="0.08" text-anchor="start" font-weight="normal" >6.0</text>
<line x1="490.70" y1="117.50" x2="492.60" y2="117.50" stroke="#333" stroke-width="0.6" />
<text x="496.30" y="119.70" font-size="6.3" fill="#3b3b3b" stroke="#3b3b3b" stroke-width="0.08" text-anchor="start" font-weight="normal" >5.0</text>
<line x1="490.70" y1="154.00" x2="492.60" y2="154.00" stroke="#333" stroke-width="0.6" />
<text x="496.30" y="156.20" font-size="6.3" fill="#3b3b3b" stroke="#3b3b3b" stroke-width="0.08" text-anchor="start" font-weight="normal" >4.0</text>
<line x1="490.70" y1="190.50" x2="492.60" y2="190.50" stroke="#333" stroke-width="0.6" />
<text x="496.30" y="192.70" font-size="6.3" fill="#3b3b3b" stroke="#3b3b3b" stroke-width="0.08" text-anchor="start" font-weight="normal" >3.0</text>
<line x1="490.70" y1="227.00" x2="492.60" y2="227.00" stroke="#333" stroke-width="0.6" />
<text x="496.30" y="229.20" font-size="6.3" fill="#3b3b3b" stroke="#3b3b3b" stroke-width="0.08" text-anchor="start" font-weight="normal" >2.0</text>
<line x1="490.70" y1="263.50" x2="492.60" y2="263.50" stroke="#333" stroke-width="0.6" />
<text x="496.30" y="265.70" font-size="6.3" fill="#3b3b3b" stroke="#3b3b3b" stroke-width="0.08" text-anchor="start" font-weight="normal" >1.0</text>
<text x="506.80" y="172.60" font-size="5.4" fill="#3b3b3b" stroke="#3b3b3b" stroke-width="0.08" text-anchor="start" font-weight="normal" >×10<tspan font-size="3.6" dy="-2.2">7</tspan></text>
<text x="484.60" y="270.80" font-size="4.4" fill="#444" stroke="#444" stroke-width="0.08" text-anchor="start" font-weight="normal" textLength="17.9" lengthAdjust="spacingAndGlyphs" >Radiance</text>
<text x="484.60" y="276.60" font-size="4.4" fill="#444" stroke="#444" stroke-width="0.08" text-anchor="start" font-weight="normal" textLength="26.8" lengthAdjust="spacingAndGlyphs" >(p/sec/cm²/sr)</text>
<rect x="485.00" y="280.60" width="31.00" height="16.20" fill="none" stroke="#333" stroke-width="0.8"/>
<text x="487.20" y="285.50" font-size="4.4" fill="#444" stroke="#444" stroke-width="0.08" text-anchor="start" font-weight="normal" textLength="21.4" lengthAdjust="spacingAndGlyphs" >Color Scale</text>
<text x="487.20" y="290.00" font-size="4.4" fill="#444" stroke="#444" stroke-width="0.08" text-anchor="start" font-weight="normal" textLength="26.2" lengthAdjust="spacingAndGlyphs" >Min = 1.00e7</text>
<text x="487.20" y="295.40" font-size="4.4" fill="#444" stroke="#444" stroke-width="0.08" text-anchor="start" font-weight="normal" textLength="26.6" lengthAdjust="spacingAndGlyphs" >Max = 6.00e7</text>
<text x="1.00" y="125.60" font-size="12.2" fill="#111" text-anchor="start" font-weight="bold" textLength="7.9" lengthAdjust="spacingAndGlyphs" >C</text>
<line x1="46.80" y1="123.50" x2="55.90" y2="123.50" stroke="#f0a030" stroke-width="0.9" />
<circle cx="51.35" cy="123.50" r="1.40" fill="#f0a030"/>
<text x="59.50" y="126.00" font-size="6.6" fill="#3b3b3b" stroke="#3b3b3b" stroke-width="0.08" text-anchor="start" font-weight="normal" >Control</text>
<line x1="46.80" y1="132.50" x2="55.90" y2="132.50" stroke="#1f4e8c" stroke-width="0.9" />
<rect x="49.95" y="131.10" width="2.80" height="2.80" fill="#1f4e8c" />
<text x="59.50" y="135.00" font-size="6.6" fill="#3b3b3b" stroke="#3b3b3b" stroke-width="0.08" text-anchor="start" font-weight="normal" >CD19/CD3 HCT</text>
<line x1="46.80" y1="141.50" x2="55.90" y2="141.50" stroke="#3aaa3a" stroke-width="0.9" />
<path d="M49.67,142.76 L51.35,139.82 L53.03,142.76 Z" fill="#3aaa3a" stroke="none" stroke-width="0.8" />
<text x="59.50" y="144.00" font-size="6.6" fill="#3b3b3b" stroke="#3b3b3b" stroke-width="0.08" text-anchor="start" font-weight="normal" >CD22/CD3 LCT</text>
<line x1="46.80" y1="149.50" x2="55.90" y2="149.50" stroke="#5a2a70" stroke-width="0.9" />
<path d="M49.67,148.24 L51.35,151.18 L53.03,148.24 Z" fill="#5a2a70" stroke="none" stroke-width="0.8" />
<text x="59.50" y="152.00" font-size="6.6" fill="#3b3b3b" stroke="#3b3b3b" stroke-width="0.08" text-anchor="start" font-weight="normal" >CD19/CD3 HCT +</text>
<line x1="46.80" y1="166.50" x2="55.90" y2="166.50" stroke="#b0103a" stroke-width="0.9" />
<circle cx="51.35" cy="166.50" r="1.40" fill="#b0103a"/>
<text x="59.50" y="169.00" font-size="6.6" fill="#3b3b3b" stroke="#3b3b3b" stroke-width="0.08" text-anchor="start" font-weight="normal" >CD19/CD22/CD3 (CC)</text>
<text x="59.50" y="160.60" font-size="6.6" fill="#3b3b3b" stroke="#3b3b3b" stroke-width="0.08" text-anchor="start" font-weight="normal" >CD22/CD3 LCT</text>
<line x1="42.50" y1="176.50" x2="42.50" y2="236.00" stroke="#111" stroke-width="1.0" />
<line x1="42.00" y1="235.50" x2="128.50" y2="235.50" stroke="#111" stroke-width="1.0" />
<line x1="39.40" y1="235.60" x2="42.00" y2="235.60" stroke="#111" stroke-width="0.7" />
<text x="35.70" y="238.00" font-size="6.7" fill="#3b3b3b" stroke="#3b3b3b" stroke-width="0.08" text-anchor="end" font-weight="normal" >0</text>
<line x1="39.40" y1="224.25" x2="42.00" y2="224.25" stroke="#111" stroke-width="0.7" />
<text x="37.30" y="226.65" font-size="6.7" fill="#3b3b3b" stroke="#3b3b3b" stroke-width="0.08" text-anchor="end" font-weight="normal" >5×10<tspan font-size="4.2" dy="-2.5">6</tspan></text>
<line x1="39.40" y1="212.90" x2="42.00" y2="212.90" stroke="#111" stroke-width="0.7" />
<text x="37.30" y="215.30" font-size="6.7" fill="#3b3b3b" stroke="#3b3b3b" stroke-width="0.08" text-anchor="end" font-weight="normal" >1×10<tspan font-size="4.2" dy="-2.5">7</tspan></text>
<line x1="39.40" y1="201.55" x2="42.00" y2="201.55" stroke="#111" stroke-width="0.7" />
<text x="37.30" y="203.95" font-size="6.7" fill="#3b3b3b" stroke="#3b3b3b" stroke-width="0.08" text-anchor="end" font-weight="normal" >1.5×10<tspan font-size="4.2" dy="-2.5">7</tspan></text>
<line x1="39.40" y1="190.20" x2="42.00" y2="190.20" stroke="#111" stroke-width="0.7" />
<text x="37.30" y="192.60" font-size="6.7" fill="#3b3b3b" stroke="#3b3b3b" stroke-width="0.08" text-anchor="end" font-weight="normal" >2×10<tspan font-size="4.2" dy="-2.5">7</tspan></text>
<line x1="39.40" y1="178.85" x2="42.00" y2="178.85" stroke="#111" stroke-width="0.7" />
<text x="37.30" y="181.25" font-size="6.7" fill="#3b3b3b" stroke="#3b3b3b" stroke-width="0.08" text-anchor="end" font-weight="normal" >2.5×10<tspan font-size="4.2" dy="-2.5">7</tspan></text>
<line x1="40.80" y1="235.60" x2="42.00" y2="235.60" stroke="#222" stroke-width="0.5" />
<line x1="40.80" y1="229.92" x2="42.00" y2="229.92" stroke="#222" stroke-width="0.5" />
<line x1="40.80" y1="224.25" x2="42.00" y2="224.25" stroke="#222" stroke-width="0.5" />
<line x1="40.80" y1="218.57" x2="42.00" y2="218.57" stroke="#222" stroke-width="0.5" />
<line x1="40.80" y1="212.90" x2="42.00" y2="212.90" stroke="#222" stroke-width="0.5" />
<line x1="40.80" y1="207.22" x2="42.00" y2="207.22" stroke="#222" stroke-width="0.5" />
<line x1="40.80" y1="201.55" x2="42.00" y2="201.55" stroke="#222" stroke-width="0.5" />
<line x1="40.80" y1="195.88" x2="42.00" y2="195.88" stroke="#222" stroke-width="0.5" />
<line x1="40.80" y1="190.20" x2="42.00" y2="190.20" stroke="#222" stroke-width="0.5" />
<line x1="40.80" y1="184.53" x2="42.00" y2="184.53" stroke="#222" stroke-width="0.5" />
<line x1="40.80" y1="178.85" x2="42.00" y2="178.85" stroke="#222" stroke-width="0.5" />
<line x1="42.90" y1="235.60" x2="42.90" y2="237.60" stroke="#222" stroke-width="0.7" />
<text x="42.90" y="247.20" font-size="6.2" fill="#3b3b3b" stroke="#3b3b3b" stroke-width="0.08" text-anchor="middle" font-weight="normal" >4</text>
<line x1="56.86" y1="235.60" x2="56.86" y2="237.60" stroke="#222" stroke-width="0.7" />
<text x="56.86" y="247.20" font-size="6.2" fill="#3b3b3b" stroke="#3b3b3b" stroke-width="0.08" text-anchor="middle" font-weight="normal" >8</text>
<line x1="70.82" y1="235.60" x2="70.82" y2="237.60" stroke="#222" stroke-width="0.7" />
<text x="70.82" y="247.20" font-size="6.2" fill="#3b3b3b" stroke="#3b3b3b" stroke-width="0.08" text-anchor="middle" font-weight="normal" >12</text>
<line x1="84.78" y1="235.60" x2="84.78" y2="237.60" stroke="#222" stroke-width="0.7" />
<text x="84.78" y="247.20" font-size="6.2" fill="#3b3b3b" stroke="#3b3b3b" stroke-width="0.08" text-anchor="middle" font-weight="normal" >16</text>
<line x1="98.74" y1="235.60" x2="98.74" y2="237.60" stroke="#222" stroke-width="0.7" />
<text x="98.74" y="247.20" font-size="6.2" fill="#3b3b3b" stroke="#3b3b3b" stroke-width="0.08" text-anchor="middle" font-weight="normal" >20</text>
<line x1="112.70" y1="235.60" x2="112.70" y2="237.60" stroke="#222" stroke-width="0.7" />
<text x="112.70" y="247.20" font-size="6.2" fill="#3b3b3b" stroke="#3b3b3b" stroke-width="0.08" text-anchor="middle" font-weight="normal" >24</text>
<line x1="126.66" y1="235.60" x2="126.66" y2="237.60" stroke="#222" stroke-width="0.7" />
<text x="126.66" y="247.20" font-size="6.2" fill="#3b3b3b" stroke="#3b3b3b" stroke-width="0.08" text-anchor="middle" font-weight="normal" >28</text>
<line x1="42.90" y1="235.60" x2="42.90" y2="236.80" stroke="#222" stroke-width="0.5" />
<line x1="49.88" y1="235.60" x2="49.88" y2="236.80" stroke="#222" stroke-width="0.5" />
<line x1="56.86" y1="235.60" x2="56.86" y2="236.80" stroke="#222" stroke-width="0.5" />
<line x1="63.84" y1="235.60" x2="63.84" y2="236.80" stroke="#222" stroke-width="0.5" />
<line x1="70.82" y1="235.60" x2="70.82" y2="236.80" stroke="#222" stroke-width="0.5" />
<line x1="77.80" y1="235.60" x2="77.80" y2="236.80" stroke="#222" stroke-width="0.5" />
<line x1="84.78" y1="235.60" x2="84.78" y2="236.80" stroke="#222" stroke-width="0.5" />
<line x1="91.76" y1="235.60" x2="91.76" y2="236.80" stroke="#222" stroke-width="0.5" />
<line x1="98.74" y1="235.60" x2="98.74" y2="236.80" stroke="#222" stroke-width="0.5" />
<line x1="105.72" y1="235.60" x2="105.72" y2="236.80" stroke="#222" stroke-width="0.5" />
<line x1="112.70" y1="235.60" x2="112.70" y2="236.80" stroke="#222" stroke-width="0.5" />
<line x1="119.68" y1="235.60" x2="119.68" y2="236.80" stroke="#222" stroke-width="0.5" />
<line x1="126.66" y1="235.60" x2="126.66" y2="236.80" stroke="#222" stroke-width="0.5" />
<text x="87.00" y="258.20" font-size="6.4" fill="#3b3b3b" stroke="#3b3b3b" stroke-width="0.08" text-anchor="middle" font-weight="normal" textLength="12.2" lengthAdjust="spacingAndGlyphs" >Days</text>
<text x="0" y="0" font-size="5.7" fill="#444" stroke="#444" stroke-width="0.08" text-anchor="middle" transform="translate(7.3,205.5) rotate(-90)">Avg radiance [p/s/cm<tspan font-size="3.8" dy="-2.3">2</tspan><tspan dy="2.3">/sr]</tspan></text>
<path d="M46.39,235.60 L53.37,234.47 L63.84,219.03 L74.31,203.59 L84.78,193.83 L95.25,186.34" fill="none" stroke="#f0a030" stroke-width="1.0" />
<circle cx="46.39" cy="235.60" r="1.55" fill="#f0a030"/>
<circle cx="53.37" cy="234.47" r="1.55" fill="#f0a030"/>
<line x1="63.84" y1="220.39" x2="63.84" y2="217.67" stroke="#f0a030" stroke-width="0.8" />
<line x1="62.44" y1="217.67" x2="65.24" y2="217.67" stroke="#f0a030" stroke-width="0.8" />
<line x1="62.44" y1="220.39" x2="65.24" y2="220.39" stroke="#f0a030" stroke-width="0.8" />
<circle cx="63.84" cy="219.03" r="1.55" fill="#f0a030"/>
<line x1="74.31" y1="206.32" x2="74.31" y2="200.87" stroke="#f0a030" stroke-width="0.8" />
<line x1="72.91" y1="200.87" x2="75.71" y2="200.87" stroke="#f0a030" stroke-width="0.8" />
<line x1="72.91" y1="206.32" x2="75.71" y2="206.32" stroke="#f0a030" stroke-width="0.8" />
<circle cx="74.31" cy="203.59" r="1.55" fill="#f0a030"/>
<line x1="84.78" y1="195.19" x2="84.78" y2="192.47" stroke="#f0a030" stroke-width="0.8" />
<line x1="83.38" y1="192.47" x2="86.18" y2="192.47" stroke="#f0a030" stroke-width="0.8" />
<line x1="83.38" y1="195.19" x2="86.18" y2="195.19" stroke="#f0a030" stroke-width="0.8" />
<circle cx="84.78" cy="193.83" r="1.55" fill="#f0a030"/>
<line x1="95.25" y1="187.25" x2="95.25" y2="185.43" stroke="#f0a030" stroke-width="0.8" />
<line x1="93.85" y1="185.43" x2="96.65" y2="185.43" stroke="#f0a030" stroke-width="0.8" />
<line x1="93.85" y1="187.25" x2="96.65" y2="187.25" stroke="#f0a030" stroke-width="0.8" />
<circle cx="95.25" cy="186.34" r="1.55" fill="#f0a030"/>
<path d="M46.39,235.60 L53.37,235.60 L63.84,232.88 L74.31,215.85 L84.78,205.86 L95.25,190.43 L105.72,180.21" fill="none" stroke="#3aaa3a" stroke-width="1.0" />
<path d="M44.53,237.00 L46.39,233.74 L48.25,237.00 Z" fill="#3aaa3a" stroke="none" stroke-width="0.8" />
<path d="M51.51,237.00 L53.37,233.74 L55.23,237.00 Z" fill="#3aaa3a" stroke="none" stroke-width="0.8" />
<path d="M61.98,234.27 L63.84,231.02 L65.70,234.27 Z" fill="#3aaa3a" stroke="none" stroke-width="0.8" />
<line x1="74.31" y1="218.12" x2="74.31" y2="213.58" stroke="#3aaa3a" stroke-width="0.8" />
<line x1="72.91" y1="213.58" x2="75.71" y2="213.58" stroke="#3aaa3a" stroke-width="0.8" />
<line x1="72.91" y1="218.12" x2="75.71" y2="218.12" stroke="#3aaa3a" stroke-width="0.8" />
<path d="M72.45,217.25 L74.31,213.99 L76.17,217.25 Z" fill="#3aaa3a" stroke="none" stroke-width="0.8" />
<line x1="84.78" y1="207.00" x2="84.78" y2="204.73" stroke="#3aaa3a" stroke-width="0.8" />
<line x1="83.38" y1="204.73" x2="86.18" y2="204.73" stroke="#3aaa3a" stroke-width="0.8" />
<line x1="83.38" y1="207.00" x2="86.18" y2="207.00" stroke="#3aaa3a" stroke-width="0.8" />
<path d="M82.92,207.26 L84.78,204.00 L86.64,207.26 Z" fill="#3aaa3a" stroke="none" stroke-width="0.8" />
<line x1="95.25" y1="191.56" x2="95.25" y2="189.29" stroke="#3aaa3a" stroke-width="0.8" />
<line x1="93.85" y1="189.29" x2="96.65" y2="189.29" stroke="#3aaa3a" stroke-width="0.8" />
<line x1="93.85" y1="191.56" x2="96.65" y2="191.56" stroke="#3aaa3a" stroke-width="0.8" />
<path d="M93.39,191.82 L95.25,188.57 L97.11,191.82 Z" fill="#3aaa3a" stroke="none" stroke-width="0.8" />
<line x1="105.72" y1="180.89" x2="105.72" y2="179.53" stroke="#3aaa3a" stroke-width="0.8" />
<line x1="104.32" y1="179.53" x2="107.12" y2="179.53" stroke="#3aaa3a" stroke-width="0.8" />
<line x1="104.32" y1="180.89" x2="107.12" y2="180.89" stroke="#3aaa3a" stroke-width="0.8" />
<path d="M103.86,181.61 L105.72,178.35 L107.58,181.61 Z" fill="#3aaa3a" stroke="none" stroke-width="0.8" />
<path d="M46.39,235.60 L53.37,235.60 L63.84,235.60 L74.31,235.60 L84.78,235.60 L95.25,234.92 L105.72,230.38 L116.19,212.90 L126.66,200.64" fill="none" stroke="#5a2a70" stroke-width="1.0" />
<path d="M44.53,234.20 L46.39,237.46 L48.25,234.20 Z" fill="#5a2a70" stroke="none" stroke-width="0.8" />
<path d="M51.51,234.20 L53.37,237.46 L55.23,234.20 Z" fill="#5a2a70" stroke="none" stroke-width="0.8" />
<path d="M61.98,234.20 L63.84,237.46 L65.70,234.20 Z" fill="#5a2a70" stroke="none" stroke-width="0.8" />
<path d="M72.45,234.20 L74.31,237.46 L76.17,234.20 Z" fill="#5a2a70" stroke="none" stroke-width="0.8" />
<path d="M82.92,234.20 L84.78,237.46 L86.64,234.20 Z" fill="#5a2a70" stroke="none" stroke-width="0.8" />
<path d="M93.39,233.52 L95.25,236.78 L97.11,233.52 Z" fill="#5a2a70" stroke="none" stroke-width="0.8" />
<line x1="105.72" y1="231.06" x2="105.72" y2="229.70" stroke="#5a2a70" stroke-width="0.8" />
<line x1="104.32" y1="229.70" x2="107.12" y2="229.70" stroke="#5a2a70" stroke-width="0.8" />
<line x1="104.32" y1="231.06" x2="107.12" y2="231.06" stroke="#5a2a70" stroke-width="0.8" />
<path d="M103.86,228.98 L105.72,232.24 L107.58,228.98 Z" fill="#5a2a70" stroke="none" stroke-width="0.8" />
<line x1="116.19" y1="215.17" x2="116.19" y2="210.63" stroke="#5a2a70" stroke-width="0.8" />
<line x1="114.79" y1="210.63" x2="117.59" y2="210.63" stroke="#5a2a70" stroke-width="0.8" />
<line x1="114.79" y1="215.17" x2="117.59" y2="215.17" stroke="#5a2a70" stroke-width="0.8" />
<path d="M114.33,211.50 L116.19,214.76 L118.05,211.50 Z" fill="#5a2a70" stroke="none" stroke-width="0.8" />
<line x1="126.66" y1="202.91" x2="126.66" y2="198.37" stroke="#5a2a70" stroke-width="0.8" />
<line x1="125.26" y1="198.37" x2="128.06" y2="198.37" stroke="#5a2a70" stroke-width="0.8" />
<line x1="125.26" y1="202.91" x2="128.06" y2="202.91" stroke="#5a2a70" stroke-width="0.8" />
<path d="M124.80,199.25 L126.66,202.50 L128.52,199.25 Z" fill="#5a2a70" stroke="none" stroke-width="0.8" />
<path d="M46.39,235.60 L53.37,235.60 L63.84,235.60 L74.31,235.60 L84.78,235.60 L95.25,235.60 L105.72,235.60 L116.19,234.47 L126.66,225.61" fill="none" stroke="#1f4e8c" stroke-width="1.0" />
<rect x="44.84" y="234.05" width="3.10" height="3.10" fill="#1f4e8c" />
<rect x="51.82" y="234.05" width="3.10" height="3.10" fill="#1f4e8c" />
<rect x="62.29" y="234.05" width="3.10" height="3.10" fill="#1f4e8c" />
<rect x="72.76" y="234.05" width="3.10" height="3.10" fill="#1f4e8c" />
<rect x="83.23" y="234.05" width="3.10" height="3.10" fill="#1f4e8c" />
<rect x="93.70" y="234.05" width="3.10" height="3.10" fill="#1f4e8c" />
<rect x="104.17" y="234.05" width="3.10" height="3.10" fill="#1f4e8c" />
<rect x="114.64" y="232.91" width="3.10" height="3.10" fill="#1f4e8c" />
<rect x="125.11" y="224.06" width="3.10" height="3.10" fill="#1f4e8c" />
<path d="M46.39,235.60 L53.37,235.60 L63.84,235.60 L74.31,235.60 L84.78,235.60 L95.25,235.60 L105.72,235.60 L116.19,235.60 L126.66,235.60" fill="none" stroke="#b0103a" stroke-width="1.0" />
<circle cx="46.39" cy="235.60" r="1.55" fill="#b0103a"/>
<circle cx="53.37" cy="235.60" r="1.55" fill="#b0103a"/>
<circle cx="63.84" cy="235.60" r="1.55" fill="#b0103a"/>
<circle cx="74.31" cy="235.60" r="1.55" fill="#b0103a"/>
<circle cx="84.78" cy="235.60" r="1.55" fill="#b0103a"/>
<circle cx="95.25" cy="235.60" r="1.55" fill="#b0103a"/>
<circle cx="105.72" cy="235.60" r="1.55" fill="#b0103a"/>
<circle cx="116.19" cy="235.60" r="1.55" fill="#b0103a"/>
<circle cx="126.66" cy="235.60" r="1.55" fill="#b0103a"/>
<path d="M132.6,224.8 L135.0,224.8 L135.0,234.9 L132.6,234.9" fill="none" stroke="#222" stroke-width="0.85" />
<text x="138.40" y="232.30" font-size="6.2" fill="#222" text-anchor="start" font-weight="bold" letter-spacing="0.5">***</text>
<text x="160.40" y="125.30" font-size="12.2" fill="#111" text-anchor="start" font-weight="bold" textLength="8.0" lengthAdjust="spacingAndGlyphs" >D</text>
<line x1="183.50" y1="123.50" x2="192.50" y2="123.50" stroke="#f2c060" stroke-width="1.0" />
<text x="196.00" y="126.00" font-size="6.6" fill="#3b3b3b" stroke="#3b3b3b" stroke-width="0.08" text-anchor="start" font-weight="normal" >Control</text>
<line x1="183.50" y1="132.50" x2="192.50" y2="132.50" stroke="#4a6fa8" stroke-width="1.0" />
<text x="196.00" y="135.00" font-size="6.6" fill="#3b3b3b" stroke="#3b3b3b" stroke-width="0.08" text-anchor="start" font-weight="normal" >CD19/CD3 HCT</text>
<line x1="183.50" y1="141.50" x2="192.50" y2="141.50" stroke="#5ab55a" stroke-width="1.0" />
<text x="196.00" y="144.00" font-size="6.6" fill="#3b3b3b" stroke="#3b3b3b" stroke-width="0.08" text-anchor="start" font-weight="normal" >CD22/CD3 LCT</text>
<line x1="183.50" y1="149.50" x2="192.50" y2="149.50" stroke="#6a3a80" stroke-width="1.0" />
<text x="196.00" y="152.00" font-size="6.6" fill="#3b3b3b" stroke="#3b3b3b" stroke-width="0.08" text-anchor="start" font-weight="normal" >CD19/CD3 HCT +</text>
<line x1="183.50" y1="166.50" x2="192.50" y2="166.50" stroke="#c81e4a" stroke-width="1.0" />
<text x="196.00" y="169.00" font-size="6.6" fill="#3b3b3b" stroke="#3b3b3b" stroke-width="0.08" text-anchor="start" font-weight="normal" >CD19/CD22/CD3 (CC)</text>
<text x="196.00" y="160.00" font-size="6.6" fill="#3b3b3b" stroke="#3b3b3b" stroke-width="0.08" text-anchor="start" font-weight="normal" >CD22/CD3 LCT</text>
<line x1="183.50" y1="177.50" x2="183.50" y2="235.00" stroke="#111" stroke-width="1.0" />
<line x1="183.00" y1="234.50" x2="270.50" y2="234.50" stroke="#111" stroke-width="1.0" />
<line x1="181.70" y1="235.00" x2="183.70" y2="235.00" stroke="#222" stroke-width="0.7" />
<text x="178.10" y="237.20" font-size="6.2" fill="#3b3b3b" stroke="#3b3b3b" stroke-width="0.08" text-anchor="end" font-weight="normal" >0</text>
<line x1="181.70" y1="221.18" x2="183.70" y2="221.18" stroke="#222" stroke-width="0.7" />
<text x="178.10" y="223.38" font-size="6.2" fill="#3b3b3b" stroke="#3b3b3b" stroke-width="0.08" text-anchor="end" font-weight="normal" >25</text>
<line x1="181.70" y1="207.35" x2="183.70" y2="207.35" stroke="#222" stroke-width="0.7" />
<text x="178.10" y="209.55" font-size="6.2" fill="#3b3b3b" stroke="#3b3b3b" stroke-width="0.08" text-anchor="end" font-weight="normal" >50</text>
<line x1="181.70" y1="193.53" x2="183.70" y2="193.53" stroke="#222" stroke-width="0.7" />
<text x="178.10" y="195.72" font-size="6.2" fill="#3b3b3b" stroke="#3b3b3b" stroke-width="0.08" text-anchor="end" font-weight="normal" >75</text>
<line x1="181.70" y1="179.70" x2="183.70" y2="179.70" stroke="#222" stroke-width="0.7" />
<text x="178.10" y="181.90" font-size="6.2" fill="#3b3b3b" stroke="#3b3b3b" stroke-width="0.08" text-anchor="end" font-weight="normal" >100</text>
<line x1="182.50" y1="235.00" x2="183.70" y2="235.00" stroke="#222" stroke-width="0.5" />
<line x1="182.50" y1="228.09" x2="183.70" y2="228.09" stroke="#222" stroke-width="0.5" />
<line x1="182.50" y1="221.18" x2="183.70" y2="221.18" stroke="#222" stroke-width="0.5" />
<line x1="182.50" y1="214.26" x2="183.70" y2="214.26" stroke="#222" stroke-width="0.5" />
<line x1="182.50" y1="207.35" x2="183.70" y2="207.35" stroke="#222" stroke-width="0.5" />
<line x1="182.50" y1="200.44" x2="183.70" y2="200.44" stroke="#222" stroke-width="0.5" />
<line x1="182.50" y1="193.53" x2="183.70" y2="193.53" stroke="#222" stroke-width="0.5" />
<line x1="182.50" y1="186.61" x2="183.70" y2="186.61" stroke="#222" stroke-width="0.5" />
<line x1="182.50" y1="179.70" x2="183.70" y2="179.70" stroke="#222" stroke-width="0.5" />
<line x1="183.70" y1="235.00" x2="183.70" y2="237.00" stroke="#222" stroke-width="0.7" />
<text x="183.70" y="246.60" font-size="6.2" fill="#3b3b3b" stroke="#3b3b3b" stroke-width="0.08" text-anchor="middle" font-weight="normal" >0</text>
<line x1="195.74" y1="235.00" x2="195.74" y2="237.00" stroke="#222" stroke-width="0.7" />
<text x="195.74" y="246.60" font-size="6.2" fill="#3b3b3b" stroke="#3b3b3b" stroke-width="0.08" text-anchor="middle" font-weight="normal" >9</text>
<line x1="207.78" y1="235.00" x2="207.78" y2="237.00" stroke="#222" stroke-width="0.7" />
<text x="207.78" y="246.60" font-size="6.2" fill="#3b3b3b" stroke="#3b3b3b" stroke-width="0.08" text-anchor="middle" font-weight="normal" >18</text>
<line x1="219.83" y1="235.00" x2="219.83" y2="237.00" stroke="#222" stroke-width="0.7" />
<text x="219.83" y="246.60" font-size="6.2" fill="#3b3b3b" stroke="#3b3b3b" stroke-width="0.08" text-anchor="middle" font-weight="normal" >27</text>
<line x1="231.87" y1="235.00" x2="231.87" y2="237.00" stroke="#222" stroke-width="0.7" />
<text x="231.87" y="246.60" font-size="6.2" fill="#3b3b3b" stroke="#3b3b3b" stroke-width="0.08" text-anchor="middle" font-weight="normal" >36</text>
<line x1="243.91" y1="235.00" x2="243.91" y2="237.00" stroke="#222" stroke-width="0.7" />
<text x="243.91" y="246.60" font-size="6.2" fill="#3b3b3b" stroke="#3b3b3b" stroke-width="0.08" text-anchor="middle" font-weight="normal" >45</text>
<line x1="255.95" y1="235.00" x2="255.95" y2="237.00" stroke="#222" stroke-width="0.7" />
<text x="255.95" y="246.60" font-size="6.2" fill="#3b3b3b" stroke="#3b3b3b" stroke-width="0.08" text-anchor="middle" font-weight="normal" >54</text>
<line x1="267.99" y1="235.00" x2="267.99" y2="237.00" stroke="#222" stroke-width="0.7" />
<text x="267.99" y="246.60" font-size="6.2" fill="#3b3b3b" stroke="#3b3b3b" stroke-width="0.08" text-anchor="middle" font-weight="normal" >63</text>
<line x1="183.70" y1="235.00" x2="183.70" y2="236.20" stroke="#222" stroke-width="0.5" />
<line x1="187.71" y1="235.00" x2="187.71" y2="236.20" stroke="#222" stroke-width="0.5" />
<line x1="191.73" y1="235.00" x2="191.73" y2="236.20" stroke="#222" stroke-width="0.5" />
<line x1="195.74" y1="235.00" x2="195.74" y2="236.20" stroke="#222" stroke-width="0.5" />
<line x1="199.76" y1="235.00" x2="199.76" y2="236.20" stroke="#222" stroke-width="0.5" />
<line x1="203.77" y1="235.00" x2="203.77" y2="236.20" stroke="#222" stroke-width="0.5" />
<line x1="207.78" y1="235.00" x2="207.78" y2="236.20" stroke="#222" stroke-width="0.5" />
<line x1="211.80" y1="235.00" x2="211.80" y2="236.20" stroke="#222" stroke-width="0.5" />
<line x1="215.81" y1="235.00" x2="215.81" y2="236.20" stroke="#222" stroke-width="0.5" />
<line x1="219.83" y1="235.00" x2="219.83" y2="236.20" stroke="#222" stroke-width="0.5" />
<line x1="223.84" y1="235.00" x2="223.84" y2="236.20" stroke="#222" stroke-width="0.5" />
<line x1="227.85" y1="235.00" x2="227.85" y2="236.20" stroke="#222" stroke-width="0.5" />
<line x1="231.87" y1="235.00" x2="231.87" y2="236.20" stroke="#222" stroke-width="0.5" />
<line x1="235.88" y1="235.00" x2="235.88" y2="236.20" stroke="#222" stroke-width="0.5" />
<line x1="239.90" y1="235.00" x2="239.90" y2="236.20" stroke="#222" stroke-width="0.5" />
<line x1="243.91" y1="235.00" x2="243.91" y2="236.20" stroke="#222" stroke-width="0.5" />
<line x1="247.92" y1="235.00" x2="247.92" y2="236.20" stroke="#222" stroke-width="0.5" />
<line x1="251.94" y1="235.00" x2="251.94" y2="236.20" stroke="#222" stroke-width="0.5" />
<line x1="255.95" y1="235.00" x2="255.95" y2="236.20" stroke="#222" stroke-width="0.5" />
<line x1="259.97" y1="235.00" x2="259.97" y2="236.20" stroke="#222" stroke-width="0.5" />
<line x1="263.98" y1="235.00" x2="263.98" y2="236.20" stroke="#222" stroke-width="0.5" />
<line x1="267.99" y1="235.00" x2="267.99" y2="236.20" stroke="#222" stroke-width="0.5" />
<text x="227.80" y="257.30" font-size="6.4" fill="#3b3b3b" stroke="#3b3b3b" stroke-width="0.08" text-anchor="middle" font-weight="normal" textLength="12.6" lengthAdjust="spacingAndGlyphs" >Days</text>
<text x="0" y="0" font-size="6.2" fill="#3b3b3b" stroke="#3b3b3b" stroke-width="0.08" text-anchor="middle" transform="translate(161.6,206.0) rotate(-90)">% survival</text>
<path d="M183.70,180.00 L211.90,180.00 L211.90,212.30 L213.40,212.30 L213.40,235.00" fill="none" stroke="#f2c060" stroke-width="0.9" />
<path d="M183.70,180.00 L213.60,180.00 L213.60,188.90 L215.60,188.90 L215.60,223.00 L217.50,223.00 L217.50,235.00" fill="none" stroke="#5ab55a" stroke-width="0.9" />
<path d="M183.70,179.40 L229.10,179.40 L229.10,206.70 L230.60,206.70 L230.60,220.40 L232.10,220.40 L232.10,235.00" fill="none" stroke="#6a3a80" stroke-width="0.9" />
<path d="M183.70,179.40 L237.20,179.40 L237.20,189.30 L238.50,189.30 L238.50,200.50 L240.40,200.50 L240.40,211.40 L242.80,211.40 L242.80,222.30 L245.30,222.30 L245.30,235.00" fill="none" stroke="#4a6fa8" stroke-width="0.9" />
<path d="M183.70,178.80 L247.50,178.80 L247.50,188.90 L255.40,188.90 L255.40,200.10 L256.90,200.10 L256.90,222.30 L265.30,222.30 L265.30,235.00" fill="none" stroke="#c81e4a" stroke-width="1.0" />
<text x="268.80" y="232.80" font-size="6.2" fill="#222" text-anchor="start" font-weight="bold" letter-spacing="0.5">***</text>
<text x="1.80" y="290.90" font-size="12.2" fill="#111" text-anchor="start" font-weight="bold" textLength="7.7" lengthAdjust="spacingAndGlyphs" >E</text>
<line x1="31.50" y1="304.20" x2="31.50" y2="360.00" stroke="#111" stroke-width="1.0" />
<line x1="31.00" y1="359.50" x2="75.40" y2="359.50" stroke="#111" stroke-width="1.0" />
<line x1="53.60" y1="359.30" x2="53.60" y2="361.90" stroke="#111" stroke-width="0.7" />
<line x1="28.30" y1="359.30" x2="31.30" y2="359.30" stroke="#111" stroke-width="0.7" />
<text x="25.30" y="361.50" font-size="6.2" fill="#3b3b3b" stroke="#3b3b3b" stroke-width="0.08" text-anchor="end" font-weight="normal" >0</text>
<line x1="28.30" y1="342.17" x2="31.30" y2="342.17" stroke="#111" stroke-width="0.7" />
<text x="25.30" y="344.37" font-size="6.2" fill="#3b3b3b" stroke="#3b3b3b" stroke-width="0.08" text-anchor="end" font-weight="normal" >60</text>
<line x1="28.30" y1="325.03" x2="31.30" y2="325.03" stroke="#111" stroke-width="0.7" />
<text x="25.30" y="327.23" font-size="6.2" fill="#3b3b3b" stroke="#3b3b3b" stroke-width="0.08" text-anchor="end" font-weight="normal" >120</text>
<line x1="28.30" y1="307.90" x2="31.30" y2="307.90" stroke="#111" stroke-width="0.7" />
<text x="25.30" y="310.10" font-size="6.2" fill="#3b3b3b" stroke="#3b3b3b" stroke-width="0.08" text-anchor="end" font-weight="normal" >180</text>
<line x1="30.00" y1="359.30" x2="31.30" y2="359.30" stroke="#111" stroke-width="0.5" />
<line x1="30.00" y1="356.44" x2="31.30" y2="356.44" stroke="#111" stroke-width="0.5" />
<line x1="30.00" y1="353.59" x2="31.30" y2="353.59" stroke="#111" stroke-width="0.5" />
<line x1="30.00" y1="350.73" x2="31.30" y2="350.73" stroke="#111" stroke-width="0.5" />
<line x1="30.00" y1="347.88" x2="31.30" y2="347.88" stroke="#111" stroke-width="0.5" />
<line x1="30.00" y1="345.02" x2="31.30" y2="345.02" stroke="#111" stroke-width="0.5" />
<line x1="30.00" y1="342.17" x2="31.30" y2="342.17" stroke="#111" stroke-width="0.5" />
<line x1="30.00" y1="339.31" x2="31.30" y2="339.31" stroke="#111" stroke-width="0.5" />
<line x1="30.00" y1="336.46" x2="31.30" y2="336.46" stroke="#111" stroke-width="0.5" />
<line x1="30.00" y1="333.60" x2="31.30" y2="333.60" stroke="#111" stroke-width="0.5" />
<line x1="30.00" y1="330.74" x2="31.30" y2="330.74" stroke="#111" stroke-width="0.5" />
<line x1="30.00" y1="327.89" x2="31.30" y2="327.89" stroke="#111" stroke-width="0.5" />
<line x1="30.00" y1="325.03" x2="31.30" y2="325.03" stroke="#111" stroke-width="0.5" />
<line x1="30.00" y1="322.18" x2="31.30" y2="322.18" stroke="#111" stroke-width="0.5" />
<line x1="30.00" y1="319.32" x2="31.30" y2="319.32" stroke="#111" stroke-width="0.5" />
<line x1="30.00" y1="316.47" x2="31.30" y2="316.47" stroke="#111" stroke-width="0.5" />
<line x1="30.00" y1="313.61" x2="31.30" y2="313.61" stroke="#111" stroke-width="0.5" />
<line x1="30.00" y1="310.76" x2="31.30" y2="310.76" stroke="#111" stroke-width="0.5" />
<line x1="30.00" y1="307.90" x2="31.30" y2="307.90" stroke="#111" stroke-width="0.5" />
<rect x="33.60" y="357.59" width="3.80" height="1.71" fill="#f5a014" />
<line x1="35.50" y1="357.59" x2="35.50" y2="357.02" stroke="#f5a014" stroke-width="0.7" />
<line x1="34.10" y1="357.02" x2="36.90" y2="357.02" stroke="#f5a014" stroke-width="0.7" />
<rect x="41.70" y="336.91" width="6.20" height="22.39" fill="#15508e" />
<line x1="44.80" y1="336.91" x2="44.80" y2="333.20" stroke="#15508e" stroke-width="0.7" />
<line x1="43.40" y1="333.20" x2="46.20" y2="333.20" stroke="#15508e" stroke-width="0.7" />
<rect x="50.90" y="353.02" width="6.00" height="6.28" fill="#34aa2c" />
<line x1="53.90" y1="353.02" x2="53.90" y2="351.10" stroke="#34aa2c" stroke-width="0.7" />
<line x1="52.50" y1="351.10" x2="55.30" y2="351.10" stroke="#34aa2c" stroke-width="0.7" />
<rect x="59.70" y="344.45" width="5.40" height="14.85" fill="#5f1e6a" />
<line x1="62.40" y1="344.45" x2="62.40" y2="343.02" stroke="#5f1e6a" stroke-width="0.7" />
<line x1="61.00" y1="343.02" x2="63.80" y2="343.02" stroke="#5f1e6a" stroke-width="0.7" />
<rect x="68.40" y="322.61" width="6.00" height="36.69" fill="#c80a2e" />
<line x1="71.40" y1="322.61" x2="71.40" y2="315.01" stroke="#c80a2e" stroke-width="0.7" />
<line x1="70.00" y1="315.01" x2="72.80" y2="315.01" stroke="#c80a2e" stroke-width="0.7" />
<text x="0" y="0" font-size="6.0" fill="#444" stroke="#444" stroke-width="0.08" text-anchor="middle" transform="translate(10.30,331.50) rotate(-90)">IL-2 (pg/mL)</text>
<line x1="37.90" y1="299.50" x2="71.50" y2="299.50" stroke="#222" stroke-width="0.9" />
<text x="53.60" y="300.30" font-size="6.0" fill="#222" text-anchor="middle" font-weight="bold" letter-spacing="0.55">***</text>
<line x1="43.50" y1="303.50" x2="71.50" y2="303.50" stroke="#222" stroke-width="0.9" />
<text x="55.30" y="304.80" font-size="6.0" fill="#222" text-anchor="middle" font-weight="bold" letter-spacing="0.55">**</text>
<line x1="54.00" y1="308.50" x2="71.50" y2="308.50" stroke="#222" stroke-width="0.9" />
<text x="60.80" y="309.40" font-size="6.0" fill="#222" text-anchor="middle" font-weight="bold" letter-spacing="0.55">***</text>
<line x1="60.60" y1="313.50" x2="70.90" y2="313.50" stroke="#222" stroke-width="0.9" />
<text x="65.80" y="314.00" font-size="6.0" fill="#222" text-anchor="middle" font-weight="bold" letter-spacing="0.55">***</text>
<line x1="115.50" y1="304.20" x2="115.50" y2="360.00" stroke="#111" stroke-width="1.0" />
<line x1="115.00" y1="359.50" x2="159.30" y2="359.50" stroke="#111" stroke-width="1.0" />
<line x1="137.30" y1="359.20" x2="137.30" y2="361.80" stroke="#111" stroke-width="0.7" />
<line x1="112.20" y1="359.20" x2="115.20" y2="359.20" stroke="#111" stroke-width="0.7" />
<text x="109.20" y="361.40" font-size="6.2" fill="#3b3b3b" stroke="#3b3b3b" stroke-width="0.08" text-anchor="end" font-weight="normal" >0</text>
<line x1="112.20" y1="346.25" x2="115.20" y2="346.25" stroke="#111" stroke-width="0.7" />
<text x="109.20" y="348.45" font-size="6.2" fill="#3b3b3b" stroke="#3b3b3b" stroke-width="0.08" text-anchor="end" font-weight="normal" >30</text>
<line x1="112.20" y1="333.30" x2="115.20" y2="333.30" stroke="#111" stroke-width="0.7" />
<text x="109.20" y="335.50" font-size="6.2" fill="#3b3b3b" stroke="#3b3b3b" stroke-width="0.08" text-anchor="end" font-weight="normal" >60</text>
<line x1="112.20" y1="320.35" x2="115.20" y2="320.35" stroke="#111" stroke-width="0.7" />
<text x="109.20" y="322.55" font-size="6.2" fill="#3b3b3b" stroke="#3b3b3b" stroke-width="0.08" text-anchor="end" font-weight="normal" >90</text>
<line x1="112.20" y1="307.40" x2="115.20" y2="307.40" stroke="#111" stroke-width="0.7" />
<text x="109.20" y="309.60" font-size="6.2" fill="#3b3b3b" stroke="#3b3b3b" stroke-width="0.08" text-anchor="end" font-weight="normal" >120</text>
<line x1="113.90" y1="359.20" x2="115.20" y2="359.20" stroke="#111" stroke-width="0.5" />
<line x1="113.90" y1="356.61" x2="115.20" y2="356.61" stroke="#111" stroke-width="0.5" />
<line x1="113.90" y1="354.02" x2="115.20" y2="354.02" stroke="#111" stroke-width="0.5" />
<line x1="113.90" y1="351.43" x2="115.20" y2="351.43" stroke="#111" stroke-width="0.5" />
<line x1="113.90" y1="348.84" x2="115.20" y2="348.84" stroke="#111" stroke-width="0.5" />
<line x1="113.90" y1="346.25" x2="115.20" y2="346.25" stroke="#111" stroke-width="0.5" />
<line x1="113.90" y1="343.66" x2="115.20" y2="343.66" stroke="#111" stroke-width="0.5" />
<line x1="113.90" y1="341.07" x2="115.20" y2="341.07" stroke="#111" stroke-width="0.5" />
<line x1="113.90" y1="338.48" x2="115.20" y2="338.48" stroke="#111" stroke-width="0.5" />
<line x1="113.90" y1="335.89" x2="115.20" y2="335.89" stroke="#111" stroke-width="0.5" />
<line x1="113.90" y1="333.30" x2="115.20" y2="333.30" stroke="#111" stroke-width="0.5" />
<line x1="113.90" y1="330.71" x2="115.20" y2="330.71" stroke="#111" stroke-width="0.5" />
<line x1="113.90" y1="328.12" x2="115.20" y2="328.12" stroke="#111" stroke-width="0.5" />
<line x1="113.90" y1="325.53" x2="115.20" y2="325.53" stroke="#111" stroke-width="0.5" />
<line x1="113.90" y1="322.94" x2="115.20" y2="322.94" stroke="#111" stroke-width="0.5" />
<line x1="113.90" y1="320.35" x2="115.20" y2="320.35" stroke="#111" stroke-width="0.5" />
<line x1="113.90" y1="317.76" x2="115.20" y2="317.76" stroke="#111" stroke-width="0.5" />
<line x1="113.90" y1="315.17" x2="115.20" y2="315.17" stroke="#111" stroke-width="0.5" />
<line x1="113.90" y1="312.58" x2="115.20" y2="312.58" stroke="#111" stroke-width="0.5" />
<line x1="113.90" y1="309.99" x2="115.20" y2="309.99" stroke="#111" stroke-width="0.5" />
<line x1="113.90" y1="307.40" x2="115.20" y2="307.40" stroke="#111" stroke-width="0.5" />
<rect x="117.30" y="344.78" width="5.30" height="14.42" fill="#f5a014" />
<line x1="119.95" y1="344.78" x2="119.95" y2="340.03" stroke="#f5a014" stroke-width="0.7" />
<line x1="118.55" y1="340.03" x2="121.35" y2="340.03" stroke="#f5a014" stroke-width="0.7" />
<rect x="125.90" y="335.03" width="5.60" height="24.17" fill="#15508e" />
<line x1="128.70" y1="335.03" x2="128.70" y2="328.55" stroke="#15508e" stroke-width="0.7" />
<line x1="127.30" y1="328.55" x2="130.10" y2="328.55" stroke="#15508e" stroke-width="0.7" />
<rect x="134.80" y="343.66" width="5.60" height="15.54" fill="#34aa2c" />
<line x1="137.60" y1="343.66" x2="137.60" y2="338.48" stroke="#34aa2c" stroke-width="0.7" />
<line x1="136.20" y1="338.48" x2="139.00" y2="338.48" stroke="#34aa2c" stroke-width="0.7" />
<rect x="143.30" y="337.66" width="5.90" height="21.54" fill="#5f1e6a" />
<line x1="146.25" y1="337.66" x2="146.25" y2="332.48" stroke="#5f1e6a" stroke-width="0.7" />
<line x1="144.85" y1="332.48" x2="147.65" y2="332.48" stroke="#5f1e6a" stroke-width="0.7" />
<rect x="152.30" y="319.05" width="6.00" height="40.15" fill="#c80a2e" />
<line x1="155.30" y1="319.05" x2="155.30" y2="313.66" stroke="#c80a2e" stroke-width="0.7" />
<line x1="153.90" y1="313.66" x2="156.70" y2="313.66" stroke="#c80a2e" stroke-width="0.7" />
<text x="0" y="0" font-size="6.0" fill="#444" stroke="#444" stroke-width="0.08" text-anchor="middle" transform="translate(92.00,331.50) rotate(-90)">IFN-γ (pg/mL)</text>
<line x1="122.20" y1="293.50" x2="155.40" y2="293.50" stroke="#222" stroke-width="0.9" />
<text x="134.50" y="294.70" font-size="6.0" fill="#222" text-anchor="middle" font-weight="bold" letter-spacing="0.55">*</text>
<line x1="128.00" y1="298.50" x2="155.40" y2="298.50" stroke="#222" stroke-width="0.9" />
<text x="139.10" y="299.40" font-size="6.0" fill="#222" text-anchor="middle" font-weight="bold" letter-spacing="0.55">*</text>
<line x1="138.00" y1="303.50" x2="155.40" y2="303.50" stroke="#222" stroke-width="0.9" />
<text x="144.90" y="304.20" font-size="6.0" fill="#222" text-anchor="middle" font-weight="bold" letter-spacing="0.55">*</text>
<line x1="145.00" y1="308.50" x2="154.90" y2="308.50" stroke="#222" stroke-width="0.9" />
<text x="149.00" y="309.20" font-size="6.0" fill="#222" text-anchor="middle" font-weight="bold" letter-spacing="0.55">*</text>
<line x1="195.50" y1="304.20" x2="195.50" y2="360.00" stroke="#111" stroke-width="1.0" />
<line x1="195.00" y1="359.50" x2="239.60" y2="359.50" stroke="#111" stroke-width="1.0" />
<line x1="217.30" y1="359.20" x2="217.30" y2="361.80" stroke="#111" stroke-width="0.7" />
<line x1="192.60" y1="359.20" x2="195.60" y2="359.20" stroke="#111" stroke-width="0.7" />
<text x="189.60" y="361.40" font-size="6.2" fill="#3b3b3b" stroke="#3b3b3b" stroke-width="0.08" text-anchor="end" font-weight="normal" >0</text>
<line x1="192.60" y1="346.25" x2="195.60" y2="346.25" stroke="#111" stroke-width="0.7" />
<text x="189.60" y="348.45" font-size="6.2" fill="#3b3b3b" stroke="#3b3b3b" stroke-width="0.08" text-anchor="end" font-weight="normal" >25</text>
<line x1="192.60" y1="333.30" x2="195.60" y2="333.30" stroke="#111" stroke-width="0.7" />
<text x="189.60" y="335.50" font-size="6.2" fill="#3b3b3b" stroke="#3b3b3b" stroke-width="0.08" text-anchor="end" font-weight="normal" >50</text>
<line x1="192.60" y1="320.35" x2="195.60" y2="320.35" stroke="#111" stroke-width="0.7" />
<text x="189.60" y="322.55" font-size="6.2" fill="#3b3b3b" stroke="#3b3b3b" stroke-width="0.08" text-anchor="end" font-weight="normal" >75</text>
<line x1="192.60" y1="307.40" x2="195.60" y2="307.40" stroke="#111" stroke-width="0.7" />
<text x="189.60" y="309.60" font-size="6.2" fill="#3b3b3b" stroke="#3b3b3b" stroke-width="0.08" text-anchor="end" font-weight="normal" >100</text>
<line x1="194.30" y1="359.20" x2="195.60" y2="359.20" stroke="#111" stroke-width="0.5" />
<line x1="194.30" y1="356.61" x2="195.60" y2="356.61" stroke="#111" stroke-width="0.5" />
<line x1="194.30" y1="354.02" x2="195.60" y2="354.02" stroke="#111" stroke-width="0.5" />
<line x1="194.30" y1="351.43" x2="195.60" y2="351.43" stroke="#111" stroke-width="0.5" />
<line x1="194.30" y1="348.84" x2="195.60" y2="348.84" stroke="#111" stroke-width="0.5" />
<line x1="194.30" y1="346.25" x2="195.60" y2="346.25" stroke="#111" stroke-width="0.5" />
<line x1="194.30" y1="343.66" x2="195.60" y2="343.66" stroke="#111" stroke-width="0.5" />
<line x1="194.30" y1="341.07" x2="195.60" y2="341.07" stroke="#111" stroke-width="0.5" />
<line x1="194.30" y1="338.48" x2="195.60" y2="338.48" stroke="#111" stroke-width="0.5" />
<line x1="194.30" y1="335.89" x2="195.60" y2="335.89" stroke="#111" stroke-width="0.5" />
<line x1="194.30" y1="333.30" x2="195.60" y2="333.30" stroke="#111" stroke-width="0.5" />
<line x1="194.30" y1="330.71" x2="195.60" y2="330.71" stroke="#111" stroke-width="0.5" />
<line x1="194.30" y1="328.12" x2="195.60" y2="328.12" stroke="#111" stroke-width="0.5" />
<line x1="194.30" y1="325.53" x2="195.60" y2="325.53" stroke="#111" stroke-width="0.5" />
<line x1="194.30" y1="322.94" x2="195.60" y2="322.94" stroke="#111" stroke-width="0.5" />
<line x1="194.30" y1="320.35" x2="195.60" y2="320.35" stroke="#111" stroke-width="0.5" />
<line x1="194.30" y1="317.76" x2="195.60" y2="317.76" stroke="#111" stroke-width="0.5" />
<line x1="194.30" y1="315.17" x2="195.60" y2="315.17" stroke="#111" stroke-width="0.5" />
<line x1="194.30" y1="312.58" x2="195.60" y2="312.58" stroke="#111" stroke-width="0.5" />
<line x1="194.30" y1="309.99" x2="195.60" y2="309.99" stroke="#111" stroke-width="0.5" />
<line x1="194.30" y1="307.40" x2="195.60" y2="307.40" stroke="#111" stroke-width="0.5" />
<rect x="197.70" y="357.65" width="4.90" height="1.55" fill="#f5a014" />
<line x1="200.15" y1="357.65" x2="200.15" y2="357.13" stroke="#f5a014" stroke-width="0.7" />
<line x1="198.75" y1="357.13" x2="201.55" y2="357.13" stroke="#f5a014" stroke-width="0.7" />
<rect x="206.20" y="331.80" width="5.60" height="27.40" fill="#15508e" />
<line x1="209.00" y1="331.80" x2="209.00" y2="325.06" stroke="#15508e" stroke-width="0.7" />
<line x1="207.60" y1="325.06" x2="210.40" y2="325.06" stroke="#15508e" stroke-width="0.7" />
<rect x="215.10" y="352.57" width="5.60" height="6.63" fill="#34aa2c" />
<line x1="217.90" y1="352.57" x2="217.90" y2="349.25" stroke="#34aa2c" stroke-width="0.7" />
<line x1="216.50" y1="349.25" x2="219.30" y2="349.25" stroke="#34aa2c" stroke-width="0.7" />
<rect x="224.00" y="355.52" width="5.40" height="3.68" fill="#5f1e6a" />
<line x1="226.70" y1="355.52" x2="226.70" y2="353.29" stroke="#5f1e6a" stroke-width="0.7" />
<line x1="225.30" y1="353.29" x2="228.10" y2="353.29" stroke="#5f1e6a" stroke-width="0.7" />
<rect x="232.90" y="318.69" width="5.70" height="40.51" fill="#c80a2e" />
<line x1="235.75" y1="318.69" x2="235.75" y2="312.22" stroke="#c80a2e" stroke-width="0.7" />
<line x1="234.35" y1="312.22" x2="237.15" y2="312.22" stroke="#c80a2e" stroke-width="0.7" />
<text x="0" y="0" font-size="6.0" fill="#444" stroke="#444" stroke-width="0.08" text-anchor="middle" transform="translate(172.30,331.50) rotate(-90)">TNF-α (pg/mL)</text>
<line x1="202.70" y1="293.50" x2="235.90" y2="293.50" stroke="#222" stroke-width="0.9" />
<text x="215.10" y="294.60" font-size="6.0" fill="#222" text-anchor="middle" font-weight="bold" letter-spacing="0.55">***</text>
<line x1="208.50" y1="298.50" x2="235.90" y2="298.50" stroke="#222" stroke-width="0.9" />
<text x="219.30" y="299.40" font-size="6.0" fill="#222" text-anchor="middle" font-weight="bold" letter-spacing="0.55">*</text>
<line x1="218.60" y1="303.50" x2="235.90" y2="303.50" stroke="#222" stroke-width="0.9" />
<text x="225.10" y="304.20" font-size="6.0" fill="#222" text-anchor="middle" font-weight="bold" letter-spacing="0.55">***</text>
<line x1="225.30" y1="308.50" x2="235.40" y2="308.50" stroke="#222" stroke-width="0.9" />
<text x="229.50" y="309.20" font-size="6.0" fill="#222" text-anchor="middle" font-weight="bold" letter-spacing="0.55">***</text>
<rect x="245.60" y="310.50" width="4.50" height="4.40" fill="#f5a014" />
<text x="253.80" y="315.10" font-size="6.6" fill="#3b3b3b" stroke="#3b3b3b" stroke-width="0.08" text-anchor="start" font-weight="normal" >Control</text>
<rect x="245.60" y="319.45" width="4.50" height="4.40" fill="#15508e" />
<text x="253.80" y="324.05" font-size="6.6" fill="#3b3b3b" stroke="#3b3b3b" stroke-width="0.08" text-anchor="start" font-weight="normal" >CD19/CD3 HCT</text>
<rect x="245.60" y="328.40" width="4.50" height="4.40" fill="#34aa2c" />
<text x="253.80" y="333.00" font-size="6.6" fill="#3b3b3b" stroke="#3b3b3b" stroke-width="0.08" text-anchor="start" font-weight="normal" >CD22/CD3 LCT</text>
<rect x="245.60" y="337.35" width="4.50" height="4.40" fill="#5f1e6a" />
<text x="253.80" y="341.95" font-size="6.6" fill="#3b3b3b" stroke="#3b3b3b" stroke-width="0.08" text-anchor="start" font-weight="normal" >CD19/CD3 HCT + CD22/CD3 LCT</text>
<rect x="245.60" y="346.30" width="4.50" height="4.40" fill="#c80a2e" />
<text x="253.80" y="350.90" font-size="6.6" fill="#3b3b3b" stroke="#3b3b3b" stroke-width="0.08" text-anchor="start" font-weight="normal" >CD19/CD22/CD3 (CC)</text>
</svg>
</body></html>
